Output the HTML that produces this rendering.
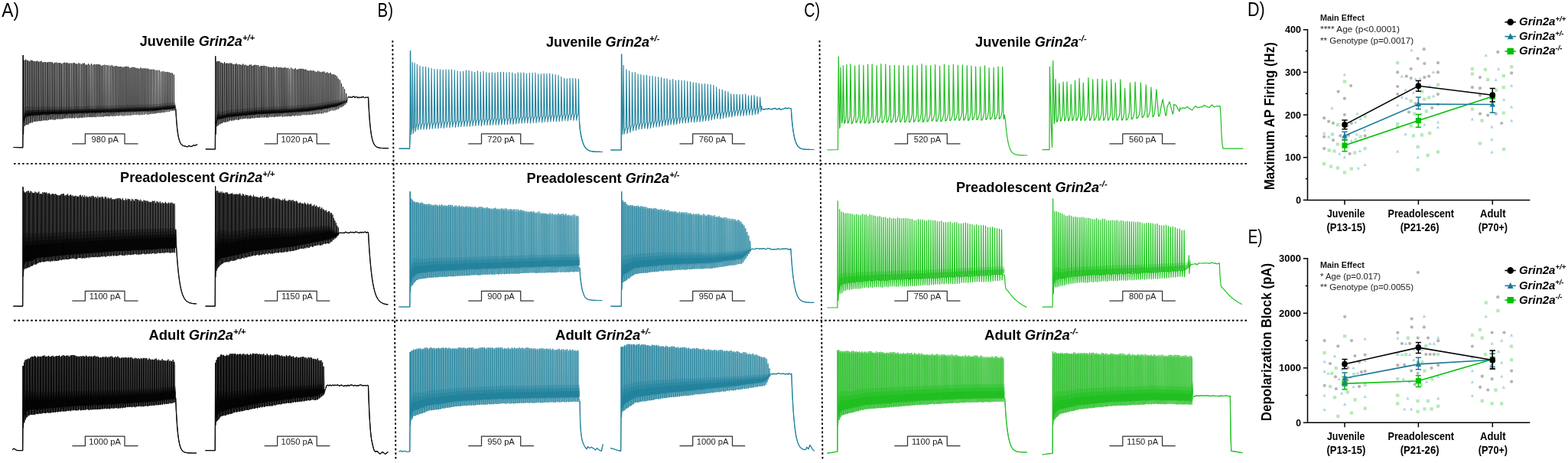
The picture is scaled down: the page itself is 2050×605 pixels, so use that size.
<!DOCTYPE html><html><head><meta charset="utf-8"><title>Grin2a firing</title><style>html,body{margin:0;padding:0;background:#fff;overflow:hidden;width:2050px;height:605px;}svg{display:block;}</style></head><body><svg width="2050" height="605" viewBox="0 0 2050 605" font-family="'Liberation Sans', Arial, sans-serif"><rect width="100%" height="100%" fill="#fff"/><text x="2.2" y="21.7" font-size="25.5" font-weight="normal" font-style="normal" text-anchor="start" fill="#000" textLength="22.8" lengthAdjust="spacingAndGlyphs">A)</text>
<text x="493.6" y="21.7" font-size="25.5" font-weight="normal" font-style="normal" text-anchor="start" fill="#000" textLength="20.4" lengthAdjust="spacingAndGlyphs">B)</text>
<text x="1051.2" y="21.7" font-size="25.5" font-weight="normal" font-style="normal" text-anchor="start" fill="#000" textLength="20.8" lengthAdjust="spacingAndGlyphs">C)</text>
<text x="1631" y="21.4" font-size="25.5" font-weight="normal" font-style="normal" text-anchor="start" fill="#000" textLength="22.8" lengthAdjust="spacingAndGlyphs">D)</text>
<text x="1631.8" y="317.8" font-size="25.5" font-weight="normal" font-style="normal" text-anchor="start" fill="#000" textLength="18.7" lengthAdjust="spacingAndGlyphs">E)</text>
<text x="182.7" y="60.4" font-size="18.6" font-weight="bold" fill="#000" textLength="150.3" lengthAdjust="spacingAndGlyphs">Juvenile <tspan font-style="italic">Grin2a</tspan><tspan font-style="italic" font-size="11.5" dy="-7">+/+</tspan></text>
<text x="157.1" y="238.2" font-size="18.6" font-weight="bold" fill="#000" textLength="202.3" lengthAdjust="spacingAndGlyphs">Preadolescent <tspan font-style="italic">Grin2a</tspan><tspan font-style="italic" font-size="11.5" dy="-7">+/+</tspan></text>
<text x="194.5" y="443.9" font-size="18.6" font-weight="bold" fill="#000" textLength="127" lengthAdjust="spacingAndGlyphs">Adult <tspan font-style="italic">Grin2a</tspan><tspan font-style="italic" font-size="11.5" dy="-7">+/+</tspan></text>
<text x="714" y="60.5" font-size="18.6" font-weight="bold" fill="#000" textLength="148.4" lengthAdjust="spacingAndGlyphs">Juvenile <tspan font-style="italic">Grin2a</tspan><tspan font-style="italic" font-size="11.5" dy="-7">+/-</tspan></text>
<text x="688.6" y="239.1" font-size="18.6" font-weight="bold" fill="#000" textLength="200" lengthAdjust="spacingAndGlyphs">Preadolescent <tspan font-style="italic">Grin2a</tspan><tspan font-style="italic" font-size="11.5" dy="-7">+/-</tspan></text>
<text x="726" y="443.7" font-size="18.6" font-weight="bold" fill="#000" textLength="124.9" lengthAdjust="spacingAndGlyphs">Adult <tspan font-style="italic">Grin2a</tspan><tspan font-style="italic" font-size="11.5" dy="-7">+/-</tspan></text>
<text x="1275.1" y="60.5" font-size="18.6" font-weight="bold" fill="#000" textLength="145.6" lengthAdjust="spacingAndGlyphs">Juvenile <tspan font-style="italic">Grin2a</tspan><tspan font-style="italic" font-size="11.5" dy="-7">-/-</tspan></text>
<text x="1249.9" y="250.5" font-size="18.6" font-weight="bold" fill="#000" textLength="197.8" lengthAdjust="spacingAndGlyphs">Preadolescent <tspan font-style="italic">Grin2a</tspan><tspan font-style="italic" font-size="11.5" dy="-7">-/-</tspan></text>
<text x="1287.1" y="443.7" font-size="18.6" font-weight="bold" fill="#000" textLength="122.5" lengthAdjust="spacingAndGlyphs">Adult <tspan font-style="italic">Grin2a</tspan><tspan font-style="italic" font-size="11.5" dy="-7">-/-</tspan></text>
<g stroke="#000" stroke-width="1.9" stroke-dasharray="2.6 2.95" fill="none">
<line x1="18" y1="213.9" x2="1632" y2="213.9"/>
<line x1="18" y1="418.8" x2="1632" y2="418.8"/>
<line x1="513.3" y1="53" x2="517.4" y2="602"/>
<line x1="1071.5" y1="53" x2="1075.4" y2="602"/>
</g>
<path d="M94.3 187.8H111.4V174.9H163V187.8H180.5" fill="none" stroke="#333" stroke-width="1.25" stroke-linejoin="round"/>
<text x="137.2" y="185.8" font-size="11.2" font-weight="normal" font-style="normal" text-anchor="middle" fill="#1a1a1a">980 pA</text>
<path d="M345.6 187.8H362.6V174.9H414.2V187.8H431.3" fill="none" stroke="#333" stroke-width="1.25" stroke-linejoin="round"/>
<text x="388.4" y="185.8" font-size="11.2" font-weight="normal" font-style="normal" text-anchor="middle" fill="#1a1a1a">1020 pA</text>
<path d="M612.2 187.8H629.5V174.9H680.7V187.8H697.9" fill="none" stroke="#333" stroke-width="1.25" stroke-linejoin="round"/>
<text x="655.1" y="185.8" font-size="11.2" font-weight="normal" font-style="normal" text-anchor="middle" fill="#1a1a1a">720 pA</text>
<path d="M888.5 187.8H905.7V174.9H957.5V187.8H974.2" fill="none" stroke="#333" stroke-width="1.25" stroke-linejoin="round"/>
<text x="931.6" y="185.8" font-size="11.2" font-weight="normal" font-style="normal" text-anchor="middle" fill="#1a1a1a">760 pA</text>
<path d="M1169.3 187.8H1186.5V174.9H1238.3V187.8H1255.5" fill="none" stroke="#333" stroke-width="1.25" stroke-linejoin="round"/>
<text x="1212.4" y="185.8" font-size="11.2" font-weight="normal" font-style="normal" text-anchor="middle" fill="#1a1a1a">520 pA</text>
<path d="M1450.5 187.8H1467.8V174.9H1519.6V187.8H1536.8" fill="none" stroke="#333" stroke-width="1.25" stroke-linejoin="round"/>
<text x="1493.7" y="185.8" font-size="11.2" font-weight="normal" font-style="normal" text-anchor="middle" fill="#1a1a1a">560 pA</text>
<path d="M94.3 393H111.4V380.3H163V393H180.5" fill="none" stroke="#333" stroke-width="1.25" stroke-linejoin="round"/>
<text x="137.2" y="391" font-size="11.2" font-weight="normal" font-style="normal" text-anchor="middle" fill="#1a1a1a">1100 pA</text>
<path d="M345.6 393H362.6V380.3H414.2V393H431.3" fill="none" stroke="#333" stroke-width="1.25" stroke-linejoin="round"/>
<text x="388.4" y="391" font-size="11.2" font-weight="normal" font-style="normal" text-anchor="middle" fill="#1a1a1a">1150 pA</text>
<path d="M612.2 393H629.5V380.3H680.7V393H697.9" fill="none" stroke="#333" stroke-width="1.25" stroke-linejoin="round"/>
<text x="655.1" y="391" font-size="11.2" font-weight="normal" font-style="normal" text-anchor="middle" fill="#1a1a1a">900 pA</text>
<path d="M888.5 393H905.7V380.3H957.5V393H974.2" fill="none" stroke="#333" stroke-width="1.25" stroke-linejoin="round"/>
<text x="931.6" y="391" font-size="11.2" font-weight="normal" font-style="normal" text-anchor="middle" fill="#1a1a1a">950 pA</text>
<path d="M1169.3 393H1186.5V380.3H1238.3V393H1255.5" fill="none" stroke="#333" stroke-width="1.25" stroke-linejoin="round"/>
<text x="1212.4" y="391" font-size="11.2" font-weight="normal" font-style="normal" text-anchor="middle" fill="#1a1a1a">750 pA</text>
<path d="M1450.5 393H1467.8V380.3H1519.6V393H1536.8" fill="none" stroke="#333" stroke-width="1.25" stroke-linejoin="round"/>
<text x="1493.7" y="391" font-size="11.2" font-weight="normal" font-style="normal" text-anchor="middle" fill="#1a1a1a">800 pA</text>
<path d="M94.3 582.7H111.4V570.2H163V582.7H180.5" fill="none" stroke="#333" stroke-width="1.25" stroke-linejoin="round"/>
<text x="137.2" y="580.7" font-size="11.2" font-weight="normal" font-style="normal" text-anchor="middle" fill="#1a1a1a">1000 pA</text>
<path d="M345.6 582.7H362.6V570.2H414.2V582.7H431.3" fill="none" stroke="#333" stroke-width="1.25" stroke-linejoin="round"/>
<text x="388.4" y="580.7" font-size="11.2" font-weight="normal" font-style="normal" text-anchor="middle" fill="#1a1a1a">1050 pA</text>
<path d="M612.2 582.7H629.5V570.2H680.7V582.7H697.9" fill="none" stroke="#333" stroke-width="1.25" stroke-linejoin="round"/>
<text x="655.1" y="580.7" font-size="11.2" font-weight="normal" font-style="normal" text-anchor="middle" fill="#1a1a1a">950 pA</text>
<path d="M888.5 582.7H905.7V570.2H957.5V582.7H974.2" fill="none" stroke="#333" stroke-width="1.25" stroke-linejoin="round"/>
<text x="931.6" y="580.7" font-size="11.2" font-weight="normal" font-style="normal" text-anchor="middle" fill="#1a1a1a">1000 pA</text>
<path d="M1169.3 582.7H1186.5V570.2H1238.3V582.7H1255.5" fill="none" stroke="#333" stroke-width="1.25" stroke-linejoin="round"/>
<text x="1212.4" y="580.7" font-size="11.2" font-weight="normal" font-style="normal" text-anchor="middle" fill="#1a1a1a">1100 pA</text>
<path d="M1450.5 582.7H1467.8V570.2H1519.6V582.7H1536.8" fill="none" stroke="#333" stroke-width="1.25" stroke-linejoin="round"/>
<text x="1493.7" y="580.7" font-size="11.2" font-weight="normal" font-style="normal" text-anchor="middle" fill="#1a1a1a">1150 pA</text>
<path d="M30 147L33.3 139.1L36.7 139.2L40 139.3L43.3 139.4L46.6 139.5L50 139.4L53.3 139.4L56.6 139.3L60 139.3L63.3 139.3L66.6 139.3L69.9 139.3L73.3 139.4L76.6 139.4L79.9 139.4L83.3 139.5L86.6 139.5L89.9 139.4L93.2 139.3L96.6 139.2L99.9 139.1L103.2 139L106.6 138.9L109.9 138.8L113.2 138.7L116.5 138.6L119.9 138.5L123.2 138.5L126.5 138.4L129.8 138.3L133.2 138.2L136.5 138.1L139.8 138L143.2 137.9L146.5 137.8L149.8 137.7L153.1 137.6L156.5 137.6L159.8 137.5L163.1 137.4L166.5 137.3L169.8 137.2L173.1 137.1L176.4 137L179.8 136.9L183.1 136.8L186.4 136.7L189.8 136.6L193.1 136.5L196.4 136.4L199.7 136.3L203.1 136L206.4 135.7L209.7 135.4L213.1 135.1L216.4 134.8L219.7 134.5L223 134.2L226.4 133.8L229.7 133.5L229.7 141.5L226.4 141.9L223 142.2L219.7 142.5L216.4 142.9L213.1 143.2L209.7 143.5L206.4 143.9L203.1 144.2L199.7 144.5L196.4 144.6L193.1 144.7L189.8 144.9L186.4 145L183.1 145.1L179.8 145.2L176.4 145.3L173.1 145.5L169.8 145.6L166.5 145.7L163.1 145.8L159.8 145.9L156.5 146.1L153.1 146.2L149.8 146.3L146.5 146.4L143.2 146.5L139.8 146.6L136.5 146.8L133.2 146.9L129.8 147L126.5 147.1L123.2 147.2L119.9 147.3L116.5 147.4L113.2 147.5L109.9 147.6L106.6 147.7L103.2 147.9L99.9 148L96.6 148.1L93.2 148.2L89.9 148.3L86.6 148.4L83.3 148.6L79.9 148.7L76.6 148.8L73.3 149L69.9 149.1L66.6 149.2L63.3 149.4L60 149.5L56.6 149.7L53.3 149.9L50 150.2L46.6 150.4L43.3 150.8L40 151.3L36.7 151.9L33.3 152.4L30 161Z" fill="#000" fill-opacity="0.2"/>
<path d="M30 152.6L33.3 144.4L36.7 144.3L40 144.1L43.3 144L46.6 143.8L50 143.7L53.3 143.6L56.6 143.5L60 143.4L63.3 143.3L66.6 143.3L69.9 143.3L73.3 143.2L76.6 143.2L79.9 143.2L83.3 143.1L86.6 143.1L89.9 142.9L93.2 142.8L96.6 142.7L99.9 142.6L103.2 142.5L106.6 142.4L109.9 142.3L113.2 142.2L116.5 142.1L119.9 142L123.2 141.9L126.5 141.9L129.8 141.8L133.2 141.7L136.5 141.6L139.8 141.5L143.2 141.4L146.5 141.3L149.8 141.2L153.1 141.1L156.5 141L159.8 140.8L163.1 140.7L166.5 140.6L169.8 140.5L173.1 140.4L176.4 140.3L179.8 140.2L183.1 140.1L186.4 140L189.8 139.9L193.1 139.8L196.4 139.7L199.7 139.6L203.1 139.3L206.4 139L209.7 138.6L213.1 138.3L216.4 138L219.7 137.7L223 137.4L226.4 137.1L229.7 136.7L229.7 141.5L226.4 141.9L223 142.2L219.7 142.5L216.4 142.9L213.1 143.2L209.7 143.5L206.4 143.9L203.1 144.2L199.7 144.5L196.4 144.6L193.1 144.7L189.8 144.9L186.4 145L183.1 145.1L179.8 145.2L176.4 145.3L173.1 145.5L169.8 145.6L166.5 145.7L163.1 145.8L159.8 145.9L156.5 146.1L153.1 146.2L149.8 146.3L146.5 146.4L143.2 146.5L139.8 146.6L136.5 146.8L133.2 146.9L129.8 147L126.5 147.1L123.2 147.2L119.9 147.3L116.5 147.4L113.2 147.5L109.9 147.6L106.6 147.7L103.2 147.9L99.9 148L96.6 148.1L93.2 148.2L89.9 148.3L86.6 148.4L83.3 148.6L79.9 148.7L76.6 148.8L73.3 149L69.9 149.1L66.6 149.2L63.3 149.4L60 149.5L56.6 149.7L53.3 149.9L50 150.2L46.6 150.4L43.3 150.8L40 151.3L36.7 151.9L33.3 152.4L30 161Z" fill="#000" fill-opacity="0.5"/>
<path d="M30 156.1L33.3 147.8L36.7 147.5L40 147.1L43.3 146.8L46.6 146.6L50 146.4L53.3 146.2L56.6 146.1L60 145.9L63.3 145.8L66.6 145.8L69.9 145.7L73.3 145.6L76.6 145.5L79.9 145.5L83.3 145.4L86.6 145.3L89.9 145.2L93.2 145.1L96.6 145L99.9 144.9L103.2 144.8L106.6 144.6L109.9 144.5L113.2 144.4L116.5 144.3L119.9 144.2L123.2 144.1L126.5 144L129.8 144L133.2 143.9L136.5 143.7L139.8 143.6L143.2 143.5L146.5 143.4L149.8 143.3L153.1 143.2L156.5 143.1L159.8 143L163.1 142.9L166.5 142.7L169.8 142.6L173.1 142.5L176.4 142.4L179.8 142.3L183.1 142.2L186.4 142.1L189.8 142L193.1 141.9L196.4 141.7L199.7 141.6L203.1 141.3L206.4 141L209.7 140.7L213.1 140.4L216.4 140L219.7 139.7L223 139.4L226.4 139.1L229.7 138.7L229.7 141.5L226.4 141.9L223 142.2L219.7 142.5L216.4 142.9L213.1 143.2L209.7 143.5L206.4 143.9L203.1 144.2L199.7 144.5L196.4 144.6L193.1 144.7L189.8 144.9L186.4 145L183.1 145.1L179.8 145.2L176.4 145.3L173.1 145.5L169.8 145.6L166.5 145.7L163.1 145.8L159.8 145.9L156.5 146.1L153.1 146.2L149.8 146.3L146.5 146.4L143.2 146.5L139.8 146.6L136.5 146.8L133.2 146.9L129.8 147L126.5 147.1L123.2 147.2L119.9 147.3L116.5 147.4L113.2 147.5L109.9 147.6L106.6 147.7L103.2 147.9L99.9 148L96.6 148.1L93.2 148.2L89.9 148.3L86.6 148.4L83.3 148.6L79.9 148.7L76.6 148.8L73.3 149L69.9 149.1L66.6 149.2L63.3 149.4L60 149.5L56.6 149.7L53.3 149.9L50 150.2L46.6 150.4L43.3 150.8L40 151.3L36.7 151.9L33.3 152.4L30 161Z" fill="#000" fill-opacity="0.8"/>
<path d="M17.4 192.5L29.8 192.8L30 161.8L30.2 72L30.6 175.7L31.1 161.3L31.7 153.8L31.9 78.6L32.3 164.7L32.8 153.9L33.4 154L33.6 77.8L34 163.3L34.5 153.5L35.1 153.6L35.3 78.7L35.7 163.1L36.2 153.3L36.8 152.5L37 79.3L37.4 162.5L37.9 152.4L38.5 151.8L38.7 80.1L39.1 161L39.6 151.5L40.2 152.2L40.4 78.6L40.8 160.4L41.3 152.6L41.9 151.5L42.1 78.9L42.5 160.2L43 151.4L43.6 151.9L43.8 79.8L44.3 159.1L44.7 151.6L45.3 151.3L45.5 80.2L46 158.9L46.4 151.4L47 150.6L47.2 79.9L47.7 158.5L48.1 150.9L48.8 150.8L49 79.6L49.4 158.6L49.9 151.3L50.5 150.2L50.7 80.8L51.2 158.1L51.6 149.7L52.2 151.1L52.4 80.3L52.9 158.3L53.3 151.1L54 150.2L54.2 79.7L54.6 158L55.1 150.3L55.7 150.1L55.9 81.5L56.4 157.4L56.8 150.2L57.5 149.9L57.7 81.1L58.1 157.3L58.6 150.4L59.2 150.6L59.4 81L59.9 157.3L60.3 150.9L61 149.7L61.2 81.6L61.6 157.4L62.1 149.4L62.7 150.5L62.9 81.2L63.4 156.9L63.8 150.5L64.5 150.3L64.7 80.9L65.1 156.3L65.6 150.6L66.3 149.9L66.5 81L66.9 156.2L67.4 150.3L68 149.7L68.2 81.1L68.7 156.3L69.1 150.1L69.8 149.9L70 82.7L70.5 156.6L70.9 149.8L71.6 149.1L71.8 81.8L72.2 156.5L72.7 148.7L73.4 149.7L73.6 81.5L74 155.7L74.5 149.7L75.2 149.9L75.4 82.4L75.8 155.5L76.3 149.8L77 148.9L77.2 82L77.6 155.7L78.1 149.1L78.8 149.1L79 82.3L79.4 155.6L79.9 148.5L80.5 148.8L80.7 83.2L81.2 155.6L81.6 149.2L82.4 149.5L82.6 82.2L83 155.1L83.5 149.6L84.2 149.3L84.4 81.6L84.8 154.6L85.3 148.9L86 149.4L86.2 82.2L86.6 154.5L87.1 149L87.8 149.3L88 81.8L88.4 154.7L88.9 149.8L89.6 149L89.8 82.9L90.3 154.4L90.7 148.8L91.4 148.4L91.6 82.4L92.1 154.3L92.5 149L93.3 149.1L93.5 82.7L93.9 154.5L94.4 148.6L95.1 148.3L95.3 82.5L95.7 154.2L96.2 147.9L96.9 148.6L97.1 81.9L97.6 154.8L98 148.1L98.8 148.4L99 83L99.4 153.7L99.9 149L100.6 148.7L100.8 83.7L101.3 154.3L101.7 148.5L102.5 148.3L102.7 82.4L103.1 154.3L103.6 148.7L104.3 148L104.5 82.8L105 153.6L105.4 148.6L106.2 147.9L106.4 83.9L106.8 154.1L107.3 148.2L108 148.3L108.2 82.8L108.7 153.7L109.1 147.7L109.9 148.3L110.1 82.5L110.5 153.4L111 148.5L111.8 147.6L112 84.5L112.4 153.4L112.9 148.2L113.6 148.2L113.8 84.6L114.3 153.2L114.7 147.8L115.5 147.7L115.7 83.3L116.2 153L116.6 148.2L117.4 147.7L117.6 84.7L118 153.1L118.5 148L119.3 147.4L119.5 83.3L119.9 153.2L120.4 147.7L121.2 147.9L121.4 84.7L121.8 152.9L122.3 148.3L123.1 147.2L123.3 84L123.7 153.1L124.2 147.1L125 147.4L125.2 84.3L125.6 153.2L126.1 147L126.9 147.2L127.1 83.9L127.5 152.3L128 147.5L128.8 147.1L129 84L129.4 152.9L129.9 147.2L130.7 147.7L130.9 84.6L131.3 152.5L131.8 147.1L132.6 147.3L132.8 85.9L133.2 152.5L133.7 147.8L134.5 147L134.7 85L135.2 152.6L135.6 146.6L136.4 147.4L136.6 84.7L137.1 152L137.5 147.5L138.4 147.4L138.6 84.9L139 152L139.5 147.9L140.3 147L140.5 85.2L140.9 151.9L141.4 147.4L142.2 147L142.4 85.5L142.9 152.3L143.3 147L144.2 146.9L144.4 85.9L144.8 151.3L145.3 146.5L146.1 147.1L146.3 85L146.7 152L147.2 147.1L148 146.9L148.2 86.6L148.7 151.7L149.1 146.9L150 147L150.2 86.4L150.6 151.8L151.1 147.1L151.9 146.4L152.1 86L152.6 151.2L153 146.4L153.9 146.2L154.1 86.8L154.6 151.6L155 146.1L155.9 146.5L156.1 87.1L156.5 151.2L157 146.7L157.8 146.4L158 86.9L158.5 151.1L158.9 146.9L159.8 146L160 87.6L160.5 151.4L160.9 145.7L161.8 146L162 87.5L162.4 151.4L162.9 145.6L163.8 146.5L164 86.8L164.4 150.8L164.9 146.2L165.7 145.9L165.9 86.8L166.4 150.9L166.8 146.4L167.7 145.9L167.9 87.2L168.4 150.8L168.8 145.5L169.7 146.2L169.9 88.8L170.4 151L170.8 146.8L171.7 145.5L171.9 88L172.4 150.4L172.8 145.9L173.7 145.8L173.9 87.7L174.4 150.2L174.8 145.6L175.7 145.6L175.9 87.9L176.4 150L176.8 145L177.7 146L177.9 88.8L178.4 150.1L178.8 145.8L179.7 145.9L179.9 89.1L180.4 150L180.8 146.5L181.7 145.9L181.9 89.7L182.4 150.4L182.8 145.6L183.8 145.6L184 88.4L184.4 150.1L184.9 145.2L185.8 145.1L186 89.5L186.4 150.1L186.9 144.9L187.8 145.3L188 89.2L188.5 150L188.9 145.5L189.8 145.1L190 89.3L190.5 149.1L190.9 145L191.9 145.1L192.1 89.5L192.5 149.8L193 145.4L193.9 145.4L194.1 89.8L194.6 149.7L195 145.8L196 144.9L196.2 90.8L196.6 149L197.1 145.5L198 144.9L198.2 90.7L198.7 148.7L199.1 144.6L200.1 145.1L200.3 90.6L200.7 148.7L201.2 144.7L202.1 144.4L202.3 91.3L202.8 148.5L203.2 144.2L204.2 144.5L204.4 91.9L204.8 148L205.3 143.9L206.2 144L206.4 91.7L206.9 147.5L207.3 144.1L208.3 143.7L208.5 91.8L209 147.6L209.4 143.2L210.4 143.8L210.6 93.6L211 147.3L211.5 144.2L212.5 143.4L212.7 93.2L213.1 147L213.6 144L214.5 143.2L214.7 93.5L215.2 147L215.6 143.4L216.6 143.3L216.8 94.1L217.3 146.2L217.7 142.9L218.7 143L218.9 93.9L219.4 146.2L219.8 142.6L220.8 142.5L221 94.4L221.4 146L221.9 142.7L222.9 142.5L223.1 95.2L223.5 145.1L224 142.5L225 142.3L225.2 95.4L225.6 144.9L226.1 142.9L227.1 142.1L227.3 97.5L227.7 144.6L228.2 142.7L229.7 142L230.2 150L230.9 159.8L231.6 167.3L232.3 173L233 177.4L233.7 180.7L234.4 183.2L235.1 185.2L235.8 186.7L236.5 187.8L237.2 188.7L237.9 189.4L238.6 189.9L239.3 190.2L240 190.5L240.7 190.8L241.4 190.9L242.1 191.1L242.8 191.2L245 192L247 190.3L249 191.6L251 191.2L253 189.6L255 190.2L258 188.6" fill="none" stroke="#050505" stroke-width="0.8" stroke-linejoin="round"/>
<path d="M17.4 192.5L29.8 192.8L30 176L30.2 72" fill="none" stroke="#050505" stroke-width="1.2" stroke-linejoin="round"/>
<path d="M229.7 142L230.2 150L230.9 159.8L231.6 167.3L232.3 173L233 177.4L233.7 180.7L234.4 183.2L235.1 185.2L235.8 186.7L236.5 187.8L237.2 188.7L237.9 189.4L238.6 189.9L239.3 190.2L240 190.5L240.7 190.8L241.4 190.9L242.1 191.1L242.8 191.2L245 192L247 190.3L249 191.6L251 191.2L253 189.6L255 190.2L258 188.6" fill="none" stroke="#050505" stroke-width="1.2" stroke-linejoin="round"/>
<path d="M281.5 154L284.4 144.8L287.3 145.4L290.2 146L293.1 145.3L296 144.6L298.9 144L301.7 143.5L304.6 143.3L307.5 143L310.4 142.7L313.3 142.4L316.2 142.2L319.1 141.9L322 141.6L324.9 141.4L327.8 141.1L330.7 140.9L333.6 140.6L336.4 140.4L339.3 140.1L342.2 140L345.1 139.9L348 139.7L350.9 139.6L353.8 139.5L356.7 139.4L359.6 139.3L362.5 139.2L365.4 139.1L368.2 139L371.1 138.9L374 138.7L376.9 138.5L379.8 138.3L382.7 138.1L385.6 137.9L388.5 137.8L391.4 137.6L394.3 137.4L397.2 137.2L400.1 137L402.9 136.7L405.8 136.3L408.7 135.9L411.6 135.5L414.5 135.2L417.4 134.8L420.3 134.4L423.2 133.9L426.1 133.4L429 132.8L431.9 132.3L434.8 131.8L437.6 131.2L440.5 130.8L443.4 130.7L446.3 130.5L449.2 130.4L452.1 130.9L455 131.5L455 131.5L452.1 133.2L449.2 134.7L446.3 136L443.4 137.3L440.5 138.6L437.6 139.2L434.8 139.8L431.9 140.3L429 140.9L426.1 141.4L423.2 142L420.3 142.5L417.4 142.9L414.5 143.3L411.6 143.7L408.7 144.1L405.8 144.5L402.9 144.9L400.1 145.3L397.2 145.5L394.3 145.7L391.4 145.9L388.5 146.1L385.6 146.3L382.7 146.5L379.8 146.7L376.9 146.9L374 147.1L371.1 147.3L368.2 147.5L365.4 147.6L362.5 147.7L359.6 147.8L356.7 147.9L353.8 148.1L350.9 148.2L348 148.4L345.1 148.5L342.2 148.6L339.3 148.8L336.4 149.1L333.6 149.3L330.7 149.6L327.8 149.9L324.9 150.1L322 150.4L319.1 150.7L316.2 151L313.3 151.3L310.4 151.6L307.5 151.9L304.6 152.2L301.7 152.5L298.9 152.9L296 153.6L293.1 154.3L290.2 155L287.3 155.4L284.4 155.8L281.5 166Z" fill="#000" fill-opacity="0.2"/>
<path d="M281.5 158.8L284.4 149.2L287.3 149.4L290.2 149.6L293.1 148.9L296 148.2L298.9 147.5L301.7 147.1L304.6 146.8L307.5 146.5L310.4 146.3L313.3 146L316.2 145.7L319.1 145.4L322 145.1L324.9 144.9L327.8 144.6L330.7 144.4L333.6 144.1L336.4 143.9L339.3 143.6L342.2 143.4L345.1 143.3L348 143.2L350.9 143.1L353.8 142.9L356.7 142.8L359.6 142.7L362.5 142.6L365.4 142.5L368.2 142.4L371.1 142.2L374 142.1L376.9 141.9L379.8 141.7L382.7 141.5L385.6 141.3L388.5 141.1L391.4 140.9L394.3 140.7L397.2 140.5L400.1 140.3L402.9 140L405.8 139.6L408.7 139.2L411.6 138.8L414.5 138.4L417.4 138.1L420.3 137.7L423.2 137.1L426.1 136.6L429 136.1L431.9 135.5L434.8 135L437.6 134.4L440.5 133.9L443.4 133.3L446.3 132.7L449.2 132.2L452.1 131.8L455 131.5L455 131.5L452.1 133.2L449.2 134.7L446.3 136L443.4 137.3L440.5 138.6L437.6 139.2L434.8 139.8L431.9 140.3L429 140.9L426.1 141.4L423.2 142L420.3 142.5L417.4 142.9L414.5 143.3L411.6 143.7L408.7 144.1L405.8 144.5L402.9 144.9L400.1 145.3L397.2 145.5L394.3 145.7L391.4 145.9L388.5 146.1L385.6 146.3L382.7 146.5L379.8 146.7L376.9 146.9L374 147.1L371.1 147.3L368.2 147.5L365.4 147.6L362.5 147.7L359.6 147.8L356.7 147.9L353.8 148.1L350.9 148.2L348 148.4L345.1 148.5L342.2 148.6L339.3 148.8L336.4 149.1L333.6 149.3L330.7 149.6L327.8 149.9L324.9 150.1L322 150.4L319.1 150.7L316.2 151L313.3 151.3L310.4 151.6L307.5 151.9L304.6 152.2L301.7 152.5L298.9 152.9L296 153.6L293.1 154.3L290.2 155L287.3 155.4L284.4 155.8L281.5 166Z" fill="#000" fill-opacity="0.5"/>
<path d="M281.5 161.8L284.4 152L287.3 151.9L290.2 151.8L293.1 151.1L296 150.5L298.9 149.8L301.7 149.3L304.6 149L307.5 148.8L310.4 148.5L313.3 148.2L316.2 147.9L319.1 147.6L322 147.3L324.9 147.1L327.8 146.8L330.7 146.6L333.6 146.3L336.4 146L339.3 145.8L342.2 145.6L345.1 145.5L348 145.3L350.9 145.2L353.8 145.1L356.7 144.9L359.6 144.8L362.5 144.7L365.4 144.6L368.2 144.5L371.1 144.4L374 144.2L376.9 144L379.8 143.8L382.7 143.6L385.6 143.4L388.5 143.2L391.4 143L394.3 142.8L397.2 142.6L400.1 142.4L402.9 142L405.8 141.6L408.7 141.2L411.6 140.9L414.5 140.5L417.4 140.1L420.3 139.7L423.2 139.2L426.1 138.6L429 138.1L431.9 137.5L434.8 137L437.6 136.4L440.5 135.8L443.4 135L446.3 134.1L449.2 133.2L452.1 132.4L455 131.5L455 131.5L452.1 133.2L449.2 134.7L446.3 136L443.4 137.3L440.5 138.6L437.6 139.2L434.8 139.8L431.9 140.3L429 140.9L426.1 141.4L423.2 142L420.3 142.5L417.4 142.9L414.5 143.3L411.6 143.7L408.7 144.1L405.8 144.5L402.9 144.9L400.1 145.3L397.2 145.5L394.3 145.7L391.4 145.9L388.5 146.1L385.6 146.3L382.7 146.5L379.8 146.7L376.9 146.9L374 147.1L371.1 147.3L368.2 147.5L365.4 147.6L362.5 147.7L359.6 147.8L356.7 147.9L353.8 148.1L350.9 148.2L348 148.4L345.1 148.5L342.2 148.6L339.3 148.8L336.4 149.1L333.6 149.3L330.7 149.6L327.8 149.9L324.9 150.1L322 150.4L319.1 150.7L316.2 151L313.3 151.3L310.4 151.6L307.5 151.9L304.6 152.2L301.7 152.5L298.9 152.9L296 153.6L293.1 154.3L290.2 155L287.3 155.4L284.4 155.8L281.5 166Z" fill="#000" fill-opacity="0.8"/>
<path d="M268.8 194.9L281.3 195L281.5 167.5L281.7 73.4L282.1 175.9L282.6 167.3L283.2 157.1L283.4 80.5L283.8 165.1L284.3 157.1L284.8 156.8L285 79.8L285.5 163.7L285.9 156.7L286.5 156.2L286.7 80.1L287.2 162.4L287.6 155.9L288.2 155.5L288.4 81.5L288.9 161.7L289.3 155.7L289.9 155.6L290.1 82L290.6 160.9L291 155.3L291.6 154.8L291.8 82.8L292.2 159.7L292.7 155L293.3 154.3L293.5 81.1L293.9 159.9L294.4 154.5L295 154.5L295.2 82.7L295.7 159.5L296.1 154.6L296.7 153.6L296.9 82.5L297.4 159L297.8 154L298.4 153.3L298.6 82.9L299.1 158.6L299.5 153.5L300.1 153.2L300.3 82.5L300.8 157.3L301.2 153.1L301.9 152.8L302.1 82.4L302.5 157.9L303 153L303.6 152.7L303.8 83.5L304.2 157.5L304.7 152.1L305.3 152.5L305.5 84L306 157.3L306.4 152.5L307.1 152.1L307.3 83.9L307.7 156.4L308.2 151.8L308.8 151.9L309 82.9L309.4 156.4L309.9 151.6L310.5 152L310.7 84.3L311.2 156.9L311.6 151.8L312.3 151.6L312.5 83.9L312.9 156.3L313.4 151.7L314 151.8L314.2 84.4L314.7 155.5L315.1 151.5L315.8 151.3L316 84.8L316.5 155.5L316.9 150.7L317.6 151.1L317.8 83.5L318.2 155.2L318.7 151.3L319.3 151L319.5 84.9L320 155L320.4 150.9L321.1 150.6L321.3 84.6L321.8 154.6L322.2 150.2L322.9 151.1L323.1 85.8L323.5 155.3L324 151L324.7 150.6L324.9 85.6L325.3 155.2L325.8 150.3L326.5 150.6L326.7 84.5L327.1 155L327.6 150.7L328.2 149.9L328.4 84.5L328.9 154.5L329.3 149.4L330 149.8L330.2 86L330.7 154.3L331.1 150L331.8 149.9L332 85L332.5 154.6L332.9 149.3L333.6 149.7L333.8 84.7L334.3 154L334.7 149.5L335.5 149.6L335.7 85.1L336.1 153.7L336.6 150L337.3 149.1L337.5 85L337.9 154L338.4 148.7L339.1 148.9L339.3 87L339.7 153.8L340.2 148.7L340.9 148.7L341.1 86L341.6 153.4L342 148.8L342.7 149.1L342.9 86.1L343.4 153.3L343.8 148.6L344.6 149.1L344.8 85.8L345.2 153.7L345.7 149.6L346.4 148.8L346.6 86.2L347.1 153L347.5 148.4L348.2 148.4L348.4 86.6L348.9 153.7L349.3 148.8L350.1 148.3L350.3 87.3L350.7 153.5L351.2 148.4L351.9 148.3L352.1 87.6L352.6 152.6L353 148.3L353.8 148.6L354 87.8L354.4 153.1L354.9 148.1L355.7 148.3L355.9 88.3L356.3 152.6L356.8 148.2L357.5 147.9L357.7 87.2L358.2 153.1L358.6 147.6L359.4 148.1L359.6 88.1L360 152.6L360.5 148L361.3 148.3L361.5 87.2L361.9 152.4L362.4 148.8L363.1 147.7L363.3 88L363.8 152.4L364.2 148.3L365 148.1L365.2 88.1L365.7 152.2L366.1 147.7L366.9 148L367.1 88L367.6 152.1L368 147.7L368.8 147.6L369 88.6L369.5 152.8L369.9 147.5L370.7 147.8L370.9 88.5L371.4 152.4L371.8 147.6L372.6 147.2L372.8 87.9L373.3 152L373.7 146.8L374.5 147.2L374.7 89L375.2 152.2L375.6 146.8L376.4 147.4L376.6 88.7L377.1 151.7L377.5 147.3L378.3 146.9L378.5 90.2L379 152.2L379.4 146.3L380.3 146.8L380.5 88.5L380.9 151.9L381.4 146.7L382.2 147L382.4 89.7L382.8 151L383.3 147.5L384.1 146.4L384.3 90.4L384.8 151.8L385.2 146.1L386 146.6L386.2 89.1L386.7 150.9L387.1 146.8L388 146.4L388.2 90.9L388.6 151.4L389.1 146.7L389.9 146.7L390.1 90.1L390.6 151.1L391 147.1L391.9 146.2L392.1 89.8L392.5 151.3L393 145.9L393.8 146L394 89.8L394.5 150.5L394.9 146.2L395.8 145.9L396 89.9L396.4 150.2L396.9 146L397.7 145.7L397.9 90.6L398.4 150.2L398.8 145.2L399.7 145.4L399.9 90.6L400.3 150.3L400.8 145.5L401.7 145.7L401.9 92L402.3 150.1L402.8 145.3L403.6 145.4L403.8 92.5L404.3 150.1L404.7 144.8L405.6 145L405.8 91.8L406.3 149.9L406.7 144.7L407.6 144.9L407.8 92.4L408.3 149.9L408.7 144.4L409.6 144.3L409.8 92.1L410.2 149.2L410.7 143.9L411.6 144.1L411.8 93.3L412.2 149.3L412.7 143.8L413.6 143.6L413.8 93.9L414.2 148.6L414.7 143.3L415.6 143.8L415.8 92.7L416.2 148.8L416.7 144.3L417.6 143.5L417.8 93.6L418.2 148.1L418.7 143.4L419.6 143.4L419.8 94.2L420.3 148.6L420.7 143.3L421.6 143.1L421.8 93.6L422.3 148.2L422.7 142.5L423.6 142L423.8 93.6L424.3 147.1L424.7 142.4L425.7 141.6L425.9 95.2L426.3 147.2L426.8 141.4L427.7 141.3L427.9 94.4L428.3 146.7L428.8 140.8L429.7 141.2L429.9 95.7L430.4 145.6L430.8 141L431.8 140.8L432 95L432.4 144.8L432.9 140.7L433.8 140L434 97L434.5 144.4L434.9 139.6L435.9 139.7L436.1 97.1L436.5 144.6L437 139.6L437.9 139.6L438.1 97.8L438.6 143.8L439 140.1L440 138.9L440.2 99.4L440.6 143.2L441.1 138.3L442 138.1L442.2 102.5L442.7 142.4L443.1 137.5L444.1 137L444.3 104.5L444.7 140.4L445.2 136.7L446.2 136.5L446.4 108.8L446.8 140.1L447.3 136.2L448.2 135.5L448.4 113.4L448.9 138.6L449.3 135.8L450.3 134.6L450.5 116.3L451 136.8L451.4 134.9L452.4 133L452.6 122L453.1 134.7L453.5 132.4L455 126.5L456.3 127.1L457.6 126.7L458.9 127.2L460.2 127.3L461.5 126.1L462.8 126L464.1 127.7L465.4 126.5L466.7 126.5L468 128L469.3 126.9L470.6 127.7L471.9 127L473.2 127.3L474.5 126.3L475.8 127.3L477.1 127.7L478.4 127L479.7 127.5L481 127L481.5 127L482.2 140.9L482.9 151.9L483.6 160.6L484.3 167.5L485 172.9L485.7 177.3L486.4 180.7L487.1 183.4L487.8 185.5L488.5 187.2L489.2 188.6L489.9 189.6L490.6 190.5L491.3 191.2L492 191.7L492.7 192.1L493.4 192.4L494.1 192.7L494.8 192.9L495.5 193.1L496.2 193.2L496.9 193.3L497.6 193.4L498.3 193.5L499 193.5L499.7 193.5L500.4 193.6L501.1 193.6L501.8 193.6L502.5 193.6L503.2 193.7L503.9 193.7L504.6 193.7L505.3 193.7L506 193.7L506.7 193.7L507.4 193.7L508.1 193.7" fill="none" stroke="#050505" stroke-width="0.8" stroke-linejoin="round"/>
<path d="M268.8 194.9L281.3 195L281.5 176L281.7 73.4" fill="none" stroke="#050505" stroke-width="1.2" stroke-linejoin="round"/>
<path d="M455 126.5L456.3 127.1L457.6 126.7L458.9 127.2L460.2 127.3L461.5 126.1L462.8 126L464.1 127.7L465.4 126.5L466.7 126.5L468 128L469.3 126.9L470.6 127.7L471.9 127L473.2 127.3L474.5 126.3L475.8 127.3L477.1 127.7L478.4 127L479.7 127.5L481 127L481.5 127L482.2 140.9L482.9 151.9L483.6 160.6L484.3 167.5L485 172.9L485.7 177.3L486.4 180.7L487.1 183.4L487.8 185.5L488.5 187.2L489.2 188.6L489.9 189.6L490.6 190.5L491.3 191.2L492 191.7L492.7 192.1L493.4 192.4L494.1 192.7L494.8 192.9L495.5 193.1L496.2 193.2L496.9 193.3L497.6 193.4L498.3 193.5L499 193.5L499.7 193.5L500.4 193.6L501.1 193.6L501.8 193.6L502.5 193.6L503.2 193.7L503.9 193.7L504.6 193.7L505.3 193.7L506 193.7L506.7 193.7L507.4 193.7L508.1 193.7" fill="none" stroke="#050505" stroke-width="1.2" stroke-linejoin="round"/>
<path d="M30.4 252.2L33.7 252.4L37 252.7L40.3 253L43.7 253.2L47 253.5L50.3 253.8L53.6 254.1L56.9 254.3L60.2 254.6L63.6 254.9L66.9 255.2L70.2 255.5L73.5 255.7L76.8 256L80.1 256.2L83.5 256.5L86.8 256.7L90.1 257L93.4 257.2L96.7 257.5L100 257.7L103.4 258L106.7 258.2L110 258.5L113.3 258.7L116.6 259L119.9 259.3L123.3 259.5L126.6 259.8L129.9 260L133.2 260.3L136.5 260.5L139.8 260.7L143.2 261L146.5 261.2L149.8 261.5L153.1 261.7L156.4 262L159.8 262.2L163.1 262.5L166.4 262.7L169.7 263L173 263.2L176.3 263.4L179.6 263.7L183 263.9L186.3 264.2L189.6 264.4L192.9 264.7L196.2 265L199.5 265.3L202.9 265.7L206.2 266L209.5 266.3L212.8 266.7L216.1 267L219.4 267.3L222.8 267.7L226.1 268L229.4 268.3L229.4 329.6L226.1 329.8L222.8 330L219.4 330.2L216.1 330.3L212.8 330.5L209.5 330.7L206.2 330.9L202.9 331.1L199.5 331.3L196.2 331.5L192.9 331.6L189.6 331.8L186.3 332L183 332.2L179.6 332.4L176.3 332.6L173 332.7L169.7 332.9L166.4 333.1L163.1 333.3L159.8 333.5L156.4 333.7L153.1 333.9L149.8 334L146.5 334.3L143.2 334.5L139.8 334.8L136.5 335L133.2 335.3L129.9 335.5L126.6 335.8L123.3 336L119.9 336.3L116.6 336.5L113.3 336.8L110 337L106.7 337.3L103.4 337.5L100 337.8L96.7 338L93.4 338.3L90.1 338.5L86.8 338.9L83.5 339.3L80.1 339.6L76.8 340L73.5 340.4L70.2 340.8L66.9 341.1L63.6 341.5L60.2 341.9L56.9 342.3L53.6 342.7L50.3 343.1L47 344.7L43.7 346.2L40.3 347.7L37 349.2L33.7 350.8L30.4 357Z" fill="#000" fill-opacity="0.2"/>
<path d="M29.9 311.2L33.2 303.2L36.6 304L39.9 304.8L43.2 304.8L46.5 304.8L49.9 304.8L53.2 304.6L56.5 304.5L59.9 304.5L63.2 304.4L66.5 304.2L69.9 304L73.2 303.9L76.5 303.7L79.8 303.5L83.2 303.3L86.5 303.2L89.8 303L93.2 303L96.5 302.9L99.8 302.9L103.2 302.7L106.5 302.6L109.8 302.4L113.2 302.3L116.5 302.1L119.8 301.9L123.1 301.8L126.5 301.6L129.8 301.4L133.1 301.3L136.5 301.1L139.8 300.9L143.1 300.8L146.4 300.6L149.8 300.5L153.1 300.4L156.4 300.3L159.8 300.2L163.1 300.1L166.4 300L169.8 299.9L173.1 299.8L176.4 299.7L179.8 299.6L183.1 299.5L186.4 299.4L189.7 299.3L193.1 299.2L196.4 299.1L199.7 299L203.1 298.9L206.4 298.8L209.7 298.7L213 298.6L216.4 298.5L219.7 298.4L223 298.3L226.4 298.2L229.7 298.1L229.7 324.1L226.4 324.3L223 324.4L219.7 324.6L216.4 324.8L213 325L209.7 325.1L206.4 325.3L203.1 325.5L199.7 325.7L196.4 325.8L193.1 326L189.7 326.2L186.4 326.4L183.1 326.5L179.8 326.7L176.4 326.9L173.1 327.1L169.8 327.3L166.4 327.4L163.1 327.6L159.8 327.8L156.4 328L153.1 328.1L149.8 328.3L146.4 328.5L143.1 328.8L139.8 329L136.5 329.3L133.1 329.5L129.8 329.7L126.5 330L123.1 330.2L119.8 330.5L116.5 330.7L113.2 330.9L109.8 331.2L106.5 331.4L103.2 331.7L99.8 331.9L96.5 332.2L93.2 332.4L89.8 332.6L86.5 333L83.2 333.4L79.8 333.7L76.5 334.1L73.2 334.5L69.9 334.8L66.5 335.2L63.2 335.6L59.9 335.9L56.5 336.1L53.2 336.4L49.9 336.8L46.5 338.2L43.2 339.5L39.9 340.9L36.6 341.4L33.2 341.9L29.9 351.2Z" fill="#000" fill-opacity="0.3"/>
<path d="M29.9 317.2L33.2 309L36.6 309.6L39.9 310.2L43.2 310L46.5 309.8L49.9 309.6L53.2 309.3L56.5 309.3L59.9 309.2L63.2 309L66.5 308.8L69.9 308.6L73.2 308.4L76.5 308.2L79.8 308L83.2 307.8L86.5 307.6L89.8 307.5L93.2 307.4L96.5 307.3L99.8 307.3L103.2 307.1L106.5 306.9L109.8 306.7L113.2 306.6L116.5 306.4L119.8 306.2L123.1 306L126.5 305.9L129.8 305.7L133.1 305.5L136.5 305.3L139.8 305.1L143.1 305L146.4 304.8L149.8 304.6L153.1 304.5L156.4 304.4L159.8 304.3L163.1 304.2L166.4 304.1L169.8 304L173.1 303.9L176.4 303.8L179.8 303.7L183.1 303.5L186.4 303.4L189.7 303.3L193.1 303.2L196.4 303.1L199.7 303L203.1 302.9L206.4 302.8L209.7 302.7L213 302.6L216.4 302.4L219.7 302.3L223 302.2L226.4 302.1L229.7 302L229.7 324.1L226.4 324.3L223 324.4L219.7 324.6L216.4 324.8L213 325L209.7 325.1L206.4 325.3L203.1 325.5L199.7 325.7L196.4 325.8L193.1 326L189.7 326.2L186.4 326.4L183.1 326.5L179.8 326.7L176.4 326.9L173.1 327.1L169.8 327.3L166.4 327.4L163.1 327.6L159.8 327.8L156.4 328L153.1 328.1L149.8 328.3L146.4 328.5L143.1 328.8L139.8 329L136.5 329.3L133.1 329.5L129.8 329.7L126.5 330L123.1 330.2L119.8 330.5L116.5 330.7L113.2 330.9L109.8 331.2L106.5 331.4L103.2 331.7L99.8 331.9L96.5 332.2L93.2 332.4L89.8 332.6L86.5 333L83.2 333.4L79.8 333.7L76.5 334.1L73.2 334.5L69.9 334.8L66.5 335.2L63.2 335.6L59.9 335.9L56.5 336.1L53.2 336.4L49.9 336.8L46.5 338.2L43.2 339.5L39.9 340.9L36.6 341.4L33.2 341.9L29.9 351.2Z" fill="#000" fill-opacity="0.3"/>
<path d="M29.9 323.2L33.2 314.8L36.6 315.3L39.9 315.7L43.2 315.3L46.5 314.8L49.9 314.4L53.2 314.1L56.5 314L59.9 314L63.2 313.7L66.5 313.5L69.9 313.3L73.2 313L76.5 312.8L79.8 312.6L83.2 312.3L86.5 312.1L89.8 311.9L93.2 311.8L96.5 311.7L99.8 311.6L103.2 311.4L106.5 311.2L109.8 311L113.2 310.9L116.5 310.7L119.8 310.5L123.1 310.3L126.5 310.1L129.8 309.9L133.1 309.7L136.5 309.5L139.8 309.4L143.1 309.2L146.4 309L149.8 308.8L153.1 308.7L156.4 308.6L159.8 308.5L163.1 308.3L166.4 308.2L169.8 308.1L173.1 308L176.4 307.8L179.8 307.7L183.1 307.6L186.4 307.5L189.7 307.4L193.1 307.2L196.4 307.1L199.7 307L203.1 306.9L206.4 306.8L209.7 306.6L213 306.5L216.4 306.4L219.7 306.3L223 306.1L226.4 306L229.7 305.9L229.7 324.1L226.4 324.3L223 324.4L219.7 324.6L216.4 324.8L213 325L209.7 325.1L206.4 325.3L203.1 325.5L199.7 325.7L196.4 325.8L193.1 326L189.7 326.2L186.4 326.4L183.1 326.5L179.8 326.7L176.4 326.9L173.1 327.1L169.8 327.3L166.4 327.4L163.1 327.6L159.8 327.8L156.4 328L153.1 328.1L149.8 328.3L146.4 328.5L143.1 328.8L139.8 329L136.5 329.3L133.1 329.5L129.8 329.7L126.5 330L123.1 330.2L119.8 330.5L116.5 330.7L113.2 330.9L109.8 331.2L106.5 331.4L103.2 331.7L99.8 331.9L96.5 332.2L93.2 332.4L89.8 332.6L86.5 333L83.2 333.4L79.8 333.7L76.5 334.1L73.2 334.5L69.9 334.8L66.5 335.2L63.2 335.6L59.9 335.9L56.5 336.1L53.2 336.4L49.9 336.8L46.5 338.2L43.2 339.5L39.9 340.9L36.6 341.4L33.2 341.9L29.9 351.2Z" fill="#000" fill-opacity="0.5"/>
<path d="M29.9 329.2L33.2 320.7L36.6 320.9L39.9 321.1L43.2 320.5L46.5 319.8L49.9 319.2L53.2 318.9L56.5 318.8L59.9 318.7L63.2 318.4L66.5 318.1L69.9 317.9L73.2 317.6L76.5 317.4L79.8 317.1L83.2 316.8L86.5 316.6L89.8 316.4L93.2 316.2L96.5 316.1L99.8 316L103.2 315.8L106.5 315.6L109.8 315.4L113.2 315.2L116.5 315L119.8 314.8L123.1 314.6L126.5 314.4L129.8 314.2L133.1 314L136.5 313.8L139.8 313.6L143.1 313.4L146.4 313.2L149.8 313L153.1 312.9L156.4 312.7L159.8 312.6L163.1 312.5L166.4 312.3L169.8 312.2L173.1 312.1L176.4 311.9L179.8 311.8L183.1 311.7L186.4 311.5L189.7 311.4L193.1 311.3L196.4 311.1L199.7 311L203.1 310.9L206.4 310.7L209.7 310.6L213 310.5L216.4 310.3L219.7 310.2L223 310.1L226.4 309.9L229.7 309.8L229.7 324.1L226.4 324.3L223 324.4L219.7 324.6L216.4 324.8L213 325L209.7 325.1L206.4 325.3L203.1 325.5L199.7 325.7L196.4 325.8L193.1 326L189.7 326.2L186.4 326.4L183.1 326.5L179.8 326.7L176.4 326.9L173.1 327.1L169.8 327.3L166.4 327.4L163.1 327.6L159.8 327.8L156.4 328L153.1 328.1L149.8 328.3L146.4 328.5L143.1 328.8L139.8 329L136.5 329.3L133.1 329.5L129.8 329.7L126.5 330L123.1 330.2L119.8 330.5L116.5 330.7L113.2 330.9L109.8 331.2L106.5 331.4L103.2 331.7L99.8 331.9L96.5 332.2L93.2 332.4L89.8 332.6L86.5 333L83.2 333.4L79.8 333.7L76.5 334.1L73.2 334.5L69.9 334.8L66.5 335.2L63.2 335.6L59.9 335.9L56.5 336.1L53.2 336.4L49.9 336.8L46.5 338.2L43.2 339.5L39.9 340.9L36.6 341.4L33.2 341.9L29.9 351.2Z" fill="#000" fill-opacity="0.8"/>
<path d="M17.3 400.1L29.7 400.1L29.9 351.2L30.1 244.3L30.4 361.1L30.8 351.8L31.1 343.1L31.3 249.9L31.7 351.6L32 343.1L32.3 342.4L32.5 251.6L32.9 350.9L33.2 342.6L33.5 342.4L33.7 251.4L34.1 351.2L34.4 342.2L34.7 342L34.9 250L35.3 350.1L35.6 341.5L36 342.5L36.2 249.7L36.5 350.1L36.8 342L37.2 342.1L37.4 249.3L37.7 349.2L38 342.7L38.4 342L38.6 251.9L38.9 349.3L39.2 341.5L39.6 341.2L39.8 249.7L40.2 348L40.5 341.2L40.8 340.9L41 250.2L41.4 347.4L41.7 341.1L42.1 340.4L42.3 251.8L42.6 347.4L42.9 339.9L43.3 340L43.5 252.2L43.8 346.1L44.1 339.8L44.5 339.7L44.7 252L45.1 345.3L45.4 339.4L45.7 339L45.9 250.4L46.3 345.8L46.6 338.8L47 338.6L47.2 251.2L47.5 345.4L47.8 338.2L48.2 337.5L48.4 252.5L48.7 344.3L49 337L49.4 337.2L49.6 251.6L50 344L50.3 337.7L50.7 337.3L50.9 250.4L51.2 342.7L51.5 337L51.9 336.5L52.1 253.3L52.4 343L52.7 336.4L53.1 337.1L53.3 253.1L53.7 342.6L54 337.4L54.4 336.6L54.6 253.5L54.9 342L55.2 336.8L55.6 337L55.8 251.4L56.2 342.2L56.5 336.6L56.8 336.5L57 251.6L57.4 342.4L57.7 336.1L58.1 336.3L58.3 251L58.6 341.9L58.9 336L59.3 336.1L59.5 252L59.9 341.6L60.2 336.2L60.6 336.4L60.8 251.3L61.1 341.3L61.4 336.4L61.8 336.4L62 253.2L62.4 341.1L62.7 336.6L63.1 336.2L63.3 252.6L63.6 341.3L63.9 336.7L64.3 336L64.5 252.4L64.9 341.5L65.2 335.9L65.6 336L65.8 254.2L66.1 342L66.4 335.6L66.8 336L67 253.9L67.4 340.7L67.7 336.5L68.1 335.6L68.3 253L68.6 341.5L68.9 336.1L69.4 335.7L69.6 253.3L69.9 340.4L70.2 335.8L70.6 335.6L70.8 253.9L71.2 341.3L71.5 335.8L71.9 335.4L72.1 253.2L72.4 340.6L72.7 335.1L73.1 335.4L73.3 253.8L73.7 341.1L74 335.3L74.4 335.1L74.6 254.7L75 341L75.3 334.7L75.7 334.7L75.9 255.2L76.2 340.9L76.5 334.2L76.9 334.1L77.1 255.3L77.5 339.8L77.8 334.3L78.2 334.1L78.4 255.1L78.8 339.3L79.1 333.7L79.5 333.9L79.7 253.9L80 340.2L80.3 333.6L80.8 334L81 253.4L81.3 339.4L81.6 333.9L82 333.7L82.2 253.2L82.6 339L82.9 334.2L83.3 333.6L83.5 253.1L83.9 339.4L84.2 333L84.6 333.5L84.8 255.6L85.1 338.6L85.4 333.6L85.9 333.5L86.1 255L86.4 338.7L86.7 333.6L87.1 333.4L87.3 254.5L87.7 339.1L88 333.4L88.4 333.2L88.6 253.4L89 338.9L89.3 332.9L89.7 333.2L89.9 255.8L90.3 339L90.6 332.8L91 333.3L91.2 255L91.5 337.9L91.8 333.2L92.3 332.9L92.5 253.9L92.8 338.3L93.1 332.3L93.6 332.6L93.8 255.7L94.1 337.6L94.4 332.9L94.9 332.7L95.1 255.4L95.4 337.5L95.7 332.5L96.2 332.3L96.4 256.8L96.7 337.5L97 332.9L97.4 332.9L97.6 256.2L98 338.4L98.3 333.4L98.7 332.1L98.9 255.6L99.3 338.6L99.6 331.7L100 332.8L100.2 256.6L100.6 338.4L100.9 332.6L101.3 331.9L101.5 256.6L101.9 337.2L102.2 331.6L102.6 332.1L102.8 256.9L103.2 337L103.5 332.6L103.9 332L104.1 255.2L104.5 337.1L104.8 331.8L105.2 332.2L105.4 254.7L105.8 336.9L106.1 332.7L106.5 332.2L106.7 256.8L107.1 337.9L107.4 332.6L107.9 331.7L108.1 255.2L108.4 337.2L108.7 331.5L109.2 331.6L109.4 257.6L109.7 337.2L110 332.1L110.5 331.5L110.7 255.3L111 337.7L111.3 331.4L111.8 331.1L112 257.5L112.3 336.5L112.6 331.1L113.1 331.5L113.3 256.3L113.6 337.2L113.9 331.1L114.4 331L114.6 257.6L115 336L115.3 330.7L115.7 331.2L115.9 257.3L116.3 337.3L116.6 331.4L117 331.4L117.2 256.5L117.6 335.7L117.9 331L118.4 331L118.6 257.5L118.9 336.3L119.2 331.5L119.7 330.8L119.9 256.1L120.2 335.9L120.5 330.2L121 331.1L121.2 255.8L121.6 336L121.9 331L122.3 330.6L122.5 256.6L122.9 336.2L123.2 330.3L123.7 330.9L123.9 257.9L124.2 336L124.5 331.5L125 330.8L125.2 256.9L125.5 335.4L125.8 331L126.3 330.5L126.5 258.8L126.9 336.2L127.2 330.3L127.7 330.3L127.9 256.4L128.2 335.9L128.5 330.1L129 329.8L129.2 258.4L129.5 335.5L129.8 330.1L130.3 330.6L130.5 257.3L130.9 336.1L131.2 330.7L131.7 330.4L131.9 257.9L132.2 335L132.5 330.7L133 329.6L133.2 256.8L133.5 335.4L133.8 329.1L134.3 329.8L134.5 257.4L134.9 335.3L135.2 330L135.7 329.9L135.9 259.4L136.2 334.6L136.5 329.6L137 329.4L137.2 257.2L137.6 335.6L137.9 329.7L138.4 329.4L138.6 257.2L138.9 335.4L139.2 329.3L139.7 329.7L139.9 259.5L140.3 334.7L140.6 329.2L141.1 329.4L141.3 258L141.6 334L141.9 329.7L142.4 329.1L142.6 259.5L142.9 335.1L143.2 328.8L143.8 328.9L144 259.2L144.3 334.4L144.6 328.9L145.1 328.7L145.3 258.4L145.7 334.6L146 328.3L146.5 329.1L146.7 260.4L147 333.5L147.3 328.8L147.8 328.7L148 260.1L148.4 334.8L148.7 328.5L149.2 329L149.4 260.6L149.7 333.8L150 329.5L150.5 328.6L150.7 259.9L151.1 334.3L151.4 329.1L151.9 328.5L152.1 259.5L152.4 334.4L152.7 328.9L153.2 328.5L153.4 259.5L153.8 334.2L154.1 328.3L154.6 328.9L154.8 259L155.2 334L155.5 329.4L156 328.6L156.2 258.9L156.5 333L156.8 329.2L157.3 328.7L157.5 259.6L157.9 333.1L158.2 328.1L158.7 328.1L158.9 260.7L159.3 333.7L159.6 328.4L160.1 328.3L160.3 258.9L160.6 333.6L160.9 328.7L161.5 328.6L161.7 261.3L162 334L162.3 329L162.8 328.5L163 261.7L163.4 334L163.7 328.1L164.2 327.7L164.4 259.4L164.8 332.5L165.1 328L165.6 327.8L165.8 261.1L166.1 333.6L166.4 327.6L167 327.6L167.2 259.6L167.5 332.5L167.8 327.2L168.3 328.1L168.5 260.3L168.9 332.9L169.2 327.9L169.7 327.8L169.9 260.3L170.3 333.3L170.6 327.6L171.1 327.3L171.3 262.5L171.7 332.9L172 327.4L172.5 327.6L172.7 259.8L173 332.6L173.3 327.9L173.9 327.4L174.1 260.8L174.4 333L174.7 327.1L175.3 327.1L175.5 262.5L175.8 332L176.1 326.7L176.6 327.1L176.8 260L177.2 332.1L177.5 327.6L178 327.2L178.2 260.1L178.6 332.5L178.9 327.6L179.4 327.3L179.6 260.7L180 332.4L180.3 327.7L180.8 327.3L181 261.1L181.4 333L181.7 327L182.2 327.3L182.4 262.5L182.8 332.2L183.1 327.5L183.6 326.8L183.8 260.7L184.2 332.6L184.5 327.1L185 326.9L185.2 262.5L185.6 331.9L185.9 326.8L186.4 326.5L186.6 263.4L187 331.4L187.3 325.9L187.8 326.4L188 261.4L188.4 331.6L188.7 326.4L189.2 326.9L189.4 262L189.8 332.4L190.1 326.9L190.6 326.4L190.8 262.6L191.2 332.1L191.5 326.5L192 326.8L192.2 262.2L192.6 331.4L192.9 327.2L193.5 326.7L193.7 263.2L194 332L194.3 326.7L194.9 326.7L195.1 263.7L195.4 331.6L195.7 326.6L196.3 326.5L196.5 264.2L196.8 331.1L197.1 326.2L197.7 326.6L197.9 263.8L198.2 331.9L198.5 326.1L199.1 326.1L199.3 262.5L199.7 331L200 325.7L200.5 325.6L200.7 262.9L201.1 330.7L201.4 325.9L201.9 326.4L202.1 262.4L202.5 331.8L202.8 326.3L203.4 325.7L203.6 265.2L203.9 331.5L204.2 325.6L204.8 326.2L205 262.9L205.3 331.2L205.6 325.8L206.2 325.8L206.4 263.7L206.8 330.2L207.1 326.1L207.6 325.6L207.8 264.7L208.2 330.8L208.5 325.5L209.1 325.7L209.3 263.2L209.6 330.9L209.9 326L210.5 325.5L210.7 265.7L211 330.6L211.3 325.8L211.9 325.2L212.1 264.3L212.5 330.2L212.8 325.7L213.3 325.1L213.5 265.5L213.9 330.8L214.2 325.3L214.8 325.4L215 265.3L215.3 330.4L215.6 325.6L216.2 325L216.4 263.8L216.8 330.2L217.1 325.2L217.6 325.2L217.8 265.5L218.2 329.9L218.5 325.1L219.1 324.9L219.3 265.7L219.6 330L219.9 325.4L220.5 324.8L220.7 264.5L221.1 330.3L221.4 324.6L222 325.4L222.2 265.6L222.5 330.7L222.8 325.4L223.4 324.5L223.6 264.7L224 330.4L224.3 324.5L224.9 324.7L225.1 264.7L225.4 330L225.7 325L226.3 324.4L226.5 266.1L226.9 330L227.2 324.4L227.8 324.9L228 265.9L228.3 330.4L228.6 325.1L229.7 300L230.3 318L231 329.4L231.7 339.2L232.4 347.5L233.1 354.7L233.8 360.8L234.5 366.1L235.2 370.5L235.9 374.4L236.6 377.7L237.3 380.5L238 382.9L238.7 385L239.4 386.7L240.1 388.2L240.8 389.5L241.5 390.6L242.2 391.6L242.9 392.4L243.6 393.1L244.3 393.7L245 394.2L245.7 394.6L246.4 395L247.1 395.3L247.8 395.6L248.5 395.8L249.2 396L249.9 396.2L250.6 396.3L251.3 396.5L252 396.6L252.7 396.7L253.4 396.7L254.1 396.8L254.8 396.9L255.5 396.9L256.2 396.9L256.9 397" fill="none" stroke="#050505" stroke-width="0.8" stroke-linejoin="round"/>
<path d="M17.3 400.1L29.7 400.1L29.9 361.2L30.1 244.3" fill="none" stroke="#050505" stroke-width="1.2" stroke-linejoin="round"/>
<path d="M229.7 300L230.3 318L231 329.4L231.7 339.2L232.4 347.5L233.1 354.7L233.8 360.8L234.5 366.1L235.2 370.5L235.9 374.4L236.6 377.7L237.3 380.5L238 382.9L238.7 385L239.4 386.7L240.1 388.2L240.8 389.5L241.5 390.6L242.2 391.6L242.9 392.4L243.6 393.1L244.3 393.7L245 394.2L245.7 394.6L246.4 395L247.1 395.3L247.8 395.6L248.5 395.8L249.2 396L249.9 396.2L250.6 396.3L251.3 396.5L252 396.6L252.7 396.7L253.4 396.7L254.1 396.8L254.8 396.9L255.5 396.9L256.2 396.9L256.9 397" fill="none" stroke="#050505" stroke-width="1.2" stroke-linejoin="round"/>
<path d="M281.9 252.2L284.6 252.5L287.3 252.8L290 253.2L292.7 253.5L295.4 253.8L298.1 254.1L300.8 254.5L303.5 254.8L306.2 255.1L308.9 255.4L311.6 255.8L314.3 256.1L317 256.4L319.7 256.7L322.3 257.1L325 257.4L327.7 257.7L330.4 258.1L333.1 258.4L335.8 258.7L338.5 259L341.2 259.3L343.9 259.7L346.6 260L349.3 260.3L352 260.6L354.7 261L357.4 261.3L360.1 261.6L362.8 261.9L365.5 262.3L368.2 262.6L370.9 262.9L373.6 263.2L376.3 263.6L379 263.9L381.7 264.3L384.4 264.9L387.1 265.4L389.8 265.9L392.5 266.4L395.2 267L397.9 267.5L400.6 268L403.2 268.5L405.9 269.1L408.6 269.9L411.3 270.9L414 271.8L416.7 272.8L419.4 273.8L422.1 275.1L424.8 276.5L427.5 277.9L430.2 279.3L432.9 280.7L435.6 285.2L438.3 290.6L441 297L443.7 304.9L443.7 304.3L441 308.4L438.3 311.3L435.6 313.4L432.9 315.5L430.2 317.5L427.5 318.2L424.8 318.8L422.1 319.3L419.4 319.9L416.7 320.4L414 321L411.3 321.5L408.6 322.1L405.9 322.7L403.2 323.2L400.6 323.8L397.9 324.3L395.2 324.9L392.5 325.4L389.8 326L387.1 326.5L384.4 327.1L381.7 327.7L379 328.1L376.3 328.4L373.6 328.8L370.9 329.1L368.2 329.4L365.5 329.7L362.8 330.1L360.1 330.4L357.4 330.7L354.7 331L352 331.4L349.3 331.7L346.6 332L343.9 332.3L341.2 332.7L338.5 333L335.8 333.3L333.1 333.6L330.4 333.9L327.7 334.6L325 335.2L322.3 335.9L319.7 336.6L317 337.3L314.3 337.9L311.6 338.6L308.9 339.3L306.2 340L303.5 340.6L300.8 341.3L298.1 342L295.4 342.7L292.7 343.3L290 344L287.3 347.1L284.6 350.2L281.9 358.9Z" fill="#000" fill-opacity="0.2"/>
<path d="M281.4 312L284.1 302.7L286.8 301.6L289.5 300.5L292.2 301.1L294.9 301.8L297.7 302.4L300.4 302.9L303.1 302.6L305.8 302.3L308.5 301.9L311.2 301.6L313.9 301.2L316.6 300.7L319.3 300.3L322 299.8L324.8 299.4L327.5 299L330.2 298.6L332.9 298.5L335.6 298.4L338.3 298.3L341 298.2L343.7 298.1L346.4 298L349.1 298L351.9 298L354.6 298L357.3 298L360 298.1L362.7 298.1L365.4 298.1L368.1 298.2L370.8 298.2L373.5 298.2L376.2 298.3L379 298.3L381.7 298.2L384.4 298L387.1 297.8L389.8 297.6L392.5 297.4L395.2 297.2L397.9 297L400.6 296.8L403.4 296.6L406.1 296.4L408.8 296.2L411.5 296L414.2 295.8L416.9 295.7L419.6 295.5L422.3 295.3L425 295.1L427.7 294.9L430.5 295.1L433.2 297.5L435.9 299.8L438.6 302.2L441.3 303.5L444 303.8L444 303.8L441.3 307L438.6 309.2L435.9 310.3L433.2 311.4L430.5 312.5L427.7 313.1L425 313.7L422.3 314.2L419.6 314.8L416.9 315.3L414.2 315.8L411.5 316.4L408.8 316.9L406.1 317.4L403.4 318L400.6 318.5L397.9 319L395.2 319.6L392.5 320.1L389.8 320.6L387.1 321.2L384.4 321.7L381.7 322.2L379 322.7L376.2 323L373.5 323.3L370.8 323.6L368.1 323.9L365.4 324.2L362.7 324.5L360 324.8L357.3 325.1L354.6 325.4L351.9 325.7L349.1 326L346.4 326.3L343.7 326.6L341 326.9L338.3 327.2L335.6 327.5L332.9 327.8L330.2 328.1L327.5 328.8L324.8 329.4L322 330.1L319.3 330.7L316.6 331.4L313.9 332L311.2 332.7L308.5 333.2L305.8 333.8L303.1 334.3L300.4 334.9L297.7 335.4L294.9 336L292.2 336.5L289.5 337.1L286.8 339.3L284.1 341.6L281.4 352Z" fill="#000" fill-opacity="0.3"/>
<path d="M281.4 318L284.1 308.5L286.8 307.3L289.5 306L292.2 306.4L294.9 306.9L297.7 307.4L300.4 307.7L303.1 307.3L305.8 307L308.5 306.6L311.2 306.3L313.9 305.8L316.6 305.3L319.3 304.9L322 304.4L324.8 303.9L327.5 303.4L330.2 303L332.9 302.9L335.6 302.8L338.3 302.6L341 302.5L343.7 302.4L346.4 302.3L349.1 302.2L351.9 302.1L354.6 302.1L357.3 302.1L360 302.1L362.7 302.1L365.4 302L368.1 302L370.8 302L373.5 302L376.2 302L379 302L381.7 301.8L384.4 301.6L387.1 301.3L389.8 301.1L392.5 300.8L395.2 300.6L397.9 300.3L400.6 300.1L403.4 299.8L406.1 299.6L408.8 299.3L411.5 299.1L414.2 298.8L416.9 298.6L419.6 298.3L422.3 298.1L425 297.9L427.7 297.6L430.5 297.7L433.2 299.5L435.9 301.4L438.6 303.2L441.3 304.1L444 303.8L444 303.8L441.3 307L438.6 309.2L435.9 310.3L433.2 311.4L430.5 312.5L427.7 313.1L425 313.7L422.3 314.2L419.6 314.8L416.9 315.3L414.2 315.8L411.5 316.4L408.8 316.9L406.1 317.4L403.4 318L400.6 318.5L397.9 319L395.2 319.6L392.5 320.1L389.8 320.6L387.1 321.2L384.4 321.7L381.7 322.2L379 322.7L376.2 323L373.5 323.3L370.8 323.6L368.1 323.9L365.4 324.2L362.7 324.5L360 324.8L357.3 325.1L354.6 325.4L351.9 325.7L349.1 326L346.4 326.3L343.7 326.6L341 326.9L338.3 327.2L335.6 327.5L332.9 327.8L330.2 328.1L327.5 328.8L324.8 329.4L322 330.1L319.3 330.7L316.6 331.4L313.9 332L311.2 332.7L308.5 333.2L305.8 333.8L303.1 334.3L300.4 334.9L297.7 335.4L294.9 336L292.2 336.5L289.5 337.1L286.8 339.3L284.1 341.6L281.4 352Z" fill="#000" fill-opacity="0.3"/>
<path d="M281.4 324L284.1 314.3L286.8 312.9L289.5 311.5L292.2 311.8L294.9 312L297.7 312.3L300.4 312.5L303.1 312.1L305.8 311.7L308.5 311.3L311.2 310.9L313.9 310.4L316.6 309.9L319.3 309.4L322 308.9L324.8 308.4L327.5 307.9L330.2 307.4L332.9 307.3L335.6 307.1L338.3 307L341 306.8L343.7 306.7L346.4 306.5L349.1 306.4L351.9 306.3L354.6 306.2L357.3 306.2L360 306.1L362.7 306L365.4 306L368.1 305.9L370.8 305.8L373.5 305.8L376.2 305.7L379 305.6L381.7 305.4L384.4 305.1L387.1 304.8L389.8 304.5L392.5 304.2L395.2 303.9L397.9 303.6L400.6 303.3L403.4 303L406.1 302.7L408.8 302.4L411.5 302.1L414.2 301.8L416.9 301.5L419.6 301.2L422.3 300.9L425 300.6L427.7 300.3L430.5 300.3L433.2 301.6L435.9 303L438.6 304.3L441.3 304.6L444 303.8L444 303.8L441.3 307L438.6 309.2L435.9 310.3L433.2 311.4L430.5 312.5L427.7 313.1L425 313.7L422.3 314.2L419.6 314.8L416.9 315.3L414.2 315.8L411.5 316.4L408.8 316.9L406.1 317.4L403.4 318L400.6 318.5L397.9 319L395.2 319.6L392.5 320.1L389.8 320.6L387.1 321.2L384.4 321.7L381.7 322.2L379 322.7L376.2 323L373.5 323.3L370.8 323.6L368.1 323.9L365.4 324.2L362.7 324.5L360 324.8L357.3 325.1L354.6 325.4L351.9 325.7L349.1 326L346.4 326.3L343.7 326.6L341 326.9L338.3 327.2L335.6 327.5L332.9 327.8L330.2 328.1L327.5 328.8L324.8 329.4L322 330.1L319.3 330.7L316.6 331.4L313.9 332L311.2 332.7L308.5 333.2L305.8 333.8L303.1 334.3L300.4 334.9L297.7 335.4L294.9 336L292.2 336.5L289.5 337.1L286.8 339.3L284.1 341.6L281.4 352Z" fill="#000" fill-opacity="0.5"/>
<path d="M281.4 330L284.1 320.2L286.8 318.6L289.5 317L292.2 317.1L294.9 317.2L297.7 317.3L300.4 317.3L303.1 316.9L305.8 316.4L308.5 316L311.2 315.6L313.9 315.1L316.6 314.5L319.3 314L322 313.5L324.8 312.9L327.5 312.4L330.2 311.9L332.9 311.7L335.6 311.5L338.3 311.3L341 311.1L343.7 311L346.4 310.8L349.1 310.6L351.9 310.4L354.6 310.3L357.3 310.2L360 310.1L362.7 310L365.4 309.9L368.1 309.8L370.8 309.6L373.5 309.5L376.2 309.4L379 309.3L381.7 309L384.4 308.7L387.1 308.3L389.8 308L392.5 307.6L395.2 307.3L397.9 306.9L400.6 306.6L403.4 306.2L406.1 305.9L408.8 305.5L411.5 305.2L414.2 304.8L416.9 304.5L419.6 304.1L422.3 303.8L425 303.4L427.7 303.1L430.5 302.9L433.2 303.7L435.9 304.5L438.6 305.3L441.3 305.1L444 303.8L444 303.8L441.3 307L438.6 309.2L435.9 310.3L433.2 311.4L430.5 312.5L427.7 313.1L425 313.7L422.3 314.2L419.6 314.8L416.9 315.3L414.2 315.8L411.5 316.4L408.8 316.9L406.1 317.4L403.4 318L400.6 318.5L397.9 319L395.2 319.6L392.5 320.1L389.8 320.6L387.1 321.2L384.4 321.7L381.7 322.2L379 322.7L376.2 323L373.5 323.3L370.8 323.6L368.1 323.9L365.4 324.2L362.7 324.5L360 324.8L357.3 325.1L354.6 325.4L351.9 325.7L349.1 326L346.4 326.3L343.7 326.6L341 326.9L338.3 327.2L335.6 327.5L332.9 327.8L330.2 328.1L327.5 328.8L324.8 329.4L322 330.1L319.3 330.7L316.6 331.4L313.9 332L311.2 332.7L308.5 333.2L305.8 333.8L303.1 334.3L300.4 334.9L297.7 335.4L294.9 336L292.2 336.5L289.5 337.1L286.8 339.3L284.1 341.6L281.4 352Z" fill="#000" fill-opacity="0.8"/>
<path d="M268.4 400.1L281.2 400.1L281.4 353.4L281.6 243.4L281.9 362.4L282.2 353.9L282.6 345.8L282.8 249.8L283.2 353.8L283.5 345.7L283.8 342.6L284 249L284.4 350.9L284.7 342.8L285 341.8L285.2 250.1L285.6 349.3L285.9 342.1L286.2 340.8L286.4 252L286.8 348.3L287.1 341.2L287.5 339.8L287.7 250.5L288 346.5L288.3 340.1L288.7 338.4L288.9 251.9L289.2 345.7L289.5 338.5L289.9 337.5L290.1 250.3L290.4 344.8L290.7 337.7L291.1 337.3L291.3 252.3L291.7 344.2L292 337.1L292.3 336.6L292.5 251.6L292.9 342.9L293.2 336.5L293.6 336.8L293.8 252.6L294.1 342.8L294.4 336.6L294.8 336.9L295 251.5L295.3 342.3L295.6 337.2L296 336.4L296.2 251.2L296.6 342.1L296.9 336.4L297.3 335.9L297.5 251.8L297.8 342.4L298.1 335.7L298.5 336.3L298.7 253.5L299 342.4L299.3 336.7L299.7 335.9L299.9 253.6L300.3 342L300.6 336.3L301 335.6L301.2 252.9L301.5 340.5L301.8 336.2L302.2 335.3L302.4 253.1L302.8 340.6L303.1 334.9L303.4 334.9L303.6 252L304 341.1L304.3 334.5L304.7 334.9L304.9 254.2L305.2 340.8L305.5 335.3L305.9 334.1L306.1 253.4L306.5 340.4L306.8 334.6L307.2 334.3L307.4 254.1L307.7 340.2L308 334.6L308.4 333.8L308.6 253.5L309 339.8L309.3 334.3L309.7 333.7L309.9 253.7L310.2 338.7L310.5 333.2L310.9 333.2L311.1 253.7L311.5 338.1L311.8 332.8L312.2 332.9L312.4 253.8L312.7 338.4L313 333.3L313.5 332.7L313.7 252.5L314 338.6L314.3 332.8L314.7 332.5L314.9 254.6L315.3 338.3L315.6 332.4L316 331.8L316.2 255.7L316.5 336.9L316.8 332L317.2 331.5L317.4 253L317.8 337.4L318.1 332.1L318.5 331.4L318.7 254.1L319.1 337.6L319.4 331.4L319.8 330.9L320 256L320.3 335.9L320.6 331L321 330.9L321.2 254.4L321.6 336.8L321.9 330.9L322.3 330.8L322.5 255.1L322.9 336.3L323.2 330.7L323.6 329.9L323.8 255L324.1 335.7L324.4 329.6L324.9 329.8L325.1 256.4L325.4 335.1L325.7 329.6L326.1 329.4L326.3 255.6L326.7 335.7L327 329.8L327.4 329.4L327.6 255.2L328 334.4L328.3 329.5L328.7 329.4L328.9 256.2L329.3 334.8L329.6 329.6L330 329L330.2 257.2L330.5 334.1L330.8 328.8L331.3 328.1L331.5 254.7L331.8 333.4L332.1 328.2L332.6 328L332.8 256.8L333.1 334.1L333.4 328.1L333.9 328L334.1 256.8L334.4 333.7L334.7 328.1L335.1 327.9L335.3 257.2L335.7 333L336 327.8L336.4 328.1L336.6 257.6L337 332.6L337.3 327.5L337.7 327.6L337.9 257.8L338.3 333.7L338.6 327.5L339 327.6L339.2 258.1L339.6 333.3L339.9 327.3L340.3 327.6L340.5 256.6L340.9 332.6L341.2 327.5L341.6 327.8L341.8 257.8L342.2 333.3L342.5 327.8L342.9 326.9L343.1 256.2L343.5 331.9L343.8 327L344.2 327.4L344.4 259L344.8 332.2L345.1 327.3L345.5 326.4L345.7 258.1L346.1 332.8L346.4 326.4L346.9 326.6L347.1 257.8L347.4 331.4L347.7 326.2L348.2 326.9L348.4 257.1L348.7 331.1L349 327.1L349.5 326.9L349.7 257.2L350 332.4L350.3 327.3L350.8 326L351 257.4L351.3 330.8L351.6 325.7L352.1 326.4L352.3 259.4L352.7 330.9L353 326.8L353.4 325.8L353.6 259.5L354 331.7L354.3 325.3L354.8 325.9L355 259.4L355.3 331.3L355.6 326.4L356.1 325.5L356.3 258.4L356.6 331.6L356.9 324.9L357.4 325.3L357.6 257.8L358 330.9L358.3 324.8L358.7 325.7L358.9 258.9L359.3 330.9L359.6 326.1L360.1 325.3L360.3 259.6L360.6 329.7L360.9 325.4L361.4 325.4L361.6 259.6L361.9 330.5L362.2 325.8L362.7 324.8L362.9 259.5L363.3 330.3L363.6 324.7L364.1 324.4L364.3 259.7L364.6 330.3L364.9 324.7L365.4 324.9L365.6 260.4L366 329.4L366.3 325.5L366.7 324.7L366.9 261L367.3 330.1L367.6 324.8L368.1 324.3L368.3 262L368.6 329.9L368.9 324L369.4 324.3L369.6 260.5L370 329.9L370.3 324.6L370.8 323.8L371 261.2L371.3 329.7L371.6 323.5L372.1 323.9L372.3 259.6L372.7 328.6L373 324L373.5 324.2L373.7 262.2L374 329.4L374.3 324.6L374.8 323.5L375 262.3L375.4 329.2L375.7 323.3L376.2 323.3L376.4 262.6L376.7 328.9L377 323.8L377.5 323.2L377.7 261.2L378.1 327.7L378.4 323.5L378.9 322.8L379.1 261L379.4 328.5L379.7 322.4L380.3 323L380.5 262.4L380.8 328.2L381.1 322.6L381.6 322.4L381.8 261.6L382.2 328L382.5 322.4L383 322.2L383.2 261.3L383.5 327.8L383.8 321.9L384.3 321.8L384.5 263.1L384.9 327.7L385.2 321.9L385.7 322.1L385.9 263L386.3 327L386.6 321.8L387.1 321.7L387.3 262.4L387.6 326.8L387.9 321.8L388.4 321.6L388.6 263.4L389 326.3L389.3 321L389.8 321.3L390 265.4L390.4 325.8L390.7 321.5L391.2 320.7L391.4 265L391.7 325.2L392 320.5L392.6 320.8L392.8 264.5L393.1 324.7L393.4 321.3L394 320.2L394.2 265.8L394.5 325.1L394.8 319.9L395.3 319.6L395.5 265.8L395.9 324.7L396.2 319.9L396.7 319.9L396.9 266.2L397.3 325.3L397.6 319.4L398.1 319.7L398.3 264.6L398.7 323.8L399 319.1L399.5 319.2L399.7 266L400 324.5L400.3 319.7L400.9 318.7L401.1 267.3L401.4 323L401.7 318.6L402.3 318.8L402.5 265.2L402.8 324.1L403.1 318.9L403.7 318.2L403.9 267L404.2 323.8L404.5 318.1L405.1 317.7L405.3 266.7L405.6 322.3L405.9 318.2L406.5 317.9L406.7 266.3L407 321.9L407.3 317.7L407.9 317.2L408.1 268.8L408.4 322.9L408.7 316.7L409.3 317.1L409.5 269L409.8 322.3L410.1 317.7L410.7 316.7L410.9 267.3L411.2 321.1L411.5 317.2L412.1 316.5L412.3 269.7L412.6 321.1L412.9 316.8L413.5 316.5L413.7 268.5L414 320.8L414.3 316.1L414.9 316.2L415.1 270.1L415.4 320.3L415.7 315.8L416.3 315.6L416.5 271.2L416.9 319.8L417.2 315.2L417.7 315.8L417.9 269.8L418.3 320.9L418.6 316.3L419.1 315.6L419.3 272.8L419.7 320.5L420 315.5L420.5 314.7L420.7 271.1L421.1 320.3L421.4 314.9L422 314.4L422.2 272.9L422.5 319.1L422.8 314.4L423.4 314.5L423.6 274.1L423.9 318.5L424.2 314L424.8 314.4L425 275.1L425.4 318.8L425.7 314.8L426.2 314.1L426.4 274.5L426.8 318.3L427.1 313.8L427.7 313.8L427.9 277L428.2 317.9L428.5 313.7L429.1 313.6L429.3 276.2L429.6 318.5L429.9 314.2L430.5 312.8L430.7 276.1L431.1 317.9L431.4 312.4L432 312.3L432.2 278.1L432.5 315.9L432.8 312L433.4 311.3L433.6 278.5L433.9 315.8L434.2 311.8L434.8 310.8L435 280.5L435.4 313.7L435.7 310.2L436.3 310.1L436.5 285.2L436.8 312.6L437.1 309.5L437.7 309.8L437.9 288.3L438.3 311.5L438.6 309.2L439.2 309.1L439.4 291.3L439.7 310.7L440 309.1L440.6 307.9L440.8 295L441.2 308.6L441.5 307.5L442.1 306.2L442.3 297.1L442.6 307.2L442.9 305.8L444 304L445.3 304.2L446.6 304.3L447.9 304.5L449.2 304.2L450.5 304.5L451.8 303L453.1 303.7L454.4 304.5L455.7 304L457 304.4L458.3 303.2L459.6 303.8L460.9 303.4L462.2 303.9L463.5 303.9L464.8 303L466.1 303.3L467.4 303.4L468.7 304.5L470 304.2L471.3 303.3L472.6 304.3L473.9 303.2L475.2 304L476.5 303.2L477.8 303L479.1 304.4L480.4 303.3L481 303.8L481.5 303.8L482.2 316.2L482.9 326.9L483.6 336.3L484.3 344.4L485 351.5L485.7 357.6L486.4 363L487.1 367.6L487.8 371.6L488.5 375.1L489.2 378.2L489.9 380.9L490.6 383.2L491.3 385.2L492 386.9L492.7 388.4L493.4 389.7L494.1 390.9L494.8 391.9L495.5 392.7L496.2 393.5L496.9 394.1L497.6 394.7L498.3 395.2L499 395.6L499.7 396L500.4 396.3L501.1 396.6L501.8 396.9L502.5 397.1L503.2 397.3L503.9 397.4L504.6 397.6L505.3 397.7L506 397.8L506.7 397.9L507.4 398" fill="none" stroke="#050505" stroke-width="0.8" stroke-linejoin="round"/>
<path d="M268.4 400.1L281.2 400.1L281.4 362L281.6 243.4" fill="none" stroke="#050505" stroke-width="1.2" stroke-linejoin="round"/>
<path d="M444 304L445.3 304.2L446.6 304.3L447.9 304.5L449.2 304.2L450.5 304.5L451.8 303L453.1 303.7L454.4 304.5L455.7 304L457 304.4L458.3 303.2L459.6 303.8L460.9 303.4L462.2 303.9L463.5 303.9L464.8 303L466.1 303.3L467.4 303.4L468.7 304.5L470 304.2L471.3 303.3L472.6 304.3L473.9 303.2L475.2 304L476.5 303.2L477.8 303L479.1 304.4L480.4 303.3L481 303.8L481.5 303.8L482.2 316.2L482.9 326.9L483.6 336.3L484.3 344.4L485 351.5L485.7 357.6L486.4 363L487.1 367.6L487.8 371.6L488.5 375.1L489.2 378.2L489.9 380.9L490.6 383.2L491.3 385.2L492 386.9L492.7 388.4L493.4 389.7L494.1 390.9L494.8 391.9L495.5 392.7L496.2 393.5L496.9 394.1L497.6 394.7L498.3 395.2L499 395.6L499.7 396L500.4 396.3L501.1 396.6L501.8 396.9L502.5 397.1L503.2 397.3L503.9 397.4L504.6 397.6L505.3 397.7L506 397.8L506.7 397.9L507.4 398" fill="none" stroke="#050505" stroke-width="1.2" stroke-linejoin="round"/>
<path d="M30.4 478.8L33.7 471.3L37 470.3L40.3 469.4L43.7 468.4L47 467.9L50.3 467.6L53.6 467.4L56.9 467.2L60.2 467L63.6 467L66.9 467L70.2 467L73.5 467L76.8 467L80.1 467L83.5 467L86.8 467L90.1 467L93.4 467L96.7 467L100 467L103.4 467.1L106.7 467.2L110 467.3L113.3 467.4L116.6 467.6L119.9 467.7L123.3 467.8L126.6 467.9L129.9 468L133.2 468.1L136.5 468.2L139.8 468.3L143.2 468.4L146.5 468.5L149.8 468.7L153.1 468.8L156.4 468.9L159.8 469L163.1 469.2L166.4 469.4L169.7 469.6L173 469.8L176.3 470L179.6 470.2L183 470.4L186.3 470.6L189.6 470.8L192.9 471L196.2 471.2L199.5 471.4L202.9 471.6L206.2 471.8L209.5 472L212.8 472.2L216.1 472.4L219.4 472.6L222.8 472.8L226.1 473.1L229.4 477L229.4 526L226.1 526.5L222.8 526.9L219.4 527.4L216.1 527.8L212.8 528.3L209.5 528.7L206.2 529.2L202.9 529.6L199.5 530L196.2 530.3L192.9 530.5L189.6 530.7L186.3 531L183 531.2L179.6 531.4L176.3 531.7L173 531.9L169.7 532.1L166.4 532.4L163.1 532.6L159.8 532.8L156.4 533L153.1 533.3L149.8 533.5L146.5 533.7L143.2 533.8L139.8 534L136.5 534.2L133.2 534.3L129.9 534.5L126.6 534.7L123.3 534.8L119.9 535L116.6 535.2L113.3 535.3L110 535.5L106.7 535.7L103.4 535.8L100 536L96.7 536.3L93.4 536.6L90.1 536.9L86.8 537.2L83.5 537.4L80.1 537.7L76.8 538L73.5 538.3L70.2 538.6L66.9 538.9L63.6 539.2L60.2 539.5L56.9 539.9L53.6 540.3L50.3 540.7L47 541.1L43.7 541.5L40.3 542L37 543.3L33.7 546.5L30.4 556.6Z" fill="#000" fill-opacity="0.2"/>
<path d="M29.9 519.4L33.2 510L36.6 509.2L39.9 510.3L43.2 511.8L46.5 512.6L49.9 512.5L53.2 512.5L56.5 512.4L59.9 512.3L63.2 512.2L66.5 512.1L69.9 512L73.2 511.9L76.5 511.8L79.8 511.7L83.2 511.6L86.5 511.5L89.8 511.4L93.2 511.3L96.5 511.2L99.8 511.1L103.2 511L106.5 511L109.8 510.9L113.2 510.8L116.5 510.7L119.8 510.6L123.1 510.6L126.5 510.5L129.8 510.4L133.1 510.3L136.5 510.3L139.8 510.2L143.1 510.1L146.4 510L149.8 509.9L153.1 509.8L156.4 509.6L159.8 509.5L163.1 509.4L166.4 509.2L169.8 509.1L173.1 508.9L176.4 508.8L179.8 508.6L183.1 508.5L186.4 508.3L189.7 508.2L193.1 508L196.4 507.9L199.7 507.8L203.1 507.4L206.4 507L209.7 506.7L213 506.3L216.4 505.9L219.7 505.6L223 505.2L226.4 504.9L229.7 504.5L229.7 520.5L226.4 520.9L223 521.4L219.7 521.8L216.4 522.2L213 522.7L209.7 523.1L206.4 523.6L203.1 524L199.7 524.4L196.4 524.7L193.1 524.9L189.7 525.1L186.4 525.3L183.1 525.5L179.8 525.8L176.4 526L173.1 526.2L169.8 526.4L166.4 526.7L163.1 526.9L159.8 527.1L156.4 527.3L153.1 527.6L149.8 527.8L146.4 527.9L143.1 528.1L139.8 528.2L136.5 528.4L133.1 528.6L129.8 528.7L126.5 528.9L123.1 529L119.8 529.2L116.5 529.3L113.2 529.5L109.8 529.7L106.5 529.8L103.2 530L99.8 530.1L96.5 530.4L93.2 530.7L89.8 531L86.5 531.3L83.2 531.5L79.8 531.8L76.5 532.1L73.2 532.4L69.9 532.7L66.5 532.9L63.2 533.2L59.9 533.5L56.5 533.8L53.2 534L49.9 534.3L46.5 534.5L43.2 534.8L39.9 535L36.6 535.7L33.2 538.3L29.9 549.4Z" fill="#000" fill-opacity="0.3"/>
<path d="M29.9 523.9L33.2 514.3L36.6 513.1L39.9 514L43.2 515.3L46.5 515.9L49.9 515.8L53.2 515.7L56.5 515.6L59.9 515.5L63.2 515.4L66.5 515.2L69.9 515.1L73.2 515L76.5 514.9L79.8 514.7L83.2 514.6L86.5 514.5L89.8 514.4L93.2 514.2L96.5 514.1L99.8 514L103.2 513.9L106.5 513.8L109.8 513.7L113.2 513.6L116.5 513.5L119.8 513.4L123.1 513.3L126.5 513.2L129.8 513.2L133.1 513.1L136.5 513L139.8 512.9L143.1 512.8L146.4 512.7L149.8 512.6L153.1 512.5L156.4 512.3L159.8 512.1L163.1 512L166.4 511.8L169.8 511.7L173.1 511.5L176.4 511.4L179.8 511.2L183.1 511L186.4 510.9L189.7 510.7L193.1 510.6L196.4 510.4L199.7 510.3L203.1 509.9L206.4 509.5L209.7 509.1L213 508.8L216.4 508.4L219.7 508L223 507.6L226.4 507.3L229.7 506.9L229.7 520.5L226.4 520.9L223 521.4L219.7 521.8L216.4 522.2L213 522.7L209.7 523.1L206.4 523.6L203.1 524L199.7 524.4L196.4 524.7L193.1 524.9L189.7 525.1L186.4 525.3L183.1 525.5L179.8 525.8L176.4 526L173.1 526.2L169.8 526.4L166.4 526.7L163.1 526.9L159.8 527.1L156.4 527.3L153.1 527.6L149.8 527.8L146.4 527.9L143.1 528.1L139.8 528.2L136.5 528.4L133.1 528.6L129.8 528.7L126.5 528.9L123.1 529L119.8 529.2L116.5 529.3L113.2 529.5L109.8 529.7L106.5 529.8L103.2 530L99.8 530.1L96.5 530.4L93.2 530.7L89.8 531L86.5 531.3L83.2 531.5L79.8 531.8L76.5 532.1L73.2 532.4L69.9 532.7L66.5 532.9L63.2 533.2L59.9 533.5L56.5 533.8L53.2 534L49.9 534.3L46.5 534.5L43.2 534.8L39.9 535L36.6 535.7L33.2 538.3L29.9 549.4Z" fill="#000" fill-opacity="0.3"/>
<path d="M29.9 528.4L33.2 518.5L36.6 517.1L39.9 517.7L43.2 518.7L46.5 519.2L49.9 519L53.2 518.9L56.5 518.8L59.9 518.7L63.2 518.5L66.5 518.4L69.9 518.2L73.2 518.1L76.5 517.9L79.8 517.8L83.2 517.6L86.5 517.4L89.8 517.3L93.2 517.1L96.5 517L99.8 516.8L103.2 516.7L106.5 516.6L109.8 516.5L113.2 516.4L116.5 516.3L119.8 516.2L123.1 516.1L126.5 516L129.8 515.9L133.1 515.8L136.5 515.7L139.8 515.6L143.1 515.5L146.4 515.4L149.8 515.3L153.1 515.1L156.4 515L159.8 514.8L163.1 514.6L166.4 514.4L169.8 514.3L173.1 514.1L176.4 513.9L179.8 513.8L183.1 513.6L186.4 513.4L189.7 513.3L193.1 513.1L196.4 512.9L199.7 512.8L203.1 512.4L206.4 512L209.7 511.6L213 511.2L216.4 510.8L219.7 510.4L223 510.1L226.4 509.7L229.7 509.3L229.7 520.5L226.4 520.9L223 521.4L219.7 521.8L216.4 522.2L213 522.7L209.7 523.1L206.4 523.6L203.1 524L199.7 524.4L196.4 524.7L193.1 524.9L189.7 525.1L186.4 525.3L183.1 525.5L179.8 525.8L176.4 526L173.1 526.2L169.8 526.4L166.4 526.7L163.1 526.9L159.8 527.1L156.4 527.3L153.1 527.6L149.8 527.8L146.4 527.9L143.1 528.1L139.8 528.2L136.5 528.4L133.1 528.6L129.8 528.7L126.5 528.9L123.1 529L119.8 529.2L116.5 529.3L113.2 529.5L109.8 529.7L106.5 529.8L103.2 530L99.8 530.1L96.5 530.4L93.2 530.7L89.8 531L86.5 531.3L83.2 531.5L79.8 531.8L76.5 532.1L73.2 532.4L69.9 532.7L66.5 532.9L63.2 533.2L59.9 533.5L56.5 533.8L53.2 534L49.9 534.3L46.5 534.5L43.2 534.8L39.9 535L36.6 535.7L33.2 538.3L29.9 549.4Z" fill="#000" fill-opacity="0.5"/>
<path d="M29.9 532.9L33.2 522.8L36.6 521.1L39.9 521.4L43.2 522.1L46.5 522.5L49.9 522.3L53.2 522.2L56.5 522L59.9 521.9L63.2 521.7L66.5 521.5L69.9 521.3L73.2 521.1L76.5 520.9L79.8 520.8L83.2 520.6L86.5 520.4L89.8 520.2L93.2 520L96.5 519.9L99.8 519.7L103.2 519.6L106.5 519.4L109.8 519.3L113.2 519.2L116.5 519.1L119.8 519L123.1 518.9L126.5 518.8L129.8 518.6L133.1 518.5L136.5 518.4L139.8 518.3L143.1 518.2L146.4 518.1L149.8 518L153.1 517.8L156.4 517.6L159.8 517.4L163.1 517.2L166.4 517.1L169.8 516.9L173.1 516.7L176.4 516.5L179.8 516.3L183.1 516.2L186.4 516L189.7 515.8L193.1 515.6L196.4 515.4L199.7 515.3L203.1 514.9L206.4 514.5L209.7 514.1L213 513.7L216.4 513.3L219.7 512.9L223 512.5L226.4 512.1L229.7 511.7L229.7 520.5L226.4 520.9L223 521.4L219.7 521.8L216.4 522.2L213 522.7L209.7 523.1L206.4 523.6L203.1 524L199.7 524.4L196.4 524.7L193.1 524.9L189.7 525.1L186.4 525.3L183.1 525.5L179.8 525.8L176.4 526L173.1 526.2L169.8 526.4L166.4 526.7L163.1 526.9L159.8 527.1L156.4 527.3L153.1 527.6L149.8 527.8L146.4 527.9L143.1 528.1L139.8 528.2L136.5 528.4L133.1 528.6L129.8 528.7L126.5 528.9L123.1 529L119.8 529.2L116.5 529.3L113.2 529.5L109.8 529.7L106.5 529.8L103.2 530L99.8 530.1L96.5 530.4L93.2 530.7L89.8 531L86.5 531.3L83.2 531.5L79.8 531.8L76.5 532.1L73.2 532.4L69.9 532.7L66.5 532.9L63.2 533.2L59.9 533.5L56.5 533.8L53.2 534L49.9 534.3L46.5 534.5L43.2 534.8L39.9 535L36.6 535.7L33.2 538.3L29.9 549.4Z" fill="#000" fill-opacity="0.8"/>
<path d="M16.4 588L17.5 586.2L19 586.5L21 588L23 588.6L29.7 588.6L29.9 550L30.1 478L30.4 558.9L30.8 550L31.3 543.6L31.5 473.5L31.8 552.3L32.1 543.8L32.6 540.3L32.8 470.5L33.2 548.5L33.5 539.8L34 537.5L34.2 469.8L34.6 545.9L34.9 537L35.4 536.6L35.6 469.6L36 544.5L36.3 537L36.8 535.6L37 468.4L37.3 542.9L37.6 535.6L38.2 536.1L38.4 468.9L38.7 542.5L39 536.5L39.5 535.7L39.7 467.3L40.1 541.8L40.4 535.8L40.9 535.5L41.1 466L41.5 541.9L41.8 535.5L42.3 535L42.5 465.9L42.9 542L43.2 535.5L43.7 535.4L43.9 466L44.3 541.8L44.6 535.7L45.1 534.7L45.3 464.9L45.6 541.8L45.9 534.7L46.5 535L46.7 465.9L47 541.2L47.3 534.4L47.9 535.2L48.1 466.9L48.4 540.7L48.7 534.7L49.3 535.3L49.5 465.1L49.8 541.2L50.1 534.8L50.7 535.1L50.9 466.1L51.2 540.3L51.5 535.2L52.1 534.4L52.3 465.7L52.6 540.5L52.9 533.9L53.5 534.9L53.7 466.3L54 540.6L54.3 534.5L54.9 534.6L55.1 465.3L55.4 540.1L55.7 534.1L56.3 534.1L56.5 465L56.8 539.5L57.1 534.6L57.7 533.9L57.9 464.3L58.2 539.9L58.5 533.5L59.1 534.2L59.3 465.8L59.6 540.1L59.9 534.1L60.5 534L60.7 465.8L61 539.5L61.3 534.5L61.9 534L62.1 465.7L62.4 539.1L62.7 533.8L63.3 533.4L63.5 464.8L63.8 539.8L64.1 533.9L64.7 534L64.9 465.8L65.2 539.5L65.5 534L66.1 533.7L66.3 466.1L66.7 539.5L67 533.6L67.5 533.3L67.7 465.3L68.1 538.7L68.4 532.8L68.9 533.6L69.1 464.8L69.5 538.7L69.8 533.2L70.3 532.7L70.5 466.1L70.9 538.9L71.2 532.8L71.8 532.6L72 465.7L72.3 538.9L72.6 532.1L73.2 532.7L73.4 465.3L73.7 538.1L74 532.4L74.6 532.6L74.8 465.1L75.2 538.7L75.5 532.3L76 532.2L76.2 465L76.6 538L76.9 531.9L77.5 532.8L77.7 464.5L78 538.1L78.3 532.9L78.9 532.6L79.1 466.1L79.4 537.9L79.7 532.5L80.3 532.5L80.5 465.1L80.9 537.3L81.2 532.1L81.7 532.3L81.9 464.5L82.3 537.5L82.6 532L83.2 531.7L83.4 464L83.7 537.5L84 531.8L84.6 532.2L84.8 465.2L85.1 537.5L85.4 532.4L86 531.6L86.2 464.9L86.6 537.3L86.9 531.6L87.5 531.8L87.7 464.5L88 536.8L88.3 531.8L88.9 531.9L89.1 464.7L89.5 537.1L89.8 531.8L90.3 531.3L90.5 465.9L90.9 536.5L91.2 531.3L91.8 531.5L92 464.5L92.3 537.3L92.6 531.8L93.2 530.8L93.4 464.2L93.8 536.1L94.1 530.7L94.7 531.1L94.9 463.9L95.2 536.3L95.5 531.3L96.1 530.5L96.3 464.1L96.7 536L97 530.8L97.6 530.9L97.8 464.2L98.1 536L98.4 531.1L99 530.4L99.2 465.3L99.5 536.5L99.8 530.4L100.4 530.3L100.6 465.6L101 536.3L101.3 530.3L101.9 530.1L102.1 465.7L102.4 536.2L102.7 529.7L103.3 530.1L103.5 466L103.9 535.2L104.2 530.2L104.8 530.3L105 465.2L105.4 536.3L105.7 530.2L106.3 530.2L106.5 465.9L106.8 536.1L107.1 530.1L107.7 530L107.9 465.1L108.3 535.6L108.6 529.7L109.2 530.2L109.4 465L109.7 535.6L110 530L110.6 530.1L110.8 466L111.2 535.9L111.5 530L112.1 530.3L112.3 464.6L112.6 535.2L112.9 530.4L113.6 529.5L113.8 465.6L114.1 534.8L114.4 529.3L115 529.5L115.2 466.3L115.6 535.7L115.9 529.1L116.5 530.3L116.7 465.4L117 535.7L117.3 529.7L118 529.3L118.2 465.8L118.5 535.1L118.8 529.7L119.4 529.7L119.6 465.7L120 535.6L120.3 529.7L120.9 529.7L121.1 466.1L121.4 534.8L121.7 529.8L122.4 529.4L122.6 465.4L122.9 535.4L123.2 529.4L123.8 529.5L124 464.8L124.4 534.7L124.7 529.6L125.3 529L125.5 466L125.9 535.2L126.2 528.9L126.8 528.9L127 465.7L127.3 534.8L127.6 528.7L128.3 529.6L128.5 466L128.8 535L129.1 529.3L129.7 529.2L129.9 467.1L130.3 534.9L130.6 528.7L131.2 528.8L131.4 467L131.8 534.7L132.1 529.4L132.7 529.3L132.9 467L133.3 534.3L133.6 529L134.2 529.2L134.4 466.2L134.7 534.3L135 528.8L135.7 529L135.9 466.5L136.2 534.3L136.5 529.6L137.2 528.8L137.4 466.6L137.7 533.6L138 529.2L138.7 529.2L138.9 465.8L139.2 534.3L139.5 529L140.1 528.5L140.3 467.2L140.7 534.1L141 528.2L141.6 528.8L141.8 466.4L142.2 534L142.5 529L143.1 528.5L143.3 466.5L143.7 534.4L144 528.4L144.6 528.2L144.8 465.6L145.2 533.4L145.5 527.7L146.1 528.3L146.3 465.6L146.7 533.3L147 528.7L147.6 528.7L147.8 466.9L148.2 534L148.5 528.2L149.1 528L149.3 467.3L149.7 533.3L150 527.9L150.6 528.5L150.8 465.9L151.2 533.2L151.5 528.9L152.1 528.1L152.3 466.9L152.7 533.2L153 527.9L153.6 527.9L153.8 465.7L154.2 533.7L154.5 528.5L155.1 528.1L155.3 466.7L155.7 533.3L156 527.5L156.6 528L156.8 467.9L157.2 533.5L157.5 528.4L158.1 527.5L158.3 467.7L158.7 532.7L159 528.1L159.7 527.8L159.9 467L160.2 533.4L160.5 527.7L161.2 527.6L161.4 467.6L161.7 532.4L162 528L162.7 527.6L162.9 467.1L163.2 533L163.5 527.2L164.2 526.8L164.4 466.9L164.7 532.1L165 526.6L165.7 527.1L165.9 467.5L166.3 531.9L166.6 526.9L167.2 527.3L167.4 467.2L167.8 531.8L168.1 527.7L168.7 527.2L168.9 467.2L169.3 531.9L169.6 526.9L170.3 526.7L170.5 467L170.8 531.5L171.1 526.5L171.8 527.1L172 466.9L172.3 532.2L172.6 526.8L173.3 526.6L173.5 468.6L173.9 531.4L174.2 527L174.8 526.6L175 468.6L175.4 531.4L175.7 526.9L176.4 526.7L176.6 467.7L176.9 532.2L177.2 527.3L177.9 526.3L178.1 468.1L178.4 531.2L178.7 525.9L179.4 525.9L179.6 468.7L180 531.2L180.3 526L181 526L181.2 468L181.5 531L181.8 525.7L182.5 526L182.7 469.3L183 530.8L183.3 526L184 526L184.2 467.9L184.6 531.4L184.9 526.2L185.6 525.9L185.8 468.7L186.1 530.8L186.4 525.4L187.1 525.9L187.3 467.9L187.6 531.3L187.9 526.1L188.6 525.7L188.8 467.8L189.2 530.9L189.5 525.7L190.2 525.6L190.4 468.3L190.7 530.2L191 525.3L191.7 525.6L191.9 468L192.3 530.8L192.6 525.5L193.3 525L193.5 470L193.8 530.8L194.1 525.4L194.8 525.5L195 468.2L195.4 530.1L195.7 525.8L196.4 525.1L196.6 469.6L196.9 530.1L197.2 525.3L197.9 524.7L198.1 469.8L198.5 529.8L198.8 524.5L199.5 525.1L199.7 469.7L200 529.7L200.3 525.6L201 525.1L201.2 470L201.6 530.1L201.9 524.6L202.6 524.6L202.8 468.8L203.1 529.3L203.4 524.5L204.1 524.2L204.3 468.6L204.7 529.2L205 523.8L205.7 523.9L205.9 470.6L206.2 529.3L206.5 523.6L207.2 524L207.4 469.7L207.8 529.2L208.1 523.4L208.8 523.9L209 470.8L209.3 529.1L209.6 523.3L210.3 523.9L210.5 470.9L210.9 528.7L211.2 523.5L211.9 523.5L212.1 469.2L212.5 528.7L212.8 524L213.5 522.9L213.7 470.8L214 527.7L214.3 522.7L215 523.1L215.2 470.9L215.6 528.4L215.9 522.6L216.6 522.3L216.8 471.5L217.2 527.7L217.5 522.5L218.2 522.3L218.4 471.1L218.7 527.9L219 522.3L219.7 522.3L219.9 469.6L220.3 527.6L220.6 522.3L221.3 521.8L221.5 471.7L221.9 526.7L222.2 521.2L222.9 522L223.1 471.3L223.4 527.3L223.7 522.1L224.5 521.6L224.7 472L225 526.8L225.3 521.3L226 521.4L226.2 470L226.6 526.3L226.9 521.1L227.6 521L227.8 472.7L228.2 525.8L228.5 521.2L229.7 520L230.3 535L231 547.6L231.7 557.4L232.4 565.1L233.1 571L233.8 575.7L234.5 579.3L235.2 582.1L235.9 584.3L236.6 586L237.3 587.3L238 588.4L238.7 589.2L239.4 589.8L240.1 590.3L240.8 590.7L241.5 591L242.2 591.2L242.9 591.4L243.6 591.5L244.3 591.6L245 591.7L245.7 591.8L246.4 591.8L247.1 591.9L247.8 591.9L248.5 591.9L249.2 591.9L249.9 591.9L250.6 592L251.3 592L252 592L252.7 592L253.4 592L254.1 592L254.8 592L255.5 592L256.2 592L256.9 592" fill="none" stroke="#050505" stroke-width="1" stroke-linejoin="round"/>
<path d="M16.4 588L17.5 586.2L19 586.5L21 588L23 588.6L29.7 588.6L29.9 559.4L30.1 478" fill="none" stroke="#050505" stroke-width="1.2" stroke-linejoin="round"/>
<path d="M229.7 520L230.3 535L231 547.6L231.7 557.4L232.4 565.1L233.1 571L233.8 575.7L234.5 579.3L235.2 582.1L235.9 584.3L236.6 586L237.3 587.3L238 588.4L238.7 589.2L239.4 589.8L240.1 590.3L240.8 590.7L241.5 591L242.2 591.2L242.9 591.4L243.6 591.5L244.3 591.6L245 591.7L245.7 591.8L246.4 591.8L247.1 591.9L247.8 591.9L248.5 591.9L249.2 591.9L249.9 591.9L250.6 592L251.3 592L252 592L252.7 592L253.4 592L254.1 592L254.8 592L255.5 592L256.2 592L256.9 592" fill="none" stroke="#050505" stroke-width="1.2" stroke-linejoin="round"/>
<path d="M281.9 472L284.3 469.7L286.7 467.7L289.1 466.4L291.5 466.2L293.8 465.9L296.2 465.7L298.6 465.5L301 465.2L303.4 465L305.8 464.8L308.2 464.7L310.6 464.7L312.9 464.8L315.3 464.8L317.7 464.8L320.1 464.8L322.5 464.8L324.9 464.9L327.3 464.9L329.7 464.9L332.1 464.9L334.4 464.9L336.8 465L339.2 465L341.6 465L344 465.1L346.4 465.3L348.8 465.4L351.2 465.6L353.5 465.7L355.9 465.9L358.3 466.1L360.7 466.2L363.1 466.4L365.5 466.6L367.9 466.7L370.3 466.9L372.7 467.1L375 467.2L377.4 467.4L379.8 467.6L382.2 467.8L384.6 468L387 468.3L389.4 468.5L391.8 468.7L394.2 469L396.5 469.2L398.9 469.4L401.3 469.6L403.7 469.9L406.1 470.1L408.5 470.3L410.9 470.6L413.3 470.8L415.6 471.1L418 472.7L420.4 474.3L422.8 480.5L425.2 500L425.2 508L422.8 516.1L420.4 518L418 519.8L415.6 521.7L413.3 522.1L410.9 522.4L408.5 522.7L406.1 523L403.7 523.3L401.3 523.6L398.9 523.9L396.5 524.2L394.2 524.5L391.8 524.8L389.4 525.1L387 525.4L384.6 525.7L382.2 526L379.8 526.3L377.4 526.6L375 527L372.7 527.3L370.3 527.7L367.9 528.1L365.5 528.4L363.1 528.8L360.7 529.1L358.3 529.5L355.9 529.8L353.5 530.2L351.2 530.5L348.8 530.9L346.4 531.3L344 531.6L341.6 532L339.2 532.5L336.8 533L334.4 533.4L332.1 533.9L329.7 534.4L327.3 534.9L324.9 535.3L322.5 535.8L320.1 536.3L317.7 536.8L315.3 537.2L312.9 537.7L310.6 538.2L308.2 538.6L305.8 539.2L303.4 539.9L301 540.6L298.6 541.4L296.2 542.1L293.8 542.8L291.5 543.5L289.1 544.2L286.7 546.3L284.3 549.1L281.9 552.5Z" fill="#000" fill-opacity="0.2"/>
<path d="M281.4 516L283.8 511.4L286.2 510.4L288.6 509.7L291 510.8L293.4 511.2L295.8 511.6L298.2 512.1L300.6 512.3L303 511.8L305.4 511.3L307.8 511L310.2 510.8L312.6 510.5L315 510.2L317.4 509.9L319.8 509.6L322.2 509.3L324.6 509L327 508.7L329.4 508.4L331.8 508.1L334.2 507.7L336.6 507.4L339 507.1L341.4 506.8L343.8 506.6L346.2 506.4L348.6 506.2L351 506L353.4 505.8L355.9 505.7L358.3 505.5L360.7 505.3L363.1 505.2L365.5 505L367.9 504.9L370.3 504.7L372.7 504.5L375.1 504.4L377.5 504.2L379.9 504.1L382.3 503.9L384.7 503.8L387.1 503.7L389.5 503.6L391.9 503.5L394.3 503.4L396.7 503.3L399.1 503.2L401.5 503.1L403.9 503L406.3 502.9L408.7 502.7L411.1 502.6L413.5 502.5L415.9 502.2L418.3 500.5L420.7 501.4L423.1 508.7L425.5 508L425.5 508L423.1 514L420.7 513.5L418.3 514.6L415.9 516.5L413.5 517L411.1 517.3L408.7 517.6L406.3 517.8L403.9 518.1L401.5 518.4L399.1 518.7L396.7 519L394.3 519.2L391.9 519.5L389.5 519.8L387.1 520.1L384.7 520.4L382.3 520.6L379.9 520.9L377.5 521.2L375.1 521.6L372.7 521.9L370.3 522.2L367.9 522.6L365.5 522.9L363.1 523.2L360.7 523.6L358.3 523.9L355.9 524.3L353.4 524.6L351 524.9L348.6 525.3L346.2 525.6L343.8 525.9L341.4 526.3L339 526.8L336.6 527.2L334.2 527.7L331.8 528.1L329.4 528.6L327 529.1L324.6 529.5L322.2 530L319.8 530.4L317.4 530.9L315 531.3L312.6 531.8L310.2 532.2L307.8 532.6L305.4 533L303 533.6L300.6 534.2L298.2 534.8L295.8 535.4L293.4 536L291 536.7L288.6 536.6L286.2 538.3L283.8 540.4L281.4 546Z" fill="#000" fill-opacity="0.3"/>
<path d="M281.4 520.5L283.8 515.8L286.2 514.6L288.6 513.7L291 514.6L293.4 514.9L295.8 515.2L298.2 515.5L300.6 515.6L303 515.1L305.4 514.6L307.8 514.3L310.2 514L312.6 513.7L315 513.4L317.4 513.1L319.8 512.7L322.2 512.4L324.6 512.1L327 511.7L329.4 511.4L331.8 511.1L334.2 510.7L336.6 510.4L339 510.1L341.4 509.7L343.8 509.5L346.2 509.3L348.6 509L351 508.8L353.4 508.6L355.9 508.5L358.3 508.3L360.7 508.1L363.1 507.9L365.5 507.7L367.9 507.5L370.3 507.3L372.7 507.1L375.1 506.9L377.5 506.8L379.9 506.6L382.3 506.5L384.7 506.3L387.1 506.2L389.5 506L391.9 505.9L394.3 505.8L396.7 505.6L399.1 505.5L401.5 505.4L403.9 505.2L406.3 505.1L408.7 505L411.1 504.8L413.5 504.7L415.9 504.3L418.3 502.6L420.7 503.2L423.1 509.5L425.5 508L425.5 508L423.1 514L420.7 513.5L418.3 514.6L415.9 516.5L413.5 517L411.1 517.3L408.7 517.6L406.3 517.8L403.9 518.1L401.5 518.4L399.1 518.7L396.7 519L394.3 519.2L391.9 519.5L389.5 519.8L387.1 520.1L384.7 520.4L382.3 520.6L379.9 520.9L377.5 521.2L375.1 521.6L372.7 521.9L370.3 522.2L367.9 522.6L365.5 522.9L363.1 523.2L360.7 523.6L358.3 523.9L355.9 524.3L353.4 524.6L351 524.9L348.6 525.3L346.2 525.6L343.8 525.9L341.4 526.3L339 526.8L336.6 527.2L334.2 527.7L331.8 528.1L329.4 528.6L327 529.1L324.6 529.5L322.2 530L319.8 530.4L317.4 530.9L315 531.3L312.6 531.8L310.2 532.2L307.8 532.6L305.4 533L303 533.6L300.6 534.2L298.2 534.8L295.8 535.4L293.4 536L291 536.7L288.6 536.6L286.2 538.3L283.8 540.4L281.4 546Z" fill="#000" fill-opacity="0.3"/>
<path d="M281.4 525L283.8 520.1L286.2 518.8L288.6 517.8L291 518.5L293.4 518.7L295.8 518.8L298.2 518.9L300.6 518.9L303 518.4L305.4 517.8L307.8 517.5L310.2 517.2L312.6 516.9L315 516.6L317.4 516.2L319.8 515.9L322.2 515.5L324.6 515.1L327 514.8L329.4 514.4L331.8 514.1L334.2 513.7L336.6 513.4L339 513L341.4 512.7L343.8 512.4L346.2 512.1L348.6 511.9L351 511.7L353.4 511.5L355.9 511.2L358.3 511L360.7 510.8L363.1 510.6L365.5 510.4L367.9 510.2L370.3 510L372.7 509.7L375.1 509.5L377.5 509.3L379.9 509.1L382.3 509L384.7 508.8L387.1 508.6L389.5 508.5L391.9 508.3L394.3 508.2L396.7 508L399.1 507.8L401.5 507.7L403.9 507.5L406.3 507.3L408.7 507.2L411.1 507L413.5 506.9L415.9 506.5L418.3 504.7L420.7 505L423.1 510.3L425.5 508L425.5 508L423.1 514L420.7 513.5L418.3 514.6L415.9 516.5L413.5 517L411.1 517.3L408.7 517.6L406.3 517.8L403.9 518.1L401.5 518.4L399.1 518.7L396.7 519L394.3 519.2L391.9 519.5L389.5 519.8L387.1 520.1L384.7 520.4L382.3 520.6L379.9 520.9L377.5 521.2L375.1 521.6L372.7 521.9L370.3 522.2L367.9 522.6L365.5 522.9L363.1 523.2L360.7 523.6L358.3 523.9L355.9 524.3L353.4 524.6L351 524.9L348.6 525.3L346.2 525.6L343.8 525.9L341.4 526.3L339 526.8L336.6 527.2L334.2 527.7L331.8 528.1L329.4 528.6L327 529.1L324.6 529.5L322.2 530L319.8 530.4L317.4 530.9L315 531.3L312.6 531.8L310.2 532.2L307.8 532.6L305.4 533L303 533.6L300.6 534.2L298.2 534.8L295.8 535.4L293.4 536L291 536.7L288.6 536.6L286.2 538.3L283.8 540.4L281.4 546Z" fill="#000" fill-opacity="0.5"/>
<path d="M281.4 529.5L283.8 524.5L286.2 523L288.6 521.8L291 522.4L293.4 522.4L295.8 522.3L298.2 522.3L300.6 522.1L303 521.6L305.4 521.1L307.8 520.7L310.2 520.4L312.6 520.1L315 519.7L317.4 519.3L319.8 519L322.2 518.6L324.6 518.2L327 517.8L329.4 517.5L331.8 517.1L334.2 516.7L336.6 516.3L339 516L341.4 515.6L343.8 515.3L346.2 515L348.6 514.8L351 514.5L353.4 514.3L355.9 514L358.3 513.8L360.7 513.6L363.1 513.3L365.5 513.1L367.9 512.8L370.3 512.6L372.7 512.3L375.1 512.1L377.5 511.9L379.9 511.6L382.3 511.5L384.7 511.3L387.1 511.1L389.5 510.9L391.9 510.7L394.3 510.5L396.7 510.3L399.1 510.2L401.5 510L403.9 509.8L406.3 509.6L408.7 509.4L411.1 509.2L413.5 509L415.9 508.6L418.3 506.8L420.7 506.8L423.1 511.1L425.5 508L425.5 508L423.1 514L420.7 513.5L418.3 514.6L415.9 516.5L413.5 517L411.1 517.3L408.7 517.6L406.3 517.8L403.9 518.1L401.5 518.4L399.1 518.7L396.7 519L394.3 519.2L391.9 519.5L389.5 519.8L387.1 520.1L384.7 520.4L382.3 520.6L379.9 520.9L377.5 521.2L375.1 521.6L372.7 521.9L370.3 522.2L367.9 522.6L365.5 522.9L363.1 523.2L360.7 523.6L358.3 523.9L355.9 524.3L353.4 524.6L351 524.9L348.6 525.3L346.2 525.6L343.8 525.9L341.4 526.3L339 526.8L336.6 527.2L334.2 527.7L331.8 528.1L329.4 528.6L327 529.1L324.6 529.5L322.2 530L319.8 530.4L317.4 530.9L315 531.3L312.6 531.8L310.2 532.2L307.8 532.6L305.4 533L303 533.6L300.6 534.2L298.2 534.8L295.8 535.4L293.4 536L291 536.7L288.6 536.6L286.2 538.3L283.8 540.4L281.4 546Z" fill="#000" fill-opacity="0.8"/>
<path d="M268.4 588.6L281.2 588.6L281.4 546.7L281.6 474L281.9 555.7L282.2 546.6L282.8 542.3L283 470.3L283.3 550.7L283.6 542.8L284.1 541.1L284.3 467L284.7 549.4L285 541.4L285.5 540.1L285.7 466.7L286 548L286.3 540.3L286.8 538.1L287 465.8L287.4 546L287.7 538.5L288.2 537.3L288.4 463.6L288.8 544.2L289.1 537L289.6 537.5L289.8 463.3L290.1 543.8L290.4 537.7L291 537.3L291.2 464.1L291.5 543.2L291.8 537.3L292.3 537.2L292.5 463.8L292.9 542.9L293.2 536.6L293.7 537L293.9 465.1L294.3 543.1L294.6 537.2L295.1 536.5L295.3 465L295.6 542.5L295.9 536.5L296.5 535.7L296.7 463.5L297 541.6L297.3 535.1L297.8 535.3L298 464.6L298.4 541.8L298.7 535.8L299.2 535.3L299.4 463.8L299.8 540.9L300.1 534.9L300.6 534.4L300.8 462.1L301.2 541.1L301.5 534.2L302 534L302.2 462.4L302.5 540.5L302.8 534.5L303.4 533.7L303.6 462.2L303.9 540.3L304.2 534L304.8 533.3L305 462.4L305.3 539.1L305.6 533.1L306.2 533.4L306.4 462.4L306.7 539.1L307 533.8L307.6 533L307.8 462.1L308.1 538.2L308.4 533.1L309 532.5L309.2 463.5L309.5 538.7L309.8 533L310.4 532.9L310.6 462.7L310.9 538.2L311.2 532.7L311.8 532.2L312 462.9L312.3 537.4L312.6 531.8L313.2 532.6L313.4 462.6L313.7 538.2L314 532L314.6 531.6L314.8 462.6L315.1 537L315.4 531L316 531.3L316.2 463.6L316.5 537.5L316.8 531.3L317.4 531.3L317.6 462.3L317.9 537L318.2 531.2L318.8 530.9L319 462.4L319.4 536.5L319.7 531.3L320.2 530.9L320.4 463.8L320.8 535.9L321.1 530.9L321.6 530.8L321.8 463L322.2 535.8L322.5 530.3L323.1 529.8L323.3 462.4L323.6 535.6L323.9 530.3L324.5 529.6L324.7 463.7L325 536L325.3 529.7L325.9 529.5L326.1 463.6L326.5 534.6L326.8 529.7L327.3 529L327.5 462.4L327.9 534.9L328.2 529L328.8 529.3L329 463.2L329.3 534.3L329.6 529.7L330.2 528.7L330.4 461.8L330.7 533.9L331 528.7L331.6 528.8L331.8 461.9L332.2 534.2L332.5 528.8L333.1 528.3L333.3 462.7L333.6 533.7L333.9 528.2L334.5 527.7L334.7 462L335 533L335.3 527.8L335.9 528.1L336.1 462L336.5 533.6L336.8 527.6L337.4 527.5L337.6 463L337.9 532.6L338.2 527.6L338.8 527.6L339 462.3L339.4 532.7L339.7 527.6L340.3 527L340.5 463.2L340.8 531.8L341.1 526.5L341.7 526.7L341.9 462.8L342.3 532.4L342.6 527L343.2 526L343.4 463.6L343.7 531.3L344 526.3L344.6 526.4L344.8 462.2L345.2 531.9L345.5 526L346.1 525.8L346.3 464.3L346.6 531.4L346.9 525.4L347.5 526L347.7 464L348.1 530.6L348.4 525.9L349 525.9L349.2 462.3L349.5 531L349.8 525.7L350.4 525.1L350.6 464L351 530.6L351.3 525.3L351.9 524.9L352.1 464.5L352.4 530.5L352.7 525.3L353.4 525.2L353.6 462.9L353.9 530.5L354.2 525.5L354.8 525.2L355 464.3L355.4 530.4L355.7 525L356.3 524.4L356.5 464.5L356.8 530.3L357.1 523.9L357.8 524.3L358 464.3L358.3 529.1L358.6 524.7L359.2 524.1L359.4 463.2L359.8 529.9L360.1 523.8L360.7 523.7L360.9 463.5L361.3 529.1L361.6 523.8L362.2 524L362.4 463.4L362.7 528.3L363 524.4L363.7 523.8L363.9 463.7L364.2 528.7L364.5 524L365.1 523.1L365.3 464.3L365.7 528L366 523.1L366.6 522.8L366.8 465.1L367.2 528.6L367.5 522.2L368.1 522.9L368.3 464.4L368.7 527.6L369 523.4L369.6 522.9L369.8 465.6L370.1 527.2L370.4 523.3L371.1 522.5L371.3 465.4L371.6 527.4L371.9 522.1L372.6 522L372.8 465.9L373.1 527.2L373.4 522.2L374.1 522.3L374.3 464.1L374.6 526.9L374.9 522.8L375.6 522.1L375.8 465.5L376.1 526.4L376.4 521.9L377.1 521.8L377.3 465.3L377.6 526.8L377.9 521.6L378.6 521.6L378.8 464.3L379.1 526.6L379.4 521.1L380.1 521.8L380.3 465.5L380.6 526.9L380.9 521.3L381.6 521.3L381.8 466.2L382.1 525.8L382.4 521.3L383.1 520.9L383.3 465.3L383.6 526L383.9 521.5L384.6 520.7L384.8 467.2L385.1 525.1L385.4 521L386.1 520.5L386.3 467.1L386.6 525.8L386.9 520.7L387.6 520.2L387.8 466L388.1 525.1L388.4 520.6L389.1 520.4L389.3 467.5L389.7 525.3L390 520.7L390.6 520L390.8 467.2L391.2 524.9L391.5 519.8L392.1 520.2L392.3 466.9L392.7 524.6L393 520L393.7 519.8L393.9 466.5L394.2 525.1L394.5 519.6L395.2 519.6L395.4 466.4L395.7 524L396 519.2L396.7 519.4L396.9 466L397.3 524.6L397.6 519.4L398.2 519.4L398.4 467.5L398.8 523.7L399.1 518.9L399.8 518.8L400 467L400.3 523.6L400.6 518.9L401.3 518.5L401.5 468.7L401.8 523.4L402.1 518.6L402.8 518.5L403 466.8L403.4 523L403.7 519.1L404.4 518.5L404.6 467.6L404.9 523.5L405.2 519L405.9 518L406.1 467L406.4 523L406.7 517.7L407.4 518.3L407.6 467.6L408 522.2L408.3 518L409 518L409.2 468.9L409.5 522.3L409.8 517.6L410.5 517.6L410.7 468.8L411.1 522.9L411.4 517.3L412.1 517.5L412.3 469.2L412.6 522.8L412.9 517L413.6 517.5L413.8 469.6L414.2 522.5L414.5 517.1L415.2 516.9L415.4 468.2L415.7 521.9L416 517.1L416.7 516.3L416.9 470.8L417.3 520.5L417.6 516.6L418.3 514.9L418.5 471.2L418.8 519.5L419.1 514.7L419.8 514.1L420 470.8L420.4 518.3L420.7 514.3L421.4 513.8L421.6 473.5L421.9 517.2L422.2 513.5L422.9 514L423.1 478.8L423.5 515.4L423.8 514L426 507L427 503.8L427.5 503.5L428.8 503.2L430.1 504.1L431.4 503L432.7 503.9L434 503.6L435.3 503L436.6 503.8L437.9 503L439.2 503.7L440.5 503L441.8 503.1L443.1 503.7L444.4 504.4L445.7 503.1L447 503.3L448.3 504L449.6 504.6L450.9 503.9L452.2 503.6L453.5 504.7L454.8 503L456.1 504.4L457.4 503.4L458.7 503.2L460 503.1L461.3 503.5L462.6 504.4L463.9 503.2L465.2 503.9L466.5 504.1L467.8 503.6L469.1 503.9L470.4 503L471.7 503L473 503.3L474.3 504.1L475.6 503.7L476.9 503.5L478.2 504L479.5 503.7L480.8 503.4L481 503.8L481.5 503.8L482.2 524.6L482.9 540.5L483.6 552.7L484.3 562L485 569L485.7 574.5L486.4 577.4L487.1 580.9L487.8 584L488.5 586.5L489.2 588.5L489.9 589.7L490.6 590.2L491.3 590.2L492 589.9L492.7 589.7L493.4 589.9L494.1 590.5L494.8 591.3L495.5 592.1L496.2 592.8L496.9 592.9L497.6 592.7L498.3 592L499 591.3L499.7 590.8L500.4 590.8L501.1 591.1L501.8 591.8L502.5 592.5L503.2 593.1L503.9 593.2L504.6 592.8L505.3 592.2L506 591.4L506.7 590.9L507.4 590.8" fill="none" stroke="#050505" stroke-width="1" stroke-linejoin="round"/>
<path d="M268.4 588.6L281.2 588.6L281.4 556L281.6 474" fill="none" stroke="#050505" stroke-width="1.2" stroke-linejoin="round"/>
<path d="M426 507L427 503.8L427.5 503.5L428.8 503.2L430.1 504.1L431.4 503L432.7 503.9L434 503.6L435.3 503L436.6 503.8L437.9 503L439.2 503.7L440.5 503L441.8 503.1L443.1 503.7L444.4 504.4L445.7 503.1L447 503.3L448.3 504L449.6 504.6L450.9 503.9L452.2 503.6L453.5 504.7L454.8 503L456.1 504.4L457.4 503.4L458.7 503.2L460 503.1L461.3 503.5L462.6 504.4L463.9 503.2L465.2 503.9L466.5 504.1L467.8 503.6L469.1 503.9L470.4 503L471.7 503L473 503.3L474.3 504.1L475.6 503.7L476.9 503.5L478.2 504L479.5 503.7L480.8 503.4L481 503.8L481.5 503.8L482.2 524.6L482.9 540.5L483.6 552.7L484.3 562L485 569L485.7 574.5L486.4 577.4L487.1 580.9L487.8 584L488.5 586.5L489.2 588.5L489.9 589.7L490.6 590.2L491.3 590.2L492 589.9L492.7 589.7L493.4 589.9L494.1 590.5L494.8 591.3L495.5 592.1L496.2 592.8L496.9 592.9L497.6 592.7L498.3 592L499 591.3L499.7 590.8L500.4 590.8L501.1 591.1L501.8 591.8L502.5 592.5L503.2 593.1L503.9 593.2L504.6 592.8L505.3 592.2L506 591.4L506.7 590.9L507.4 590.8" fill="none" stroke="#050505" stroke-width="1.2" stroke-linejoin="round"/>
<path d="M521.5 194.2L535.5 194.2L536.2 168L536.7 66.3L537.8 175.6L538.1 171.7L538.5 168.9L538.8 166.3L539.3 81.4L540.4 174.5L540.8 170.4L541.2 167.3L541.6 164.3L542.1 82.6L543.2 171.9L543.7 168L544.2 165.2L544.8 161.9L545.3 84.2L546.4 169.6L547 165.7L547.8 162.9L548.5 161.5L549 86.3L550.1 169.1L550.8 165.2L551.6 162.4L552.4 161.2L552.9 87.3L554 169.1L554.6 165.1L555.4 162.2L556.1 160.9L556.6 87.6L557.7 169L558.4 164.8L559.1 161.9L559.9 160.6L560.4 88.5L561.5 168.7L562.1 164.6L562.9 161.6L563.6 160.3L564.1 89.4L565.2 168.1L565.9 164.1L566.7 161.2L567.4 159.9L567.9 90.2L569 167.7L569.7 163.7L570.4 160.9L571.2 159.6L571.7 90.5L572.8 167.9L573.4 163.7L574.2 160.6L574.9 159.3L575.4 90.9L576.5 167.1L577.2 163.1L578 160.3L578.7 159L579.2 91.2L580.3 167.5L581 163.2L581.7 160L582.5 158.8L583 90.9L584.1 166.5L584.7 162.6L585.5 159.7L586.3 158.5L586.8 91.4L587.9 167L588.5 162.7L589.3 159.6L590 158.3L590.5 90.9L591.6 165.8L592.3 162L593 159.3L593.8 158.1L594.3 91.9L595.4 166.3L596.1 162.1L596.8 159.1L597.6 157.9L598.1 92.8L599.2 165.8L599.8 161.8L600.6 158.9L601.3 157.7L601.8 93.5L602.9 165.4L603.6 161.5L604.4 158.6L605.1 157.5L605.6 93.3L606.7 165.1L607.4 161.2L608.1 158.4L608.9 157.3L609.4 92L610.5 164.9L611.1 161L611.9 158.2L612.6 157.1L613.1 92.2L614.2 165.1L614.9 161L615.7 158L616.4 156.9L616.9 93.4L618 164.5L618.7 160.6L619.4 157.8L620.2 156.6L620.7 94.3L621.8 164.5L622.4 160.5L623.2 157.6L624 156.4L624.5 92.9L625.6 164.1L626.2 160.2L627 157.4L627.7 156.2L628.2 94.3L629.3 164.6L630 160.3L630.7 157.2L631.5 156L632 93.3L633.1 163.5L633.8 159.7L634.5 156.9L635.3 155.8L635.8 94.7L636.9 163.5L637.5 159.6L638.3 156.7L639 155.6L639.5 95.3L640.6 163.6L641.3 159.5L642.1 156.6L642.8 155.4L643.3 94.8L644.4 163.2L645.1 159.2L645.8 156.3L646.6 155.2L647.1 95.3L648.2 163.1L648.8 159.1L649.6 156.1L650.3 154.9L650.8 94.6L651.9 163.3L652.6 159.1L653.4 156L654.1 154.7L654.6 94.2L655.7 163L656.4 158.8L657.1 155.7L657.9 154.5L658.4 94.2L659.5 162.7L660.1 158.5L660.9 155.5L661.7 154.3L662.2 95L663.3 162.7L663.9 158.4L664.7 155.3L665.4 154.1L665.9 94.4L667 162.1L667.7 158L668.4 155.1L669.2 153.8L669.7 95.1L670.8 162.3L671.5 158L672.2 154.9L673 153.6L673.5 96.3L674.6 161.7L675.2 157.6L676 154.6L676.7 153.4L677.2 94.9L678.3 161.1L679 157.2L679.8 154.3L680.5 153.2L681 95.1L682.1 161.1L682.8 157L683.5 154.1L684.3 152.9L684.8 95.1L685.9 160.6L686.5 156.7L687.3 153.9L688 152.7L688.5 96.3L689.6 160.8L690.3 156.7L691.1 153.7L691.8 152.5L692.3 95.4L693.4 161L694.1 156.6L694.8 153.5L695.6 152.2L696.1 95.3L697.2 160.3L697.8 156.2L698.6 153.2L699.4 152L699.9 95.3L701 160.4L701.6 156.1L702.4 153L703.1 151.8L703.6 96.9L704.7 159.5L705.4 155.6L706.1 152.7L706.9 151.5L707.4 96.8L708.5 159.9L709.2 155.6L709.9 152.6L710.7 151.3L711.2 96L712.3 159.1L712.9 155.2L713.7 152.3L714.4 151.1L714.9 96.5L716 159.5L716.7 155.2L717.5 152.1L718.2 150.9L718.7 96.1L719.8 159L720.5 154.9L721.2 151.9L722 150.6L722.5 97.1L723.6 158.6L724.2 154.5L725 151.6L725.7 150.4L726.2 97.5L727.3 158.8L728 154.5L728.8 151.4L729.5 150.2L730 98.4L731.1 158.6L731.8 154.3L732.5 151.2L733.3 149.9L733.8 100.4L734.9 158.2L735.5 154L736.3 151L737.1 149.7L737.6 102.4L738.7 157.4L739.3 153.5L740.1 150.7L740.8 149.5L741.3 102.9L742.4 158L743.1 153.6L743.8 150.5L744.6 149.3L745.1 102.3L746.2 156.8L746.9 152.9L747.6 150.2L748.4 149L748.9 102.4L750 157.5L750.6 153.2L751.4 150.1L752.1 148.8L752.6 102.8L753.7 157.2L754.4 152.9L755.2 149.8L755.9 148.6L756.4 103.6L757.2 156.8L757.2 152.6L757.3 149.6L757.4 158L758.2 168L759 173.3L759.8 177.7L760.6 181.3L761.4 184.3L762.2 186.7L763 188.8L763.8 190.5L764.6 191.9L765.4 193L766.2 194L767 194.7L767.8 195.4L768.6 195.9L769.4 196.4L770.2 196.7L771 197.1L771.8 197.3L772.6 197.5L773.4 197.7L774.2 197.8L775 197.9L775.8 198L776.6 198.1L777.4 198.2L778.2 198.2L779 198.3L779.8 198.3L780.6 198.4L781.4 198.4L782.2 198.4L783 198.4L783.8 198.4L784.6 198.4L785.4 198.5L786.2 198.5L787 198.5L787.8 198.5" fill="none" stroke="#1f819c" stroke-width="1.1" stroke-linejoin="round"/>
<path d="M521.5 194.2L535.5 194.2L536.2 176L536.4 66.3" fill="none" stroke="#1f819c" stroke-width="1.2" stroke-linejoin="round"/>
<path d="M757.4 158L758.2 168L759 173.3L759.8 177.7L760.6 181.3L761.4 184.3L762.2 186.7L763 188.8L763.8 190.5L764.6 191.9L765.4 193L766.2 194L767 194.7L767.8 195.4L768.6 195.9L769.4 196.4L770.2 196.7L771 197.1L771.8 197.3L772.6 197.5L773.4 197.7L774.2 197.8L775 197.9L775.8 198L776.6 198.1L777.4 198.2L778.2 198.2L779 198.3L779.8 198.3L780.6 198.4L781.4 198.4L782.2 198.4L783 198.4L783.8 198.4L784.6 198.4L785.4 198.5L786.2 198.5L787 198.5L787.8 198.5" fill="none" stroke="#1f819c" stroke-width="1.2" stroke-linejoin="round"/>
<path d="M798.3 196L812.3 196L812.3 168L812.8 70.8L813.9 175.7L814.1 171.8L814.4 168.9L814.6 167.4L815.1 85.4L816.2 175L816.9 171.1L817.6 168.4L818.4 166.1L818.9 90.8L820 174.5L820.7 170.2L821.4 167.1L822.2 164.7L822.7 92.9L823.8 173.1L824.5 168.8L825.2 165.7L826 163.3L826.5 94.7L827.6 170.9L828.3 167L829 164.3L829.8 162L830.3 94.5L831.4 170.3L832.1 166L832.8 163L833.6 161.4L834.1 96.7L835.2 168.9L835.9 165.1L836.6 162.3L837.4 160.8L837.9 97.6L839 168.5L839.7 164.6L840.4 161.7L841.2 160.2L841.7 98.5L842.8 167.8L843.5 163.9L844.2 161.2L845 159.7L845.5 98.3L846.6 168.1L847.3 163.8L848 160.7L848.8 159.1L849.3 99.5L850.4 167.5L851.1 163.2L851.8 160.1L852.6 158.5L853.1 99.6L854.2 166.5L854.9 162.4L855.6 159.5L856.4 157.9L856.9 100.2L858 165.9L858.7 161.8L859.4 158.9L860.2 157.4L860.7 100.9L861.8 165.6L862.5 161.4L863.2 158.4L864 156.8L864.5 101.4L865.6 165L866.3 160.8L867 157.8L867.8 156.2L868.3 102.7L869.4 163.8L870.1 160L870.8 157.2L871.6 155.7L872.1 102.9L873.2 163.7L873.9 159.6L874.6 156.6L875.4 155.1L875.9 104.5L877 162.9L877.7 158.9L878.4 156.1L879.2 154.5L879.7 103.6L880.8 163L881.5 158.7L882.2 155.6L883 154.1L883.5 105.4L884.6 162.3L885.3 158.1L886 155.1L886.8 153.7L887.3 104.7L888.4 161.3L889.1 157.4L889.8 154.6L890.6 153.2L891.1 105.1L892.2 160.8L892.9 156.9L893.6 154.2L894.4 152.8L894.9 105.2L896 160.8L896.7 156.7L897.4 153.8L898.2 152.4L898.7 106.4L899.8 160.5L900.5 156.3L901.2 153.4L902 152L902.5 106.7L903.6 159.5L904.3 155.7L905 152.9L905.8 151.6L906.3 107.9L907.4 159.7L908.1 155.6L908.8 152.6L909.6 151.1L910.1 108.2L911.2 159.2L911.9 155.1L912.6 152.1L913.4 150.7L913.9 109L915 159.2L915.7 154.9L916.4 151.8L917.2 150.3L917.7 109.9L918.8 158.5L919.5 154.3L920.2 151.3L921 149.9L921.5 109.5L922.6 157.7L923.3 153.7L924 150.8L924.8 149.3L925.3 110.1L926.4 157.8L927.1 153.4L927.8 150.3L928.6 148.7L929.1 110.6L930.2 156.6L930.9 152.6L931.6 149.7L932.4 148.1L932.9 111.2L934 155.8L934.7 151.9L935.4 149.1L936.2 147.6L936.7 113.9L937.8 155.1L938.5 151.2L939.2 148.5L940 147L940.5 116.5L941.6 155.4L942.3 151.1L943 148L943.8 146.4L944.3 117.3L945.4 154.5L946.1 150.4L946.8 147.4L947.6 145.9L948.1 118.9L949.2 153.6L949.9 149.7L950.6 146.8L951.4 145.3L951.9 120L953 152.9L953.7 149L954.4 146.2L955.2 144.7L955.7 122.7L956.8 153L957.5 148.8L958.2 145.7L959 144.2L959.5 123.2L960.6 151.7L961.3 147.8L962 145.1L962.8 143.7L963.3 123.2L964.4 151.5L965.1 147.6L965.8 144.7L966.6 143.3L967.1 123.5L968.2 151.4L968.9 147.3L969.6 144.3L970.4 143L970.9 123.2L972 151.4L972.7 147.1L973.4 144L974.2 142.6L974.7 122.9L975.8 150.8L976.5 146.6L977.2 143.6L978 142.2L978.5 125L979.6 150.2L980.3 146.1L981 143.2L981.8 141.8L982.3 124.9L983.4 150.3L984.1 146L984.8 142.9L985.6 141.4L986.1 124.6L987.2 149.6L987.9 145.4L988.6 142.4L989.4 141.1L989.9 126.3L991 148.9L991.7 144.9L992.4 142L993.2 137.5L993.7 127L994.8 145.4L995.2 141.4L995.6 138.5L996 142.4L997.5 142.6L999 143.3L1000.5 142.4L1002 142.4L1003.5 142.6L1005 141.8L1006.5 142.4L1008 142.6L1009.5 142.9L1011 141.5L1012.5 141.9L1014 141.4L1015.5 142.9L1017 142.6L1018.5 141.3L1020 143.2L1021.5 143.1L1023 142.5L1024.5 142.4L1026 141.4L1027.5 141.1L1029 142.1L1030.5 141.2L1032 141.4L1033.5 141.5L1034.3 142L1034.8 150L1035.6 159.1L1036.4 166.3L1037.2 172.1L1038 176.8L1038.8 180.5L1039.6 183.5L1040.4 185.9L1041.2 187.8L1042 189.3L1042.8 190.6L1043.6 191.6L1044.4 192.3L1045.2 193L1046 193.5L1046.8 193.9L1047.6 194.2L1048.4 194.5L1049.2 194.7L1050 194.8L1050.8 195L1051.6 195.1L1052.4 195.2L1053.2 195.2L1054 195.3L1054.8 195.3L1055.6 195.4L1056.4 195.4L1057.2 195.4L1058 195.4L1058.8 195.4L1059.6 195.5L1060.4 195.5L1061.2 195.5L1062 195.5L1062.8 195.5L1063.6 195.5L1064.4 195.5" fill="none" stroke="#1f819c" stroke-width="1.1" stroke-linejoin="round"/>
<path d="M798.3 196L812.3 196L812.3 176L812.5 70.8" fill="none" stroke="#1f819c" stroke-width="1.2" stroke-linejoin="round"/>
<path d="M996 142.4L997.5 142.6L999 143.3L1000.5 142.4L1002 142.4L1003.5 142.6L1005 141.8L1006.5 142.4L1008 142.6L1009.5 142.9L1011 141.5L1012.5 141.9L1014 141.4L1015.5 142.9L1017 142.6L1018.5 141.3L1020 143.2L1021.5 143.1L1023 142.5L1024.5 142.4L1026 141.4L1027.5 141.1L1029 142.1L1030.5 141.2L1032 141.4L1033.5 141.5L1034.3 142L1034.8 150L1035.6 159.1L1036.4 166.3L1037.2 172.1L1038 176.8L1038.8 180.5L1039.6 183.5L1040.4 185.9L1041.2 187.8L1042 189.3L1042.8 190.6L1043.6 191.6L1044.4 192.3L1045.2 193L1046 193.5L1046.8 193.9L1047.6 194.2L1048.4 194.5L1049.2 194.7L1050 194.8L1050.8 195L1051.6 195.1L1052.4 195.2L1053.2 195.2L1054 195.3L1054.8 195.3L1055.6 195.4L1056.4 195.4L1057.2 195.4L1058 195.4L1058.8 195.4L1059.6 195.5L1060.4 195.5L1061.2 195.5L1062 195.5L1062.8 195.5L1063.6 195.5L1064.4 195.5" fill="none" stroke="#1f819c" stroke-width="1.2" stroke-linejoin="round"/>
<path d="M536.5 260.3L540.2 264.7L543.9 265.6L547.5 266.4L551.2 267.2L554.9 268.1L558.6 268.9L562.3 269.3L566 269.5L569.6 269.7L573.3 269.9L577 270.1L580.7 270.2L584.4 270.4L588.1 270.6L591.8 270.8L595.4 271L599.1 271.2L602.8 271.3L606.5 271.5L610.2 271.7L613.9 271.9L617.5 272.1L621.2 272.3L624.9 272.6L628.6 272.8L632.3 273.1L636 273.4L639.6 273.6L643.3 273.9L647 274.2L650.7 274.5L654.4 274.7L658 275L661.7 275.3L665.4 275.5L669.1 275.8L672.8 276.1L676.5 276.3L680.1 276.6L683.8 277L687.5 277.4L691.2 277.9L694.9 278.3L698.6 278.7L702.2 279.1L705.9 279.5L709.6 279.9L713.3 280.3L717 280.8L720.7 281.1L724.4 281.3L728 281.6L731.7 281.8L735.4 282L739.1 282.2L742.8 282.4L746.5 282.6L750.1 282.8L753.8 283L757.5 283.2L757.5 355L753.8 355.1L750.1 355.2L746.5 355.3L742.8 355.4L739.1 355.5L735.4 355.6L731.7 355.7L728 355.8L724.4 355.9L720.7 356L717 356.1L713.3 356.2L709.6 356.2L705.9 356.3L702.2 356.4L698.6 356.6L694.9 356.7L691.2 356.8L687.5 357L683.8 357.1L680.1 357.2L676.5 357.4L672.8 357.5L669.1 357.7L665.4 357.8L661.7 357.9L658 358.1L654.4 358.2L650.7 358.3L647 358.5L643.3 358.6L639.6 358.8L636 358.9L632.3 359L628.6 359.2L624.9 359.3L621.2 359.5L617.5 359.6L613.9 359.8L610.2 360L606.5 360.2L602.8 360.4L599.1 360.6L595.4 360.8L591.8 361L588.1 361.2L584.4 361.4L580.7 361.6L577 361.8L573.3 362L569.6 362.2L566 362.4L562.3 362.9L558.6 363.4L554.9 364L551.2 364.5L547.5 365L543.9 366.7L540.2 370.8L536.5 377.9Z" fill="#1f819c" fill-opacity="0.3"/>
<path d="M536 345.5L539.7 338.2L543.4 337.1L547.1 337.4L550.8 338.6L554.5 338.2L558.2 337.8L561.9 337.4L565.6 337.1L569.3 337L573 337L576.7 336.9L580.4 336.9L584.1 336.8L587.8 336.8L591.4 336.7L595.1 336.7L598.8 336.6L602.5 336.5L606.2 336.3L609.9 336.1L613.6 335.9L617.3 335.8L621 335.6L624.7 335.5L628.4 335.4L632.1 335.3L635.8 335.1L639.5 335L643.2 334.9L646.9 334.8L650.6 334.7L654.3 334.6L658 334.4L661.7 334.3L665.4 334.2L669.1 334.1L672.8 334L676.5 333.9L680.2 333.8L683.9 333.6L687.6 333.5L691.3 333.4L695 333.3L698.7 333.2L702.3 333.1L706 333L709.7 332.9L713.4 332.9L717.1 332.8L720.8 332.7L724.5 332.7L728.2 332.6L731.9 332.5L735.6 332.4L739.3 332.4L743 332.3L746.7 332.2L750.4 332.1L754.1 332.1L757.8 332L757.8 347L754.1 347.1L750.4 347.2L746.7 347.3L743 347.4L739.3 347.5L735.6 347.6L731.9 347.7L728.2 347.8L724.5 347.9L720.8 348L717.1 348.1L713.4 348.1L709.7 348.2L706 348.3L702.3 348.4L698.7 348.6L695 348.7L691.3 348.8L687.6 349L683.9 349.1L680.2 349.2L676.5 349.4L672.8 349.5L669.1 349.7L665.4 349.8L661.7 349.9L658 350.1L654.3 350.2L650.6 350.4L646.9 350.5L643.2 350.6L639.5 350.8L635.8 350.9L632.1 351L628.4 351.2L624.7 351.3L621 351.5L617.3 351.6L613.6 351.8L609.9 352L606.2 352.3L602.5 352.5L598.8 352.7L595.1 352.9L591.4 353.1L587.8 353.3L584.1 353.5L580.4 353.7L576.7 353.9L573 354.1L569.3 354.3L565.6 354.5L561.9 355L558.2 355.5L554.5 356L550.8 356.6L547.1 357.1L543.4 358.8L539.7 362.1L536 371.5Z" fill="#147896" fill-opacity="0.3"/>
<path d="M536 352L539.7 344.2L543.4 342.5L547.1 342.3L550.8 343.1L554.5 342.7L558.2 342.2L561.9 341.8L565.6 341.4L569.3 341.3L573 341.3L576.7 341.2L580.4 341.1L584.1 341L587.8 340.9L591.4 340.8L595.1 340.7L598.8 340.6L602.5 340.5L606.2 340.3L609.9 340.1L613.6 339.9L617.3 339.7L621 339.6L624.7 339.4L628.4 339.3L632.1 339.2L635.8 339.1L639.5 339L643.2 338.8L646.9 338.7L650.6 338.6L654.3 338.5L658 338.4L661.7 338.2L665.4 338.1L669.1 338L672.8 337.9L676.5 337.7L680.2 337.6L683.9 337.5L687.6 337.4L691.3 337.3L695 337.1L698.7 337L702.3 336.9L706 336.8L709.7 336.8L713.4 336.7L717.1 336.6L720.8 336.5L724.5 336.5L728.2 336.4L731.9 336.3L735.6 336.2L739.3 336.1L743 336.1L746.7 336L750.4 335.9L754.1 335.8L757.8 335.8L757.8 347L754.1 347.1L750.4 347.2L746.7 347.3L743 347.4L739.3 347.5L735.6 347.6L731.9 347.7L728.2 347.8L724.5 347.9L720.8 348L717.1 348.1L713.4 348.1L709.7 348.2L706 348.3L702.3 348.4L698.7 348.6L695 348.7L691.3 348.8L687.6 349L683.9 349.1L680.2 349.2L676.5 349.4L672.8 349.5L669.1 349.7L665.4 349.8L661.7 349.9L658 350.1L654.3 350.2L650.6 350.4L646.9 350.5L643.2 350.6L639.5 350.8L635.8 350.9L632.1 351L628.4 351.2L624.7 351.3L621 351.5L617.3 351.6L613.6 351.8L609.9 352L606.2 352.3L602.5 352.5L598.8 352.7L595.1 352.9L591.4 353.1L587.8 353.3L584.1 353.5L580.4 353.7L576.7 353.9L573 354.1L569.3 354.3L565.6 354.5L561.9 355L558.2 355.5L554.5 356L550.8 356.6L547.1 357.1L543.4 358.8L539.7 362.1L536 371.5Z" fill="#147896" fill-opacity="0.4"/>
<path d="M536 358.5L539.7 350.2L543.4 347.9L547.1 347.3L550.8 347.6L554.5 347.1L558.2 346.7L561.9 346.2L565.6 345.8L569.3 345.7L573 345.5L576.7 345.4L580.4 345.3L584.1 345.1L587.8 345L591.4 344.9L595.1 344.8L598.8 344.6L602.5 344.5L606.2 344.3L609.9 344.1L613.6 343.9L617.3 343.7L621 343.5L624.7 343.4L628.4 343.3L632.1 343.1L635.8 343L639.5 342.9L643.2 342.8L646.9 342.6L650.6 342.5L654.3 342.4L658 342.3L661.7 342.1L665.4 342L669.1 341.9L672.8 341.8L676.5 341.6L680.2 341.5L683.9 341.4L687.6 341.2L691.3 341.1L695 341L698.7 340.9L702.3 340.8L706 340.7L709.7 340.6L713.4 340.5L717.1 340.4L720.8 340.3L724.5 340.3L728.2 340.2L731.9 340.1L735.6 340L739.3 339.9L743 339.8L746.7 339.7L750.4 339.7L754.1 339.6L757.8 339.5L757.8 347L754.1 347.1L750.4 347.2L746.7 347.3L743 347.4L739.3 347.5L735.6 347.6L731.9 347.7L728.2 347.8L724.5 347.9L720.8 348L717.1 348.1L713.4 348.1L709.7 348.2L706 348.3L702.3 348.4L698.7 348.6L695 348.7L691.3 348.8L687.6 349L683.9 349.1L680.2 349.2L676.5 349.4L672.8 349.5L669.1 349.7L665.4 349.8L661.7 349.9L658 350.1L654.3 350.2L650.6 350.4L646.9 350.5L643.2 350.6L639.5 350.8L635.8 350.9L632.1 351L628.4 351.2L624.7 351.3L621 351.5L617.3 351.6L613.6 351.8L609.9 352L606.2 352.3L602.5 352.5L598.8 352.7L595.1 352.9L591.4 353.1L587.8 353.3L584.1 353.5L580.4 353.7L576.7 353.9L573 354.1L569.3 354.3L565.6 354.5L561.9 355L558.2 355.5L554.5 356L550.8 356.6L547.1 357.1L543.4 358.8L539.7 362.1L536 371.5Z" fill="#147896" fill-opacity="0.6"/>
<path d="M521.5 401L535.8 401L536 372L536.2 250.2L536.6 381.6L536.9 371.8L537.6 365.1L537.8 259.5L538.2 373.6L538.5 365.2L539.3 363.3L539.5 261.2L539.8 372.2L540.2 363.5L540.9 362.1L541.1 262.9L541.5 369.9L541.8 361.6L542.6 360.2L542.8 264.1L543.1 368.1L543.5 360.2L544.2 359.1L544.4 264.3L544.8 366L545.1 359.5L545.8 357.5L546 263.9L546.4 365.4L546.7 358L547.5 357.7L547.7 265.1L548.1 364.6L548.4 358.1L549.2 357.8L549.4 265.4L549.7 364.4L550.1 357.5L550.8 356.8L551 264.3L551.4 364.4L551.7 356.8L552.5 357L552.7 265.4L553 363.9L553.4 357.6L554.1 356.7L554.3 266.3L554.7 364L555 357.1L555.8 356.2L556 266.8L556.3 363.5L556.7 356L557.5 356.3L557.7 266.7L558 363.3L558.4 356.1L559.1 356.3L559.3 266.8L559.7 362.9L560 356.3L560.8 355.4L561 266.4L561.4 362.8L561.7 355.2L562.5 355.1L562.7 267L563 362.6L563.4 354.6L564.2 355.6L564.4 267.7L564.7 363L565.1 355.5L565.8 355.2L566 268.1L566.4 362.6L566.7 354.7L567.5 354.7L567.7 267.5L568.1 362.2L568.4 354.5L569.2 354.5L569.4 267.5L569.8 362.4L570.1 354.3L570.9 354.3L571.1 267.5L571.4 362.3L571.8 353.9L572.6 354.9L572.8 268.8L573.1 362.3L573.5 355.1L574.3 354.3L574.5 267.6L574.8 361.6L575.2 354.1L576 354L576.2 268.1L576.5 361.9L576.9 354.3L577.7 354.5L577.9 267.1L578.2 361.9L578.6 354.4L579.4 354.3L579.6 268.8L579.9 361.6L580.3 354.8L581.1 354.2L581.3 268.1L581.6 361.6L582 354.6L582.8 354.3L583 268.7L583.3 361.8L583.7 353.7L584.5 353.7L584.7 268.8L585 361.5L585.4 354L586.2 354.4L586.4 267.7L586.8 361.1L587.1 354.8L587.9 353.5L588.1 267.8L588.5 360.8L588.8 353.6L589.6 353.5L589.8 267.8L590.2 361.3L590.5 353.5L591.4 353.8L591.6 267.9L591.9 361.3L592.3 353.9L593.1 353.1L593.3 269.9L593.6 361.3L594 352.7L594.8 354.1L595 268.6L595.4 360.9L595.7 354.7L596.5 353.6L596.7 268.6L597.1 360.5L597.4 353.3L598.3 353.3L598.5 269.8L598.8 360.7L599.2 353.2L600 352.7L600.2 268.3L600.6 360.4L600.9 353.1L601.7 353.4L601.9 270L602.3 360.3L602.6 352.9L603.5 353L603.7 269.4L604 360.3L604.4 353L605.2 352.5L605.4 269.6L605.8 360.2L606.1 352.2L607 353.4L607.2 270.4L607.5 360.3L607.9 353.1L608.7 352.6L608.9 269.7L609.3 360L609.6 352.4L610.5 352.9L610.7 269.3L611 360.3L611.4 353.2L612.2 352.6L612.4 270.4L612.8 360L613.1 353.1L614 353L614.2 269.8L614.5 360.2L614.9 352.9L615.7 351.9L615.9 270.3L616.3 359.3L616.6 351.4L617.5 351.7L617.7 270.3L618 359.3L618.4 351.8L619.3 351.9L619.5 270.8L619.8 359.5L620.2 352.1L621 351.6L621.2 269.9L621.6 359.2L621.9 351.2L622.8 352.4L623 271.2L623.3 359.1L623.7 351.9L624.6 352.1L624.8 271.1L625.1 359.8L625.5 352.3L626.3 351.7L626.5 270.2L626.9 359.7L627.2 351.2L628.1 352.4L628.3 269.9L628.7 359.4L629 352.8L629.9 351.6L630.1 270.5L630.4 358.9L630.8 351.4L631.7 351.2L631.9 271.2L632.2 358.7L632.6 351L633.5 351.2L633.7 271.9L634 358.6L634.4 351.8L635.3 351.6L635.5 271.1L635.8 358.5L636.2 351.8L637 352L637.2 270.9L637.6 358.9L637.9 351.9L638.8 351.2L639 272L639.4 358.7L639.7 350.7L640.6 350.8L640.8 272.4L641.2 358.3L641.5 351.4L642.4 351.5L642.6 272.7L643 358.7L643.3 351.3L644.2 350.7L644.4 272.5L644.8 358.6L645.1 350.2L646 351L646.2 272.1L646.6 358.9L646.9 351.1L647.8 351.3L648 271.4L648.4 358.1L648.7 351.8L649.7 350.5L649.9 273.1L650.2 358.1L650.6 349.9L651.5 351.2L651.7 272.7L652 358.8L652.4 351.7L653.3 351L653.5 273L653.8 357.8L654.2 350.9L655.1 351.2L655.3 272.3L655.6 358.4L656 351.5L656.9 350.6L657.1 272.5L657.5 357.7L657.8 350.1L658.7 350.6L658.9 273.1L659.3 358.3L659.6 350.5L660.6 351.1L660.8 272.2L661.1 358L661.5 351.2L662.4 350.7L662.6 272.6L662.9 358L663.3 350.5L664.2 350.8L664.4 273.8L664.8 357.5L665.1 351.3L666.1 349.9L666.3 273.2L666.6 358.1L667 349.9L667.9 349.8L668.1 273L668.4 357.3L668.8 349.4L669.7 350.7L669.9 273.8L670.3 357.7L670.6 350.7L671.6 350.2L671.8 273.3L672.1 357.6L672.5 350L673.4 350.4L673.6 273.5L674 357.4L674.3 350L675.3 350.1L675.5 273.7L675.8 357.8L676.2 350.5L677.1 350L677.3 273.4L677.7 357.8L678 350.4L679 350.2L679.2 274.7L679.5 357.5L679.9 350.5L680.8 350.3L681 274L681.4 357L681.7 350.2L682.7 349.3L682.9 274.9L683.2 356.9L683.6 348.8L684.5 349.5L684.7 275.3L685.1 356.8L685.4 349.9L686.4 349.9L686.6 275.7L686.9 356.6L687.3 350L688.3 349.4L688.5 276.5L688.8 356.5L689.2 349.6L690.1 349.1L690.3 276.4L690.7 356.7L691 349L692 348.9L692.2 276.8L692.6 356.3L692.9 348.8L693.9 349.6L694.1 276L694.4 356.3L694.8 349.9L695.7 349.4L695.9 276.7L696.3 356.3L696.6 349L697.6 349.4L697.8 276L698.2 356.3L698.5 349.9L699.5 349.2L699.7 277.8L700.1 356.8L700.4 349.2L701.4 348.8L701.6 277.6L701.9 356.9L702.3 348.9L703.3 348.6L703.5 276.6L703.8 356.5L704.2 348.9L705.2 349.2L705.4 276.6L705.7 356.6L706.1 348.8L707.1 348.6L707.3 278.6L707.6 356.5L708 348.2L709 348.4L709.2 278.5L709.5 356.7L709.9 348.7L710.9 348.7L711.1 278.7L711.4 356.5L711.8 348.6L712.8 348.3L713 278.9L713.3 356.5L713.7 348.1L714.7 348.2L714.9 279.4L715.2 356.1L715.6 347.7L716.6 349L716.8 279.7L717.1 356.4L717.5 349.4L718.5 348.6L718.7 278.4L719 355.7L719.4 348.3L720.4 348.4L720.6 279.1L720.9 356.4L721.3 348.6L722.3 348.2L722.5 279L722.8 356.2L723.2 348.4L724.2 348.6L724.4 280.2L724.8 356.2L725.1 348.1L726.1 348.6L726.3 279.8L726.7 356.2L727 348.8L728.1 349L728.3 280.2L728.6 356.1L729 349L730 347.9L730.2 278.7L730.5 355.3L730.9 347.8L731.9 348.5L732.1 280L732.5 355.6L732.8 348.1L733.8 348.1L734 279.6L734.4 356L734.7 347.8L735.8 347.9L736 279.2L736.3 355.3L736.7 347.8L737.7 348.6L737.9 280.4L738.3 355.8L738.6 348.8L739.6 348.5L739.8 279.3L740.2 355.8L740.5 348.2L741.6 348.3L741.8 281.2L742.1 355.3L742.5 348.8L743.5 348.1L743.7 280.7L744.1 355.8L744.4 348.1L745.5 347.3L745.7 281.5L746 355.3L746.4 347L747.4 347.8L747.6 281.3L748 354.9L748.3 347.2L749.4 347.9L749.6 280.1L749.9 355.7L750.3 348.3L751.3 348.2L751.5 280.4L751.9 355L752.2 348.3L753.3 347.9L753.5 281.7L753.8 355.1L754.2 348.4L755.2 348.2L755.4 281.9L755.8 355.2L756.1 348.3L758 350L758.5 360L759.3 367.2L760.1 372.8L760.9 377.1L761.7 380.5L762.5 383.2L763.3 385.2L764.1 386.9L764.9 388.1L765.7 389.1L766.5 389.8L767.3 390.4L768.1 390.9L768.9 391.2L769.7 391.5L770.5 391.7L771.3 391.9L772.1 392L772.9 392.1L773.7 392.2L774.5 392.3L775.3 392.3L776.1 392.4L776.9 392.4L777.7 392.4L778.5 392.4L779.3 392.5L780.1 392.5L780.9 392.5L781.7 392.5L782.5 392.5L783.3 392.5L784.1 392.5L784.9 392.5L785.7 392.5L786.5 392.5L787.3 392.5" fill="none" stroke="#1f819c" stroke-width="0.8" stroke-linejoin="round"/>
<path d="M521.5 401L535.8 401L536 381.5L536.2 250.2" fill="none" stroke="#1f819c" stroke-width="1.2" stroke-linejoin="round"/>
<path d="M758 350L758.5 360L759.3 367.2L760.1 372.8L760.9 377.1L761.7 380.5L762.5 383.2L763.3 385.2L764.1 386.9L764.9 388.1L765.7 389.1L766.5 389.8L767.3 390.4L768.1 390.9L768.9 391.2L769.7 391.5L770.5 391.7L771.3 391.9L772.1 392L772.9 392.1L773.7 392.2L774.5 392.3L775.3 392.3L776.1 392.4L776.9 392.4L777.7 392.4L778.5 392.4L779.3 392.5L780.1 392.5L780.9 392.5L781.7 392.5L782.5 392.5L783.3 392.5L784.1 392.5L784.9 392.5L785.7 392.5L786.5 392.5L787.3 392.5" fill="none" stroke="#1f819c" stroke-width="1.2" stroke-linejoin="round"/>
<path d="M813 263.3L815.8 265.1L818.7 267.9L821.5 269.4L824.3 269.8L827.1 270.3L830 270.7L832.8 271.1L835.6 271.5L838.5 272L841.3 272.4L844.1 272.8L846.9 273.2L849.8 273.7L852.6 274.1L855.4 274.5L858.3 274.9L861.1 275.3L863.9 275.8L866.7 276.2L869.6 276.6L872.4 277L875.2 277.4L878.1 277.8L880.9 278.3L883.7 278.7L886.5 279.1L889.4 279.5L892.2 279.8L895 280.1L897.9 280.4L900.7 280.6L903.5 280.9L906.3 281.2L909.2 281.5L912 281.8L914.8 282L917.6 282.3L920.5 282.6L923.3 282.9L926.1 283.1L929 283.4L931.8 283.7L934.6 284L937.4 284.5L940.3 285.1L943.1 285.6L945.9 286.2L948.8 286.8L951.6 287.3L954.4 287.9L957.2 288.4L960.1 289L962.9 289.6L965.7 290.5L968.6 292.3L971.4 294.1L974.2 300L977 307L979.9 314.1L982.7 325.8L982.7 325.5L979.9 329.7L977 334L974.2 338.2L971.4 342.5L968.6 344.8L965.7 345.2L962.9 345.6L960.1 346.1L957.2 346.5L954.4 346.9L951.6 347.3L948.8 347.7L945.9 348.2L943.1 348.6L940.3 349L937.4 349.4L934.6 349.8L931.8 350.2L929 350.6L926.1 350.7L923.3 350.8L920.5 351L917.6 351.1L914.8 351.3L912 351.4L909.2 351.5L906.3 351.7L903.5 351.8L900.7 352L897.9 352.1L895 352.2L892.2 352.4L889.4 352.5L886.5 352.7L883.7 352.8L880.9 353L878.1 353.1L875.2 353.2L872.4 353.4L869.6 353.5L866.7 353.9L863.9 354.2L861.1 354.5L858.3 354.8L855.4 355.1L852.6 355.5L849.8 355.8L846.9 356.1L844.1 356.4L841.3 356.7L838.5 357L835.6 357.4L832.8 357.7L830 358L827.1 360L824.3 362L821.5 364L818.7 365.9L815.8 367.9L813 369.9Z" fill="#1f819c" fill-opacity="0.3"/>
<path d="M812.5 342L815.3 333.9L818.2 333.5L821 333.2L823.9 332.8L826.7 332.4L829.5 332.1L832.4 331.8L835.2 331.7L838.1 331.5L840.9 331.3L843.8 331.1L846.6 330.9L849.4 330.7L852.3 330.5L855.1 330.4L858 330.2L860.8 330L863.6 329.8L866.5 329.6L869.3 329.4L872.2 329.4L875 329.4L877.9 329.4L880.7 329.4L883.5 329.4L886.4 329.5L889.2 329.6L892.1 329.6L894.9 329.7L897.8 329.8L900.6 329.8L903.4 329.9L906.3 330L909.1 330.1L912 330.1L914.8 330.2L917.6 330.3L920.5 330.3L923.3 330.4L926.2 330.5L929 330.5L931.9 330.4L934.7 330.2L937.5 330L940.4 329.8L943.2 329.6L946.1 329.4L948.9 329.2L951.7 328.9L954.6 328.7L957.4 328.5L960.3 328.3L963.1 328.1L966 327.9L968.8 327.7L971.6 327.3L974.5 326.7L977.3 326.1L980.2 325.6L983 325L983 325L980.2 327.8L977.3 330.5L974.5 333.3L971.6 336L968.8 337.8L966 338.2L963.1 338.6L960.3 339L957.4 339.4L954.6 339.8L951.7 340.2L948.9 340.6L946.1 341L943.2 341.4L940.4 341.8L937.5 342.2L934.7 342.6L931.9 343L929 343.3L926.2 343.4L923.3 343.5L920.5 343.6L917.6 343.7L914.8 343.9L912 344L909.1 344.1L906.3 344.2L903.4 344.4L900.6 344.5L897.8 344.6L894.9 344.7L892.1 344.8L889.2 345L886.4 345.1L883.5 345.2L880.7 345.3L877.9 345.4L875 345.6L872.2 345.7L869.3 345.9L866.5 346.2L863.6 346.5L860.8 346.8L858 347.1L855.1 347.4L852.3 347.7L849.4 348L846.6 348.3L843.8 348.6L840.9 348.8L838.1 349.1L835.2 349.4L832.4 349.7L829.5 350.3L826.7 351.9L823.9 353.6L821 355.3L818.2 356.9L815.3 358.6L812.5 368Z" fill="#147896" fill-opacity="0.3"/>
<path d="M812.5 348.5L815.3 340.1L818.2 339.4L821 338.7L823.9 338L826.7 337.3L829.5 336.6L832.4 336.3L835.2 336.1L838.1 335.9L840.9 335.7L843.8 335.5L846.6 335.2L849.4 335L852.3 334.8L855.1 334.6L858 334.4L860.8 334.2L863.6 334L866.5 333.8L869.3 333.5L872.2 333.5L875 333.4L877.9 333.4L880.7 333.4L883.5 333.4L886.4 333.4L889.2 333.4L892.1 333.4L894.9 333.5L897.8 333.5L900.6 333.5L903.4 333.5L906.3 333.5L909.1 333.6L912 333.6L914.8 333.6L917.6 333.6L920.5 333.6L923.3 333.7L926.2 333.7L929 333.7L931.9 333.5L934.7 333.3L937.5 333L940.4 332.8L943.2 332.5L946.1 332.3L948.9 332L951.7 331.7L954.6 331.5L957.4 331.2L960.3 331L963.1 330.7L966 330.5L968.8 330.2L971.6 329.5L974.5 328.3L977.3 327.2L980.2 326.1L983 325L983 325L980.2 327.8L977.3 330.5L974.5 333.3L971.6 336L968.8 337.8L966 338.2L963.1 338.6L960.3 339L957.4 339.4L954.6 339.8L951.7 340.2L948.9 340.6L946.1 341L943.2 341.4L940.4 341.8L937.5 342.2L934.7 342.6L931.9 343L929 343.3L926.2 343.4L923.3 343.5L920.5 343.6L917.6 343.7L914.8 343.9L912 344L909.1 344.1L906.3 344.2L903.4 344.4L900.6 344.5L897.8 344.6L894.9 344.7L892.1 344.8L889.2 345L886.4 345.1L883.5 345.2L880.7 345.3L877.9 345.4L875 345.6L872.2 345.7L869.3 345.9L866.5 346.2L863.6 346.5L860.8 346.8L858 347.1L855.1 347.4L852.3 347.7L849.4 348L846.6 348.3L843.8 348.6L840.9 348.8L838.1 349.1L835.2 349.4L832.4 349.7L829.5 350.3L826.7 351.9L823.9 353.6L821 355.3L818.2 356.9L815.3 358.6L812.5 368Z" fill="#147896" fill-opacity="0.4"/>
<path d="M812.5 355L815.3 346.2L818.2 345.2L821 344.2L823.9 343.2L826.7 342.2L829.5 341.2L832.4 340.8L835.2 340.6L838.1 340.3L840.9 340.1L843.8 339.8L846.6 339.6L849.4 339.3L852.3 339.1L855.1 338.9L858 338.6L860.8 338.4L863.6 338.1L866.5 337.9L869.3 337.6L872.2 337.5L875 337.5L877.9 337.4L880.7 337.4L883.5 337.3L886.4 337.3L889.2 337.3L892.1 337.2L894.9 337.2L897.8 337.2L900.6 337.2L903.4 337.1L906.3 337.1L909.1 337.1L912 337.1L914.8 337L917.6 337L920.5 337L923.3 336.9L926.2 336.9L929 336.9L931.9 336.7L934.7 336.4L937.5 336.1L940.4 335.8L943.2 335.5L946.1 335.2L948.9 334.9L951.7 334.6L954.6 334.2L957.4 333.9L960.3 333.6L963.1 333.3L966 333L968.8 332.7L971.6 331.6L974.5 330L977.3 328.3L980.2 326.7L983 325L983 325L980.2 327.8L977.3 330.5L974.5 333.3L971.6 336L968.8 337.8L966 338.2L963.1 338.6L960.3 339L957.4 339.4L954.6 339.8L951.7 340.2L948.9 340.6L946.1 341L943.2 341.4L940.4 341.8L937.5 342.2L934.7 342.6L931.9 343L929 343.3L926.2 343.4L923.3 343.5L920.5 343.6L917.6 343.7L914.8 343.9L912 344L909.1 344.1L906.3 344.2L903.4 344.4L900.6 344.5L897.8 344.6L894.9 344.7L892.1 344.8L889.2 345L886.4 345.1L883.5 345.2L880.7 345.3L877.9 345.4L875 345.6L872.2 345.7L869.3 345.9L866.5 346.2L863.6 346.5L860.8 346.8L858 347.1L855.1 347.4L852.3 347.7L849.4 348L846.6 348.3L843.8 348.6L840.9 348.8L838.1 349.1L835.2 349.4L832.4 349.7L829.5 350.3L826.7 351.9L823.9 353.6L821 355.3L818.2 356.9L815.3 358.6L812.5 368Z" fill="#147896" fill-opacity="0.6"/>
<path d="M798.3 400.2L812.3 400.2L812.5 369L812.7 250.2L813.1 378.5L813.4 369.2L814.1 360L814.3 261.7L814.7 369L815 360.2L815.8 359.2L816 263.9L816.3 367.9L816.7 359.8L817.4 357.8L817.6 263.8L818 367.1L818.3 357.9L819.1 356.5L819.3 266.2L819.6 365.9L820 356.8L820.8 356.3L821 267.8L821.3 364L821.7 355.8L822.4 355.6L822.6 268.5L823 363.7L823.3 355.7L824.1 354.2L824.3 268L824.6 361.7L825 354.5L825.8 352.8L826 268.3L826.3 360.8L826.7 352.5L827.4 351.5L827.6 268.4L828 359.7L828.3 351.7L829.1 351.3L829.3 269.2L829.7 358.8L830 351.9L830.8 350.8L831 269.2L831.3 358.1L831.7 350.4L832.5 350L832.7 269.2L833 358L833.4 349.8L834.1 349.7L834.3 268.6L834.7 357.5L835 349.3L835.8 350.2L836 270.1L836.4 357L836.7 349.6L837.5 349.2L837.7 269.4L838.1 357L838.4 349.8L839.2 349.1L839.4 269.5L839.8 356.8L840.1 348.7L840.9 349.9L841.1 270L841.5 356.7L841.8 349.6L842.6 348.7L842.8 270.4L843.2 356.5L843.5 348.4L844.3 349.2L844.5 270.3L844.9 356.8L845.2 349.6L846.1 349.1L846.3 271.4L846.6 356.5L847 348.7L847.8 348.6L848 271.9L848.3 356L848.7 348.9L849.5 348.7L849.7 272.1L850 355.6L850.4 349.2L851.2 348.2L851.4 271.9L851.8 355.4L852.1 347.9L852.9 347.8L853.1 272.7L853.5 355L853.8 347.9L854.7 348.3L854.9 272.1L855.2 355.7L855.6 348L856.4 347.5L856.6 271.8L856.9 355.1L857.3 347.7L858.1 348.1L858.3 272.7L858.7 355.1L859 347.9L859.9 347.3L860.1 273.4L860.4 355.1L860.8 347.5L861.6 346.7L861.8 274L862.2 354.3L862.5 347L863.4 346.7L863.6 273.4L863.9 354.1L864.3 346.5L865.1 346.9L865.3 273.3L865.7 354.4L866 346.9L866.9 347.2L867.1 274.5L867.4 354.3L867.8 347L868.6 346.5L868.8 273.6L869.2 353.6L869.5 346.9L870.4 346.5L870.6 275L870.9 353.6L871.3 346.6L872.1 345.9L872.3 274.5L872.7 353.7L873 346.4L873.9 345.9L874.1 274.5L874.5 353.5L874.8 345.9L875.7 345.9L875.9 276.3L876.2 353.6L876.6 346.2L877.5 346.5L877.7 276L878 353.5L878.4 346.8L879.2 346.2L879.4 276.4L879.8 353.2L880.1 345.7L881 346.2L881.2 276.5L881.6 353.3L881.9 345.8L882.8 345.6L883 276L883.4 352.5L883.7 346.2L884.6 345.5L884.8 277.4L885.1 352.6L885.5 345L886.4 346.2L886.6 277.7L886.9 352.5L887.3 346.3L888.2 346L888.4 276.6L888.7 352.4L889.1 346L890 346.1L890.2 277.7L890.5 352.8L890.9 346.5L891.8 345.3L892 277L892.3 352.1L892.7 345.1L893.6 345.7L893.8 277.6L894.1 352.4L894.5 346L895.4 344.9L895.6 277.5L896 352.6L896.3 345L897.2 345.8L897.4 277.4L897.8 352.4L898.1 345.8L899 344.9L899.2 278.3L899.6 351.6L899.9 345.2L900.9 345L901.1 278.8L901.4 351.9L901.8 345.1L902.7 344.4L902.9 278.3L903.2 352.2L903.6 344.8L904.5 344.3L904.7 279.9L905.1 351.6L905.4 343.8L906.3 344.8L906.5 279.2L906.9 351.3L907.2 345L908.2 344.9L908.4 279.8L908.7 351.5L909.1 344.5L910 344.9L910.2 279.4L910.6 351.3L910.9 345.2L911.9 344.9L912.1 279.8L912.4 351.3L912.8 345.1L913.7 344.4L913.9 279.3L914.3 351.1L914.6 344.6L915.6 343.9L915.8 281L916.1 351.5L916.5 344.4L917.4 344.8L917.6 280.7L918 351.3L918.3 344.5L919.3 344L919.5 279.5L919.8 351.4L920.2 344.2L921.1 344.5L921.3 280.2L921.7 350.8L922 344.7L923 344.5L923.2 281.8L923.5 350.7L923.9 344.1L924.9 343.7L925.1 280.7L925.4 351.2L925.8 343.6L926.7 344.2L926.9 280.4L927.3 350.3L927.6 344.6L928.6 343.4L928.8 281.3L929.1 351.1L929.5 343.7L930.5 344.1L930.7 281.5L931 350.8L931.4 343.7L932.4 343.7L932.6 281.9L932.9 350.2L933.3 343.4L934.2 343L934.4 281L934.8 350.3L935.1 343.5L936.1 342.6L936.3 283.2L936.7 349.5L937 342.5L938 343.1L938.2 283.2L938.6 349.7L938.9 342.5L939.9 342.5L940.1 282.4L940.5 349.1L940.8 341.9L941.8 342.2L942 284L942.4 349L942.7 341.6L943.7 342.3L943.9 284.5L944.3 348.5L944.6 342.1L945.6 341.6L945.8 284.4L946.2 348.6L946.5 341.8L947.5 340.9L947.7 283.9L948.1 347.7L948.4 340.7L949.4 341.4L949.6 284.1L950 347.7L950.3 341.1L951.4 340.6L951.6 285.2L951.9 347.4L952.3 340.9L953.3 340.2L953.5 285.5L953.8 346.6L954.2 339.7L955.2 340L955.4 286L955.8 346.7L956.1 340.3L957.1 339.7L957.3 285.9L957.7 346.6L958 339.7L959.1 339.6L959.3 286.1L959.6 346.6L960 339.1L961 339.7L961.2 286.7L961.5 346.4L961.9 339.6L962.9 339L963.1 288.2L963.5 346L963.8 339.3L964.9 338.3L965.1 287.1L965.4 345L965.8 338.7L966.8 338.8L967 288.2L967.4 344.6L967.7 339.3L968.8 337.8L969 289.9L969.3 345L969.7 338L970.7 337.7L970.9 292.5L971.3 343.3L971.6 337.1L972.7 335L972.9 294.7L973.2 340.2L973.6 335.3L974.6 333.7L974.8 298.4L975.2 337.9L975.5 333.7L976.6 331.3L976.8 303.1L977.1 334.9L977.5 331.8L978.6 329.5L978.8 307.7L979.1 332L979.5 329.9L980.5 327.5L980.7 314.8L981.1 328.8L981.4 327.8L983 324.8L984.3 325.5L985.6 325.5L986.9 325.8L988.2 324.6L989.5 324.7L990.8 324.6L992.1 324.7L993.4 325.6L994.7 324.5L996 325.3L997.3 324.7L998.6 324.8L999.9 325.1L1001.2 325.8L1002.5 325.4L1003.8 324.3L1005.1 324.8L1006.4 324.6L1007.7 325.9L1009 325.8L1010.3 325.8L1011.6 325.8L1012.9 325.6L1014.2 326L1015.5 325.7L1016.8 324.8L1018.1 325.8L1019.4 325.2L1020.7 325.7L1022 325.3L1023.3 325.1L1024.6 325L1025.9 325.1L1027.2 324.9L1028.5 324.5L1029.8 325.8L1031.1 325.7L1032.4 326.1L1033.4 325.2L1033.9 325.2L1034.7 337.4L1035.5 347.5L1036.3 355.8L1037.1 362.7L1037.9 368.4L1038.7 373.1L1039.5 377L1040.3 380.2L1041.1 382.8L1041.9 385L1042.7 386.9L1043.5 388.4L1044.3 389.6L1045.1 390.6L1045.9 391.5L1046.7 392.2L1047.5 392.7L1048.3 393.2L1049.1 393.6L1049.9 393.9L1050.7 394.2L1051.5 394.4L1052.3 394.6L1053.1 394.8L1053.9 394.9L1054.7 395L1055.5 395.1L1056.3 395.2L1057.1 395.2L1057.9 395.3L1058.7 395.3L1059.5 395.3L1060.3 395.4L1061.1 395.4L1061.9 395.4L1062.7 395.4L1063.5 395.4L1064.3 395.4" fill="none" stroke="#1f819c" stroke-width="0.8" stroke-linejoin="round"/>
<path d="M798.3 400.2L812.3 400.2L812.5 378L812.7 250.2" fill="none" stroke="#1f819c" stroke-width="1.2" stroke-linejoin="round"/>
<path d="M983 324.8L984.3 325.5L985.6 325.5L986.9 325.8L988.2 324.6L989.5 324.7L990.8 324.6L992.1 324.7L993.4 325.6L994.7 324.5L996 325.3L997.3 324.7L998.6 324.8L999.9 325.1L1001.2 325.8L1002.5 325.4L1003.8 324.3L1005.1 324.8L1006.4 324.6L1007.7 325.9L1009 325.8L1010.3 325.8L1011.6 325.8L1012.9 325.6L1014.2 326L1015.5 325.7L1016.8 324.8L1018.1 325.8L1019.4 325.2L1020.7 325.7L1022 325.3L1023.3 325.1L1024.6 325L1025.9 325.1L1027.2 324.9L1028.5 324.5L1029.8 325.8L1031.1 325.7L1032.4 326.1L1033.4 325.2L1033.9 325.2L1034.7 337.4L1035.5 347.5L1036.3 355.8L1037.1 362.7L1037.9 368.4L1038.7 373.1L1039.5 377L1040.3 380.2L1041.1 382.8L1041.9 385L1042.7 386.9L1043.5 388.4L1044.3 389.6L1045.1 390.6L1045.9 391.5L1046.7 392.2L1047.5 392.7L1048.3 393.2L1049.1 393.6L1049.9 393.9L1050.7 394.2L1051.5 394.4L1052.3 394.6L1053.1 394.8L1053.9 394.9L1054.7 395L1055.5 395.1L1056.3 395.2L1057.1 395.2L1057.9 395.3L1058.7 395.3L1059.5 395.3L1060.3 395.4L1061.1 395.4L1061.9 395.4L1062.7 395.4L1063.5 395.4L1064.3 395.4" fill="none" stroke="#1f819c" stroke-width="1.2" stroke-linejoin="round"/>
<path d="M536.5 461.6L540.2 458.2L543.9 457.9L547.5 457.7L551.2 457.4L554.9 457.2L558.6 456.9L562.3 456.8L566 456.8L569.6 456.8L573.3 456.8L577 456.8L580.7 456.8L584.4 456.8L588.1 456.8L591.8 456.8L595.4 456.8L599.1 456.8L602.8 456.8L606.5 456.8L610.2 456.8L613.9 456.8L617.5 456.8L621.2 456.8L624.9 456.8L628.6 456.8L632.3 456.8L636 456.8L639.6 456.8L643.3 456.8L647 456.8L650.7 456.8L654.4 456.8L658 456.8L661.7 456.8L665.4 456.8L669.1 456.8L672.8 456.8L676.5 456.8L680.1 456.8L683.8 456.9L687.5 457.1L691.2 457.2L694.9 457.4L698.6 457.5L702.2 457.6L705.9 457.8L709.6 457.9L713.3 458.1L717 458.2L720.7 458.3L724.4 458.5L728 458.6L731.7 458.7L735.4 458.9L739.1 459L742.8 459.2L746.5 459.3L750.1 459.4L753.8 459.6L757.5 459.7L757.5 524.7L753.8 524.8L750.1 524.9L746.5 525L742.8 525.1L739.1 525.2L735.4 525.3L731.7 525.4L728 525.5L724.4 525.6L720.7 525.7L717 525.8L713.3 525.9L709.6 526L705.9 526.1L702.2 526.2L698.6 526.3L694.9 526.4L691.2 526.5L687.5 526.6L683.8 526.7L680.1 526.8L676.5 526.9L672.8 527L669.1 527.1L665.4 527.2L661.7 527.3L658 527.4L654.4 527.5L650.7 527.6L647 527.8L643.3 528L639.6 528.2L636 528.4L632.3 528.7L628.6 528.9L624.9 529.1L621.2 529.3L617.5 529.5L613.9 529.8L610.2 530L606.5 530.2L602.8 530.4L599.1 530.7L595.4 531.3L591.8 531.8L588.1 532.4L584.4 532.9L580.7 533.5L577 534L573.3 534.6L569.6 535.2L566 535.7L562.3 536.3L558.6 537.1L554.9 538.5L551.2 539.8L547.5 541.2L543.9 542.6L540.2 543.9L536.5 553Z" fill="#1f819c" fill-opacity="0.2"/>
<path d="M536 522L539.7 512.6L543.4 512.7L547.1 513.1L550.8 513.1L554.5 512L558.2 510.8L561.9 510.1L565.6 509.8L569.3 509.5L573 509.2L576.7 508.8L580.4 508.5L584.1 508.2L587.8 507.9L591.4 507.6L595.1 507.3L598.8 507L602.5 506.7L606.2 506.6L609.9 506.4L613.6 506.2L617.3 506L621 505.8L624.7 505.7L628.4 505.5L632.1 505.3L635.8 505.1L639.5 504.9L643.2 504.7L646.9 504.6L650.6 504.4L654.3 504.3L658 504.3L661.7 504.2L665.4 504.2L669.1 504.1L672.8 504.1L676.5 504L680.2 503.9L683.9 503.9L687.6 503.8L691.3 503.8L695 503.7L698.7 503.6L702.3 503.6L706 503.5L709.7 503.5L713.4 503.4L717.1 503.3L720.8 503.3L724.5 503.2L728.2 503.2L731.9 503.1L735.6 503.1L739.3 503L743 502.9L746.7 502.9L750.4 502.8L754.1 502.8L757.8 502.7L757.8 518.7L754.1 518.8L750.4 518.9L746.7 518.9L743 519L739.3 519.1L735.6 519.2L731.9 519.3L728.2 519.4L724.5 519.4L720.8 519.5L717.1 519.6L713.4 519.7L709.7 519.8L706 519.8L702.3 519.9L698.7 520L695 520.1L691.3 520.2L687.6 520.3L683.9 520.3L680.2 520.4L676.5 520.5L672.8 520.6L669.1 520.7L665.4 520.8L661.7 520.8L658 520.9L654.3 521L650.6 521.1L646.9 521.3L643.2 521.5L639.5 521.7L635.8 521.9L632.1 522.1L628.4 522.3L624.7 522.5L621 522.7L617.3 522.9L613.6 523.1L609.9 523.3L606.2 523.5L602.5 523.7L598.8 524L595.1 524.6L591.4 525.1L587.8 525.6L584.1 526.2L580.4 526.7L576.7 527.2L573 527.8L569.3 528.3L565.6 528.9L561.9 529.4L558.2 530.3L554.5 531.7L550.8 533L547.1 534.4L543.4 535.6L539.7 537L536 548Z" fill="#147896" fill-opacity="0.3"/>
<path d="M536 528.5L539.7 518.7L543.4 518.4L547.1 518.5L550.8 518.1L554.5 516.9L558.2 515.7L561.9 514.9L565.6 514.6L569.3 514.2L573 513.8L576.7 513.4L580.4 513.1L584.1 512.7L587.8 512.3L591.4 512L595.1 511.6L598.8 511.2L602.5 511L606.2 510.8L609.9 510.6L613.6 510.4L617.3 510.2L621 510L624.7 509.9L628.4 509.7L632.1 509.5L635.8 509.3L639.5 509.1L643.2 508.9L646.9 508.7L650.6 508.6L654.3 508.5L658 508.4L661.7 508.4L665.4 508.3L669.1 508.3L672.8 508.2L676.5 508.1L680.2 508.1L683.9 508L687.6 507.9L691.3 507.9L695 507.8L698.7 507.7L702.3 507.7L706 507.6L709.7 507.5L713.4 507.5L717.1 507.4L720.8 507.3L724.5 507.3L728.2 507.2L731.9 507.2L735.6 507.1L739.3 507L743 507L746.7 506.9L750.4 506.8L754.1 506.8L757.8 506.7L757.8 518.7L754.1 518.8L750.4 518.9L746.7 518.9L743 519L739.3 519.1L735.6 519.2L731.9 519.3L728.2 519.4L724.5 519.4L720.8 519.5L717.1 519.6L713.4 519.7L709.7 519.8L706 519.8L702.3 519.9L698.7 520L695 520.1L691.3 520.2L687.6 520.3L683.9 520.3L680.2 520.4L676.5 520.5L672.8 520.6L669.1 520.7L665.4 520.8L661.7 520.8L658 520.9L654.3 521L650.6 521.1L646.9 521.3L643.2 521.5L639.5 521.7L635.8 521.9L632.1 522.1L628.4 522.3L624.7 522.5L621 522.7L617.3 522.9L613.6 523.1L609.9 523.3L606.2 523.5L602.5 523.7L598.8 524L595.1 524.6L591.4 525.1L587.8 525.6L584.1 526.2L580.4 526.7L576.7 527.2L573 527.8L569.3 528.3L565.6 528.9L561.9 529.4L558.2 530.3L554.5 531.7L550.8 533L547.1 534.4L543.4 535.6L539.7 537L536 548Z" fill="#147896" fill-opacity="0.4"/>
<path d="M536 535L539.7 524.8L543.4 524.2L547.1 523.8L550.8 523.1L554.5 521.8L558.2 520.6L561.9 519.8L565.6 519.3L569.3 518.9L573 518.5L576.7 518L580.4 517.6L584.1 517.2L587.8 516.8L591.4 516.3L595.1 515.9L598.8 515.5L602.5 515.2L606.2 515L609.9 514.8L613.6 514.6L617.3 514.5L621 514.3L624.7 514.1L628.4 513.9L632.1 513.7L635.8 513.5L639.5 513.3L643.2 513.1L646.9 512.9L650.6 512.7L654.3 512.7L658 512.6L661.7 512.5L665.4 512.5L669.1 512.4L672.8 512.3L676.5 512.2L680.2 512.2L683.9 512.1L687.6 512L691.3 512L695 511.9L698.7 511.8L702.3 511.8L706 511.7L709.7 511.6L713.4 511.5L717.1 511.5L720.8 511.4L724.5 511.3L728.2 511.3L731.9 511.2L735.6 511.1L739.3 511.1L743 511L746.7 510.9L750.4 510.8L754.1 510.8L757.8 510.7L757.8 518.7L754.1 518.8L750.4 518.9L746.7 518.9L743 519L739.3 519.1L735.6 519.2L731.9 519.3L728.2 519.4L724.5 519.4L720.8 519.5L717.1 519.6L713.4 519.7L709.7 519.8L706 519.8L702.3 519.9L698.7 520L695 520.1L691.3 520.2L687.6 520.3L683.9 520.3L680.2 520.4L676.5 520.5L672.8 520.6L669.1 520.7L665.4 520.8L661.7 520.8L658 520.9L654.3 521L650.6 521.1L646.9 521.3L643.2 521.5L639.5 521.7L635.8 521.9L632.1 522.1L628.4 522.3L624.7 522.5L621 522.7L617.3 522.9L613.6 523.1L609.9 523.3L606.2 523.5L602.5 523.7L598.8 524L595.1 524.6L591.4 525.1L587.8 525.6L584.1 526.2L580.4 526.7L576.7 527.2L573 527.8L569.3 528.3L565.6 528.9L561.9 529.4L558.2 530.3L554.5 531.7L550.8 533L547.1 534.4L543.4 535.6L539.7 537L536 548Z" fill="#147896" fill-opacity="0.6"/>
<path d="M521.5 590.1L524 589L526 590.2L529 589.3L532 590.5L535.8 590L536 548.5L536.2 460.1L536.6 555.6L536.9 548.3L537.5 541.5L537.7 458.5L538 548.6L538.4 541L538.9 539.1L539.1 457.9L539.5 546.5L539.8 538.7L540.4 537L540.6 456.5L540.9 543.6L541.3 536.5L541.8 536.7L542 457L542.4 543.4L542.7 536.2L543.3 535.8L543.5 456.4L543.9 543.1L544.2 535.3L544.8 535.5L545 455.6L545.3 542L545.7 535L546.2 535L546.4 456L546.8 542.2L547.1 534.4L547.7 534.5L547.9 454.8L548.3 540.8L548.6 534.6L549.2 534.2L549.4 455.6L549.7 540.6L550.1 534.4L550.7 533.4L550.9 455.8L551.2 540.5L551.6 533.7L552.1 532.9L552.3 456.2L552.7 539.8L553 532.3L553.6 532.6L553.8 455.6L554.2 539.3L554.5 533.1L555.1 532.1L555.3 454.5L555.7 538.9L556 532.3L556.6 531.6L556.8 454.5L557.1 537.7L557.5 531.4L558.1 530.4L558.3 454.1L558.6 537.3L559 530.6L559.6 530L559.8 455.7L560.1 537L560.5 530.6L561.1 530.3L561.3 455.3L561.6 536.2L562 530.2L562.6 529.4L562.8 453.8L563.1 535.9L563.5 529.9L564.1 529.3L564.3 454.5L564.6 536.3L565 529.8L565.5 529.8L565.7 455.4L566.1 535.8L566.4 530.2L567 529.3L567.2 454.4L567.6 535.7L567.9 529.4L568.5 528.9L568.7 455.7L569.1 535L569.4 529.1L570.1 528.9L570.3 454.9L570.6 535.5L571 529.4L571.6 529L571.8 455.2L572.1 535.3L572.5 528.6L573.1 528.8L573.3 454.4L573.6 535L574 528.6L574.6 528.5L574.8 455.2L575.1 534.9L575.5 528.4L576.1 527.6L576.3 455.2L576.6 534.4L577 527.9L577.6 528.1L577.8 454.3L578.2 533.7L578.5 528.3L579.1 526.9L579.3 454.2L579.7 533.5L580 527.1L580.6 527.1L580.8 455L581.2 533.7L581.5 527.3L582.2 527.3L582.4 454.4L582.7 532.8L583.1 526.8L583.7 527.1L583.9 454.5L584.2 532.7L584.6 527.1L585.2 526.8L585.4 455.7L585.8 533L586.1 527.1L586.7 526.5L586.9 454.2L587.3 532.2L587.6 526.3L588.3 525.8L588.5 455.2L588.8 532.3L589.2 525.4L589.8 525.5L590 455.7L590.3 532L590.7 524.9L591.3 525.3L591.5 455.5L591.9 531.6L592.2 525.6L592.9 525.9L593.1 455.1L593.4 531.4L593.8 525.5L594.4 525L594.6 455.6L595 531.1L595.3 525.1L595.9 525.3L596.1 455.1L596.5 530.9L596.8 524.8L597.5 524.6L597.7 455.8L598 530.9L598.4 524.7L599 524.9L599.2 454.2L599.6 530.3L599.9 525.4L600.6 524.5L600.8 454.1L601.1 531L601.5 524.8L602.1 524.5L602.3 454.1L602.7 530.8L603 524.4L603.7 524.4L603.9 454.8L604.2 530L604.6 524.7L605.2 523.8L605.4 454.4L605.8 530.2L606.1 523.5L606.8 524.1L607 454.2L607.3 529.9L607.7 523.9L608.3 523.5L608.5 455.1L608.9 530.1L609.2 523L609.9 524.1L610.1 455.1L610.5 530.3L610.8 523.6L611.5 523.7L611.7 454.7L612 529.5L612.4 524L613 523.6L613.2 454L613.6 529.4L613.9 523.2L614.6 523.9L614.8 454.3L615.1 529.7L615.5 523.4L616.2 523L616.4 454.5L616.7 529.6L617.1 523.1L617.7 523.1L617.9 453.9L618.3 529.3L618.6 523.2L619.3 522.9L619.5 455.5L619.9 529.9L620.2 522.5L620.9 523.5L621.1 455.7L621.4 529.4L621.8 523.1L622.5 523.5L622.7 455.5L623 529L623.4 523.2L624 522.8L624.2 455.6L624.6 529.1L624.9 522.3L625.6 523.2L625.8 454.7L626.2 528.9L626.5 523.4L627.2 522.4L627.4 454.5L627.7 528.6L628.1 522.3L628.8 522.6L629 454.2L629.3 528.4L629.7 522.6L630.4 522.4L630.6 453.8L630.9 528.7L631.3 522.5L632 522.5L632.2 454.3L632.5 528.7L632.9 522.7L633.5 522.1L633.7 454.1L634.1 528.9L634.4 522.3L635.1 522L635.3 455.5L635.7 528.4L636 521.6L636.7 521.9L636.9 454.3L637.3 528.5L637.6 521.4L638.3 522.3L638.5 454.2L638.9 527.8L639.2 521.8L639.9 522.1L640.1 454.2L640.5 528.5L640.8 522.6L641.5 522.6L641.7 454.6L642.1 528.3L642.4 523.1L643.1 522L643.3 454.3L643.7 528L644 522.5L644.7 521.8L644.9 454.8L645.3 528.4L645.6 521.4L646.4 521.3L646.6 455.5L646.9 527.5L647.3 521.2L648 521.9L648.2 454.3L648.5 528.2L648.9 521.8L649.6 522.1L649.8 454.5L650.1 527.8L650.5 521.9L651.2 522.1L651.4 454.1L651.7 527.9L652.1 522.2L652.8 521.5L653 454.3L653.4 527.5L653.7 521.7L654.4 521.8L654.6 454.1L655 527.2L655.3 522.4L656 521.4L656.2 454.1L656.6 527.1L656.9 521.5L657.7 521.6L657.9 455.6L658.2 526.9L658.6 521.2L659.3 521.5L659.5 455L659.8 527.3L660.2 521.9L660.9 520.9L661.1 455.1L661.5 527.7L661.8 520.6L662.6 521.7L662.8 455.7L663.1 527.2L663.5 522.2L664.2 521.4L664.4 454L664.7 526.7L665.1 521.2L665.8 521.3L666 455.7L666.4 527.5L666.7 521.4L667.5 521.1L667.7 455.5L668 527.4L668.4 521.1L669.1 521L669.3 454L669.6 526.8L670 521.1L670.7 520.7L670.9 455.4L671.3 527.4L671.6 520.3L672.4 521L672.6 454L672.9 527.4L673.3 520.7L674 521.3L674.2 455.2L674.6 526.7L674.9 521.1L675.7 521.4L675.9 454.8L676.2 527.1L676.6 521.7L677.3 520.8L677.5 455L677.9 526.8L678.2 521.2L679 520.8L679.2 453.8L679.5 526.8L679.9 521L680.6 520.5L680.8 455.1L681.2 526.5L681.5 520.8L682.3 520.4L682.5 454.4L682.8 526.7L683.2 520.1L683.9 520.4L684.1 454.8L684.5 527.1L684.8 520.1L685.6 520.6L685.8 455.5L686.1 526.5L686.5 520.9L687.3 521L687.5 454.3L687.8 526.3L688.2 520.7L688.9 520.8L689.1 454.2L689.5 526.2L689.8 520.7L690.6 520.2L690.8 454.4L691.1 526.6L691.5 520.3L692.2 520.7L692.4 455L692.8 526.7L693.1 520.3L693.9 520.4L694.1 455.3L694.5 525.9L694.8 520L695.6 520.3L695.8 455.1L696.1 526.8L696.5 520.7L697.3 520.3L697.5 455.7L697.8 526.5L698.2 520.9L698.9 520.7L699.1 454.9L699.5 526.5L699.8 520.4L700.6 520.1L700.8 456.2L701.2 526.3L701.5 520.6L702.3 520.8L702.5 455.8L702.8 525.9L703.2 520.9L704 520.7L704.2 456.2L704.5 525.9L704.9 520.1L705.7 520.8L705.9 455.1L706.2 526.3L706.6 520.5L707.4 519.8L707.6 455.4L707.9 526.3L708.3 519.3L709 519.8L709.2 455.1L709.6 526.4L709.9 519.4L710.7 520.4L710.9 455.6L711.3 526L711.6 520.3L712.4 520.6L712.6 456L713 525.7L713.3 520.1L714.1 520L714.3 455.4L714.7 525.5L715 520.2L715.8 519.9L716 455.7L716.4 526.1L716.7 519.7L717.5 519.7L717.7 456.2L718.1 525.5L718.4 519.7L719.2 519.8L719.4 455.4L719.8 525.4L720.1 519.7L720.9 519.7L721.1 456.8L721.5 525.4L721.8 520.1L722.6 520.2L722.8 455.6L723.2 525.7L723.5 520.5L724.3 520.2L724.5 457.1L724.9 525.9L725.2 519.7L726.1 520.2L726.3 456.9L726.6 525.6L727 519.8L727.8 519.7L728 456.8L728.3 525.1L728.7 519.4L729.5 519.8L729.7 456.2L730 525.4L730.4 520L731.2 520L731.4 455.8L731.7 525.6L732.1 519.8L732.9 519.6L733.1 457.1L733.5 525.6L733.8 520.1L734.6 519.5L734.8 456.3L735.2 525.1L735.5 519.2L736.4 519.4L736.6 456.2L736.9 525L737.3 519.8L738.1 519.3L738.3 457.4L738.6 525.7L739 519.1L739.8 520L740 456.7L740.4 525.4L740.7 520.1L741.5 519.5L741.7 456.3L742.1 524.7L742.4 519L743.3 519.5L743.5 458L743.8 525.5L744.2 519.2L745 519.4L745.2 456.5L745.6 525L745.9 519.3L746.7 519.1L746.9 457.7L747.3 525L747.6 518.7L748.5 519.4L748.7 456.5L749 524.8L749.4 519.1L750.2 519.5L750.4 457.8L750.8 524.6L751.1 519.4L752 519.4L752.2 457.9L752.5 525.1L752.9 519.4L753.7 519.2L753.9 458.4L754.3 525.2L754.6 518.7L755.5 519.4L755.7 457.6L756 524.9L756.4 518.9L758 524L758.6 553L759.5 565L760.6 573L761.8 577.8L763.2 581L765 584.3L767 586.8L768.5 583.5L770 585L771.2 585.5L773.2 584.2L775 585.5L776.5 586.2L778.4 588.1L780.4 585.5L782.4 587.5L784.5 588.5L786.4 589.4L788.2 580.5" fill="none" stroke="#1f819c" stroke-width="0.8" stroke-linejoin="round"/>
<path d="M521.5 590.1L524 589L526 590.2L529 589.3L532 590.5L535.8 590L536 556L536.2 460.1" fill="none" stroke="#1f819c" stroke-width="1.2" stroke-linejoin="round"/>
<path d="M758 524L758.6 553L759.5 565L760.6 573L761.8 577.8L763.2 581L765 584.3L767 586.8L768.5 583.5L770 585L771.2 585.5L773.2 584.2L775 585.5L776.5 586.2L778.4 588.1L780.4 585.5L782.4 587.5L784.5 588.5L786.4 589.4L788.2 580.5" fill="none" stroke="#1f819c" stroke-width="1.2" stroke-linejoin="round"/>
<path d="M812.5 455.1L815.8 453.9L819 452.7L822.3 452.3L825.5 452.3L828.8 452.3L832 452.3L835.3 452.3L838.5 452.3L841.8 452.4L845 452.7L848.3 452.9L851.5 453.2L854.8 453.4L858 453.7L861.3 453.9L864.6 454.1L867.8 454.4L871.1 454.6L874.3 454.9L877.6 455.1L880.8 455.4L884.1 455.6L887.3 455.8L890.6 456.1L893.8 456.3L897.1 456.6L900.3 456.8L903.6 457.1L906.8 457.3L910.1 457.6L913.4 457.8L916.6 458L919.9 458.3L923.1 458.5L926.4 458.8L929.6 459L932.9 459.2L936.1 459.5L939.4 459.7L942.6 459.9L945.9 460.2L949.1 460.4L952.4 460.6L955.6 460.9L958.9 461.1L962.2 461.5L965.4 462L968.7 462.5L971.9 463L975.2 463.5L978.4 464L981.7 464.5L984.9 464.9L988.2 465.4L991.4 466.2L994.7 467.5L997.9 468.7L1001.2 469.9L1004.4 478.4L1007.7 489.4L1007.7 489L1004.4 495.3L1001.2 501.6L997.9 504.2L994.7 504.7L991.4 505.2L988.2 505.6L984.9 506.1L981.7 506.6L978.4 507.1L975.2 507.6L971.9 508L968.7 508.5L965.4 509L962.2 509.5L958.9 509.9L955.6 510.3L952.4 510.7L949.1 511L945.9 511.4L942.6 511.8L939.4 512.1L936.1 512.5L932.9 512.9L929.6 513.2L926.4 513.6L923.1 513.9L919.9 514.3L916.6 514.7L913.4 515.1L910.1 515.4L906.8 515.8L903.6 516.2L900.3 516.5L897.1 516.9L893.8 517.3L890.6 517.7L887.3 518L884.1 518.4L880.8 518.8L877.6 519.1L874.3 519.5L871.1 519.9L867.8 520.3L864.6 520.8L861.3 521.3L858 521.8L854.8 522.3L851.5 522.8L848.3 523.3L845 523.7L841.8 524.2L838.5 524.7L835.3 525.2L832 525.7L828.8 526.9L825.5 529.2L822.3 531.5L819 533.8L815.8 536.1L812.5 541.5Z" fill="#1f819c" fill-opacity="0.2"/>
<path d="M812 511L815.3 503.7L818.5 502.6L821.8 501.6L825.1 500.6L828.3 499.5L831.6 498.9L834.9 498.6L838.1 498.4L841.4 498.1L844.7 497.9L847.9 497.6L851.2 497.3L854.5 497.1L857.7 496.8L861 496.6L864.3 496.3L867.5 496.1L870.8 495.8L874.1 495.7L877.3 495.6L880.6 495.4L883.9 495.3L887.1 495.1L890.4 495L893.7 494.8L896.9 494.7L900.2 494.6L903.5 494.4L906.7 494.3L910 494.1L913.3 494L916.5 493.8L919.8 493.7L923.1 493.6L926.3 493.4L929.6 493.3L932.9 493.1L936.1 493L939.4 492.9L942.7 492.7L945.9 492.6L949.2 492.5L952.5 492.3L955.7 492.2L959 492L962.3 491.8L965.5 491.6L968.8 491.3L972.1 491.1L975.3 490.8L978.6 490.6L981.9 490.3L985.1 490.1L988.4 489.8L991.7 489.5L994.9 489.3L998.2 489L1001.5 488.8L1004.7 488.6L1008 488.4L1008 488.4L1004.7 492.7L1001.5 497L998.2 499.1L994.9 499.6L991.7 500L988.4 500.5L985.1 500.9L981.9 501.4L978.6 501.8L975.3 502.2L972.1 502.7L968.8 503.1L965.5 503.6L962.3 504L959 504.4L955.7 504.8L952.5 505.1L949.2 505.4L945.9 505.7L942.7 506.1L939.4 506.4L936.1 506.7L932.9 507.1L929.6 507.4L926.3 507.7L923.1 508L919.8 508.4L916.5 508.7L913.3 509L910 509.4L906.7 509.7L903.5 510L900.2 510.4L896.9 510.7L893.7 511.1L890.4 511.4L887.1 511.7L883.9 512.1L880.6 512.4L877.3 512.7L874.1 513.1L870.8 513.4L867.5 513.8L864.3 514.3L861 514.7L857.7 515.2L854.5 515.6L851.2 516.1L847.9 516.5L844.7 517L841.4 517.4L838.1 517.9L834.9 518.3L831.6 518.8L828.3 520.1L825.1 522.2L821.8 524.3L818.5 526.5L815.3 528.6L812 537Z" fill="#147896" fill-opacity="0.3"/>
<path d="M812 517.5L815.3 509.9L818.5 508.6L821.8 507.3L825.1 506L828.3 504.7L831.6 503.9L834.9 503.5L838.1 503.2L841.4 502.9L844.7 502.6L847.9 502.3L851.2 502L854.5 501.7L857.7 501.4L861 501.1L864.3 500.8L867.5 500.5L870.8 500.2L874.1 500L877.3 499.9L880.6 499.7L883.9 499.5L887.1 499.3L890.4 499.1L893.7 498.9L896.9 498.7L900.2 498.5L903.5 498.3L906.7 498.1L910 497.9L913.3 497.8L916.5 497.6L919.8 497.4L923.1 497.2L926.3 497L929.6 496.8L932.9 496.6L936.1 496.4L939.4 496.3L942.7 496.1L945.9 495.9L949.2 495.7L952.5 495.5L955.7 495.3L959 495.1L962.3 494.9L965.5 494.6L968.8 494.3L972.1 494L975.3 493.7L978.6 493.4L981.9 493.1L985.1 492.8L988.4 492.5L991.7 492.2L994.9 491.9L998.2 491.6L1001.5 490.9L1004.7 489.6L1008 488.4L1008 488.4L1004.7 492.7L1001.5 497L998.2 499.1L994.9 499.6L991.7 500L988.4 500.5L985.1 500.9L981.9 501.4L978.6 501.8L975.3 502.2L972.1 502.7L968.8 503.1L965.5 503.6L962.3 504L959 504.4L955.7 504.8L952.5 505.1L949.2 505.4L945.9 505.7L942.7 506.1L939.4 506.4L936.1 506.7L932.9 507.1L929.6 507.4L926.3 507.7L923.1 508L919.8 508.4L916.5 508.7L913.3 509L910 509.4L906.7 509.7L903.5 510L900.2 510.4L896.9 510.7L893.7 511.1L890.4 511.4L887.1 511.7L883.9 512.1L880.6 512.4L877.3 512.7L874.1 513.1L870.8 513.4L867.5 513.8L864.3 514.3L861 514.7L857.7 515.2L854.5 515.6L851.2 516.1L847.9 516.5L844.7 517L841.4 517.4L838.1 517.9L834.9 518.3L831.6 518.8L828.3 520.1L825.1 522.2L821.8 524.3L818.5 526.5L815.3 528.6L812 537Z" fill="#147896" fill-opacity="0.4"/>
<path d="M812 524L815.3 516.1L818.5 514.5L821.8 513L825.1 511.4L828.3 509.8L831.6 508.8L834.9 508.5L838.1 508.1L841.4 507.8L844.7 507.4L847.9 507.1L851.2 506.7L854.5 506.4L857.7 506L861 505.6L864.3 505.3L867.5 504.9L870.8 504.6L874.1 504.4L877.3 504.1L880.6 503.9L883.9 503.7L887.1 503.4L890.4 503.2L893.7 502.9L896.9 502.7L900.2 502.5L903.5 502.2L906.7 502L910 501.8L913.3 501.5L916.5 501.3L919.8 501L923.1 500.8L926.3 500.6L929.6 500.3L932.9 500.1L936.1 499.9L939.4 499.6L942.7 499.4L945.9 499.2L949.2 498.9L952.5 498.7L955.7 498.5L959 498.2L962.3 497.9L965.5 497.6L968.8 497.2L972.1 496.9L975.3 496.5L978.6 496.2L981.9 495.8L985.1 495.5L988.4 495.1L991.7 494.8L994.9 494.4L998.2 494.1L1001.5 492.9L1004.7 490.6L1008 488.4L1008 488.4L1004.7 492.7L1001.5 497L998.2 499.1L994.9 499.6L991.7 500L988.4 500.5L985.1 500.9L981.9 501.4L978.6 501.8L975.3 502.2L972.1 502.7L968.8 503.1L965.5 503.6L962.3 504L959 504.4L955.7 504.8L952.5 505.1L949.2 505.4L945.9 505.7L942.7 506.1L939.4 506.4L936.1 506.7L932.9 507.1L929.6 507.4L926.3 507.7L923.1 508L919.8 508.4L916.5 508.7L913.3 509L910 509.4L906.7 509.7L903.5 510L900.2 510.4L896.9 510.7L893.7 511.1L890.4 511.4L887.1 511.7L883.9 512.1L880.6 512.4L877.3 512.7L874.1 513.1L870.8 513.4L867.5 513.8L864.3 514.3L861 514.7L857.7 515.2L854.5 515.6L851.2 516.1L847.9 516.5L844.7 517L841.4 517.4L838.1 517.9L834.9 518.3L831.6 518.8L828.3 520.1L825.1 522.2L821.8 524.3L818.5 526.5L815.3 528.6L812 537Z" fill="#147896" fill-opacity="0.6"/>
<path d="M798.3 585.7L802 586.5L806 588L811.7 589.3L812 538.1L812.2 453.3L812.6 545.4L812.9 538.1L813.5 530.8L813.7 453L814 537.5L814.4 531.1L814.9 529.9L815.1 452.7L815.5 536.6L815.8 529.7L816.4 529L816.6 450.8L816.9 536.1L817.3 528.8L817.8 527.9L818 451.6L818.4 534.2L818.7 527.4L819.3 526.1L819.5 449.9L819.9 533.6L820.2 525.7L820.8 525.7L821 449.6L821.3 532.8L821.7 525.5L822.2 524.1L822.4 449.5L822.8 531.2L823.1 523.6L823.7 523.2L823.9 449.8L824.3 530.7L824.6 523.7L825.2 522.6L825.4 450.2L825.7 529.8L826.1 522.3L826.7 521.5L826.9 450.2L827.2 528.6L827.6 521L828.2 521.2L828.4 449.7L828.7 527.8L829.1 521.6L829.6 520L829.8 450L830.2 526L830.5 520L831.1 519L831.3 451.3L831.7 525.5L832 518.8L832.6 519.4L832.8 449.6L833.2 525.9L833.5 519L834.1 518.6L834.3 450.1L834.7 525.7L835 518.7L835.6 518.7L835.8 449.3L836.1 525.4L836.5 519.1L837.1 518.2L837.3 451.2L837.6 524.8L838 518.6L838.6 518.4L838.8 449.8L839.1 524.6L839.5 518.3L840.1 518.4L840.3 450.1L840.6 524.1L841 518.8L841.6 517.5L841.8 450.2L842.1 524.4L842.5 517.8L843.1 517.4L843.3 450L843.6 524.5L844 518L844.6 517.2L844.8 451.1L845.2 524.1L845.5 516.9L846.1 516.9L846.3 451.1L846.7 523.5L847 516.5L847.6 516.7L847.8 451L848.2 523.2L848.5 516.6L849.1 516.5L849.3 451.7L849.7 523.5L850 516.1L850.7 516.5L850.9 452L851.2 523.1L851.6 516.7L852.2 516.4L852.4 450.3L852.7 523L853.1 516.4L853.7 516L853.9 451L854.3 522.7L854.6 516.4L855.2 516.2L855.4 450.9L855.8 522.1L856.1 515.8L856.8 515.5L857 451.2L857.3 521.5L857.7 515.2L858.3 515.3L858.5 450.8L858.8 521.3L859.2 515L859.8 515.1L860 451.7L860.4 521.4L860.7 515.6L861.3 514.8L861.5 451.5L861.9 521.4L862.2 514.7L862.9 515.2L863.1 452.8L863.4 521.3L863.8 515.6L864.4 514.6L864.6 452.3L865 520.4L865.3 515L866 514.6L866.2 452.3L866.5 520.6L866.9 515.1L867.5 514.4L867.7 452.7L868.1 520.1L868.4 514.3L869.1 514.5L869.3 453.4L869.6 520.3L870 515L870.6 514L870.8 451.7L871.1 520L871.5 514.2L872.1 513.7L872.3 452.6L872.7 519.3L873 514.1L873.7 513.8L873.9 453.4L874.3 519.4L874.6 514.1L875.3 513L875.5 453.5L875.8 519.1L876.2 513.6L876.8 513L877 452.9L877.4 519.1L877.7 513.6L878.4 513.2L878.6 452.6L878.9 518.8L879.3 513.5L879.9 512.9L880.1 452.7L880.5 518.9L880.8 513.1L881.5 512.3L881.7 452.7L882.1 519.1L882.4 512.4L883.1 512.2L883.3 454.1L883.6 518.2L884 512.3L884.6 512.6L884.8 454.2L885.2 518.7L885.5 513.1L886.2 512.3L886.4 453.2L886.8 517.7L887.1 512.7L887.8 512.1L888 454.7L888.3 518.4L888.7 512.7L889.4 511.8L889.6 454.1L889.9 517.4L890.3 512.2L890.9 512L891.1 454L891.5 517.7L891.8 511.8L892.5 511.7L892.7 454.1L893.1 517.4L893.4 511.2L894.1 511.3L894.3 453.4L894.7 517.1L895 511.6L895.7 511.3L895.9 454L896.2 516.8L896.6 510.9L897.3 511.5L897.5 454.8L897.8 517.3L898.2 511.6L898.9 510.8L899.1 455.2L899.4 517L899.8 511L900.5 510.4L900.7 454.4L901 516.9L901.4 509.9L902.1 511L902.3 455.8L902.6 516.3L903 510.5L903.7 510.8L903.9 455.7L904.2 516.3L904.6 510.8L905.3 510.5L905.5 455.5L905.8 516.5L906.2 510.8L906.9 510.4L907.1 454.8L907.4 515.5L907.8 510.3L908.5 510.3L908.7 455.7L909 515.4L909.4 509.9L910.1 510L910.3 454.7L910.6 515.1L911 510L911.7 509.7L911.9 455L912.2 515.2L912.6 510.3L913.3 509.6L913.5 455.8L913.9 515.5L914.2 509.2L914.9 509.6L915.1 456.1L915.5 514.5L915.8 509.1L916.5 509.3L916.7 456.4L917.1 515.2L917.4 509.1L918.2 508.8L918.4 456L918.7 514.4L919.1 508.7L919.8 508.8L920 455.6L920.3 514.7L920.7 508.2L921.4 508.8L921.6 457.1L922 514.4L922.3 509L923 508.5L923.2 457.4L923.6 513.9L923.9 508.3L924.7 508.1L924.9 456.7L925.2 513.9L925.6 508.7L926.3 507.9L926.5 456L926.9 513.5L927.2 508.2L927.9 508.2L928.1 457.1L928.5 513.6L928.8 508.7L929.6 508.1L929.8 457.1L930.1 513.1L930.5 507.6L931.2 508.1L931.4 457.9L931.8 513.3L932.1 507.9L932.9 507.6L933.1 457.2L933.4 512.8L933.8 508.1L934.5 507L934.7 457.1L935.1 512.7L935.4 507.1L936.2 507.2L936.4 457.4L936.7 512.3L937.1 507.4L937.8 507.1L938 458.2L938.4 512.1L938.7 506.9L939.5 506.8L939.7 457.4L940 512.5L940.4 506.6L941.1 507L941.3 457.5L941.7 512.2L942 507.2L942.8 506.8L943 457L943.3 511.4L943.7 507.2L944.4 506.7L944.6 457.4L945 511.3L945.3 506.4L946.1 505.8L946.3 458.7L946.6 511.6L947 506.3L947.7 506.4L947.9 458.4L948.3 511.6L948.6 506.9L949.4 505.6L949.6 458.3L950 510.7L950.3 506L951.1 505.3L951.3 458.3L951.6 510.4L952 505.6L952.8 505.9L953 458.9L953.3 511.1L953.7 505.4L954.4 505.1L954.6 458L955 509.9L955.3 505.3L956.1 505.4L956.3 458.1L956.7 509.9L957 505.5L957.8 505.1L958 459.4L958.3 510.5L958.7 505.7L959.5 505L959.7 459L960 509.8L960.4 504.7L961.1 504.4L961.3 460.3L961.7 510.1L962 504L962.8 504.4L963 459L963.4 509L963.7 504.7L964.5 504L964.7 459L965.1 509.2L965.4 503.4L966.2 503.8L966.4 460L966.8 509.2L967.1 503.8L967.9 503.8L968.1 461.1L968.5 508.7L968.8 503.7L969.6 503.1L969.8 461.5L970.1 508.7L970.5 503.2L971.3 503.3L971.5 460.2L971.8 507.8L972.2 503.5L973 502.7L973.2 460.2L973.5 508.2L973.9 502.8L974.7 502.8L974.9 460.4L975.2 507.9L975.6 503L976.4 502.6L976.6 461.8L977 507.6L977.3 503.1L978.1 502.2L978.3 462.8L978.7 507.6L979 502L979.8 501.7L980 461.9L980.4 506.6L980.7 502.1L981.5 501.4L981.7 463L982.1 506.9L982.4 501.6L983.2 501.8L983.4 462.3L983.8 506.6L984.1 501.9L985 501.4L985.2 462.3L985.5 506.5L985.9 501.1L986.7 500.8L986.9 464L987.2 505.4L987.6 501.1L988.4 500.8L988.6 462.8L989 505.9L989.3 501.3L990.1 500.3L990.3 463.9L990.7 505.3L991 499.8L991.9 500.5L992.1 464.9L992.4 504.7L992.8 500.1L993.6 500L993.8 465.8L994.1 504.8L994.5 499.7L995.3 500.2L995.5 466.2L995.9 504.7L996.2 500.2L997 499.5L997.2 466.8L997.6 504.1L997.9 499.3L998.8 499.1L999 466.7L999.3 504.5L999.7 499.7L1000.5 498.4L1000.7 467.5L1001.1 503L1001.4 498.7L1002.3 496.3L1002.5 469L1002.8 499.9L1003.2 496.8L1004 493.7L1004.2 474.9L1004.6 495.8L1004.9 493.3L1005.8 491.4L1006 481.2L1006.3 492.3L1006.7 491.4L1008 488.4L1009.3 488.9L1010.6 489.1L1011.9 488.1L1013.2 488.8L1014.5 488.7L1015.8 488.7L1017.1 487.8L1018.4 487.6L1019.7 488.2L1021 488.8L1022.3 488L1023.6 488.4L1024.9 488.1L1026.2 489L1027.5 489.1L1028.8 488.2L1030.1 489.2L1031.4 487.7L1032.7 488.9L1034 489L1034.3 488.4L1034.8 488.4L1035.5 506.1L1036.2 520.7L1036.9 532.6L1037.6 542.5L1038.3 550.6L1039 557.3L1039.7 562.8L1040.4 567.4L1041.1 571.1L1041.8 574.2L1042.5 576.7L1043.2 578.8L1043.9 580.5L1044.6 581.9L1045.3 583.1L1046 584L1046.7 584.8L1047.4 585.5L1048.1 586L1048.8 586.5L1049.5 586.8L1050.2 587.1L1050.9 587.4L1051.6 587.6L1053.5 587.5L1054.8 584.2L1056.9 586.8L1059 581.5L1062.1 586.8L1064.6 589.4" fill="none" stroke="#1f819c" stroke-width="0.8" stroke-linejoin="round"/>
<path d="M798.3 585.7L802 586.5L806 588L811.7 589.3L812 545L812.2 453.3" fill="none" stroke="#1f819c" stroke-width="1.2" stroke-linejoin="round"/>
<path d="M1008 488.4L1009.3 488.9L1010.6 489.1L1011.9 488.1L1013.2 488.8L1014.5 488.7L1015.8 488.7L1017.1 487.8L1018.4 487.6L1019.7 488.2L1021 488.8L1022.3 488L1023.6 488.4L1024.9 488.1L1026.2 489L1027.5 489.1L1028.8 488.2L1030.1 489.2L1031.4 487.7L1032.7 488.9L1034 489L1034.3 488.4L1034.8 488.4L1035.5 506.1L1036.2 520.7L1036.9 532.6L1037.6 542.5L1038.3 550.6L1039 557.3L1039.7 562.8L1040.4 567.4L1041.1 571.1L1041.8 574.2L1042.5 576.7L1043.2 578.8L1043.9 580.5L1044.6 581.9L1045.3 583.1L1046 584L1046.7 584.8L1047.4 585.5L1048.1 586L1048.8 586.5L1049.5 586.8L1050.2 587.1L1050.9 587.4L1051.6 587.6L1053.5 587.5L1054.8 584.2L1056.9 586.8L1059 581.5L1062.1 586.8L1064.6 589.4" fill="none" stroke="#1f819c" stroke-width="1.2" stroke-linejoin="round"/>
<path d="M1081.5 196L1095.5 195.5L1095.6 158L1096.3 74L1097.7 167.5L1097.9 167L1098.1 165.4L1098.3 162.4L1098.4 151L1099.1 88.2L1100.5 160.8L1100.8 160.3L1101.1 158.7L1101.4 155.6L1101.7 151L1102.4 85.9L1103.8 161.4L1104.4 160.9L1105 159.1L1105.6 155.9L1106.2 150.9L1106.9 84.4L1108.3 160.9L1109 160.4L1109.8 158.7L1110.5 155.6L1111.2 150.9L1111.9 83.8L1113.3 161.4L1114.2 160.9L1115.1 159.1L1116 155.8L1116.9 150.8L1117.6 86L1119 160.2L1119.9 159.7L1120.8 158.1L1121.7 155.2L1122.5 150.8L1123.2 84.8L1124.6 160.7L1125.5 160.2L1126.4 158.5L1127.3 155.4L1128.2 150.7L1128.9 85.4L1130.3 161L1131.2 160.5L1132.1 158.8L1133 155.5L1133.9 150.7L1134.6 84.3L1136 161.3L1136.8 160.8L1137.7 158.9L1138.6 155.6L1139.5 150.6L1140.2 83.8L1141.6 160.1L1142.6 159.6L1143.5 158L1144.5 155L1145.5 150.5L1146.2 85.5L1147.6 160L1148.4 159.6L1149.3 158L1150.2 155L1151.1 150.5L1151.8 83.7L1153.2 160.5L1154.2 160L1155.1 158.3L1156.1 155.2L1157.1 150.3L1157.8 84.1L1159.2 159.8L1160 159.4L1160.9 157.7L1161.8 154.8L1162.7 150.1L1163.4 85.7L1164.8 160.1L1165.8 159.6L1166.7 157.9L1167.7 154.8L1168.7 149.9L1169.4 85.3L1170.8 159.6L1171.7 159.1L1172.7 157.5L1173.7 154.5L1174.6 149.8L1175.3 85.7L1176.7 159.4L1177.7 158.9L1178.6 157.3L1179.6 154.3L1180.6 149.6L1181.3 85.7L1182.7 159.7L1183.6 159.3L1184.6 157.5L1185.6 154.3L1186.5 149.4L1187.2 86L1188.6 159.8L1189.6 159.3L1190.5 157.5L1191.5 154.3L1192.5 149.2L1193.2 85L1194.6 159.3L1195.5 158.8L1196.5 157.1L1197.5 153.9L1198.4 149L1199.1 85.7L1200.5 159L1201.5 158.5L1202.4 156.8L1203.4 153.7L1204.4 148.9L1205.1 83.6L1206.5 159.4L1207.4 158.9L1208.2 157.1L1209.1 153.8L1210 148.7L1210.7 85.6L1212.1 159L1213.1 158.5L1214 156.7L1215 153.5L1216 148.5L1216.7 85.5L1218.1 158.1L1219 157.7L1220 156.1L1221 153L1221.9 148.3L1222.6 84.7L1224 158.8L1225 158.3L1225.9 156.5L1226.9 153.2L1227.9 148.2L1228.6 86.3L1230 158.8L1230.9 158.3L1231.9 156.5L1232.9 153.1L1233.8 148L1234.5 84.1L1235.9 158.2L1236.9 157.8L1237.8 156L1238.8 152.8L1239.8 147.8L1240.5 85.3L1241.9 157.7L1242.8 157.2L1243.8 155.5L1244.8 152.4L1245.7 147.6L1246.4 84.4L1247.8 157.1L1248.8 156.7L1249.7 155.1L1250.7 152.1L1251.7 147.4L1252.4 85.4L1253.8 157.4L1254.7 157L1255.7 155.3L1256.7 152.1L1257.6 147.3L1258.3 84.9L1259.7 157.1L1260.7 156.6L1261.7 154.9L1262.6 151.9L1263.6 147.1L1264.3 85.8L1265.7 157.4L1266.6 156.9L1267.5 155.2L1268.3 151.9L1269.2 146.9L1269.9 86L1271.3 156.4L1272.2 156L1273.1 154.3L1274 151.4L1274.9 146.7L1275.6 87L1277 156.5L1277.9 156.1L1278.9 154.4L1279.9 151.3L1280.8 146.5L1281.5 87.4L1282.9 157.2L1283.9 156.7L1284.9 154.9L1285.8 151.5L1286.8 146.3L1287.5 85.8L1288.9 156.4L1289.8 156L1290.7 154.2L1291.5 151.1L1292.4 146.2L1293.1 88.9L1294.5 156L1295.5 155.5L1296.5 153.9L1297.4 150.8L1298.4 146L1299.1 88.4L1300.5 155.7L1301.5 155.2L1302.4 153.6L1303.4 150.5L1304.3 145.8L1305 87.2L1306.4 155.4L1307.3 154.9L1308.2 153.3L1309.1 150.3L1310 145.6L1310.7 87.5L1312.1 155.3L1312.5 154.8L1312.8 153.2L1313.2 150.1L1313.6 152L1314.5 158L1315.3 167L1316.1 174.1L1316.9 179.9L1317.7 184.5L1318.5 188.2L1319.3 191.1L1320.1 193.5L1320.9 195.4L1321.7 196.9L1322.5 198.1L1323.3 199.1L1324.1 199.9L1324.9 200.5L1325.7 201L1326.5 201.4L1327.3 201.7L1328.1 202L1328.9 202.2L1329.7 202.3L1330.5 202.5L1331.3 202.6L1332.1 202.7L1332.9 202.7L1333.7 202.8L1334.5 202.8L1335.3 202.9L1336.1 202.9L1336.9 202.9L1337.7 202.9L1338.5 202.9L1339.3 203L1340.1 203L1340.9 203L1341.7 203L1342.5 203L1343.3 203" fill="none" stroke="#22bd22" stroke-width="1.2" stroke-linejoin="round"/>
<path d="M1362.6 195.6L1372 195.6L1372.4 87.2L1374.2 160L1375.5 192.4L1375.9 152.3L1376.7 79.7L1378.3 161.3L1378.5 160.9L1378.7 159.3L1379 156.5L1379.2 150.3L1380 103.7L1381.6 159.3L1382.2 158.8L1382.7 157.3L1383.3 154.5L1383.9 149.3L1384.7 109.1L1386.3 158.3L1387.1 157.9L1387.8 156.3L1388.5 153.5L1389.3 149L1390.1 107.1L1391.7 158L1392.3 157.6L1392.9 156.1L1393.6 153.3L1394.2 148.8L1395 106.9L1396.6 157.8L1397.3 157.4L1398 155.8L1398.7 153L1399.4 148.5L1400.2 110.4L1401.8 157.5L1402.5 157.1L1403.2 155.6L1403.9 152.8L1404.7 148.5L1405.5 105.4L1407.1 157.5L1407.9 157L1408.7 155.5L1409.5 152.7L1410.2 148.4L1411.1 102.6L1412.8 157.4L1413.4 157L1414.1 155.5L1414.8 152.6L1415.4 148.4L1416.3 108L1418 157.4L1419 157L1420 155.4L1421 152.6L1422 148.3L1422.9 101.6L1424.6 157.3L1425.4 156.9L1426.2 155.4L1427 152.6L1427.8 148.3L1428.7 103.9L1430.4 157.3L1431.3 156.9L1432.2 155.3L1433.1 152.5L1434 148.3L1434.9 103.3L1436.6 157.3L1437.5 156.8L1438.3 155.3L1439.2 152.5L1440.1 148.2L1441 103.3L1442.7 157.2L1443.5 156.8L1444.3 155.3L1445.1 152.4L1445.9 148.2L1446.8 105.9L1448.5 157.2L1449.4 156.7L1450.2 155.2L1451 152.4L1451.9 148.1L1452.8 103.9L1454.5 157.1L1455.2 156.7L1455.9 155.2L1456.7 152.4L1457.4 148.1L1458.3 108.2L1460 157.1L1461 156.7L1461.9 155.1L1462.9 152.3L1463.9 148L1464.8 103.9L1466.5 157L1467.3 156.6L1468.1 155.1L1468.9 152.3L1469.6 148L1470.6 115.7L1472.4 157L1473.4 156.6L1474.4 155L1475.5 152.2L1476.5 146.9L1477.5 108.2L1479.3 155.9L1480.2 155.4L1481.2 153.9L1482.2 151.1L1483.1 145.7L1484.1 107.1L1485.9 154.7L1487 154.3L1488.1 152.7L1489.3 149.9L1490.4 144.5L1491.4 108.2L1493.2 153.5L1494.2 153.1L1495.2 151.5L1496.2 148.7L1497.2 144.1L1498.2 110.8L1500 153.1L1500.9 152.7L1501.8 151.2L1502.8 148.3L1503.7 143.8L1504.9 114L1507.1 152.8L1507.8 152.3L1508.6 150.8L1509.3 148L1510.1 143.1L1511.9 116.8L1514.7 152.1L1515.4 151.7L1516.1 150.2L1516.8 147.4L1517.5 142.1L1520.2 129.7L1523.9 151.1L1524.4 150.7L1524.9 149.1L1525.4 146.3L1525.9 140.1L1529 132.9L1533.2 149.1L1533.6 148.7L1534 147.2L1534.4 144.4L1534.8 136.5L1537.7 137.6L1541.8 145.5L1542.1 145L1542.4 143.5L1542.7 140.7L1543 142.8L1545 142L1546.5 140.6L1549 141.8L1552.3 139.6L1554.4 141.2L1556.5 142.8L1558.7 144L1561 140.5L1563 138.7L1565 140.2L1567.3 140.6L1569.5 139.5L1571.6 140L1573.2 138.4L1574.8 137.6L1576.5 138.8L1578 139.4L1580 140.2L1581.3 140.4L1583 138.3L1584.5 137L1586 138.6L1587.7 139.8L1589.5 139L1590.9 138.5L1593 138.9L1595.2 138.7L1596 150L1597 175L1598 189L1599.1 194.1L1625.3 194.1" fill="none" stroke="#22bd22" stroke-width="1.2" stroke-linejoin="round"/>
<path d="M1095 364L1098.6 356.9L1102.3 356.5L1105.9 356.3L1109.5 357.1L1113.2 356.9L1116.8 356.5L1120.5 356.1L1124.1 355.7L1127.7 355.4L1131.4 355.1L1135 355L1138.6 354.9L1142.3 354.8L1145.9 354.7L1149.5 354.6L1153.2 354.5L1156.8 354.4L1160.5 354.3L1164.1 354.2L1167.7 354.1L1171.4 354L1175 353.8L1178.6 353.7L1182.3 353.6L1185.9 353.5L1189.6 353.4L1193.2 353.3L1196.8 353.2L1200.5 353.1L1204.1 353L1207.7 352.8L1211.4 352.6L1215 352.5L1218.6 352.3L1222.3 352.2L1225.9 352L1229.6 351.8L1233.2 351.7L1236.8 351.5L1240.5 351.3L1244.1 351.2L1247.7 351L1251.4 350.9L1255 350.7L1258.7 350.5L1262.3 350.4L1265.9 350.2L1269.6 350.1L1273.2 349.9L1276.8 349.7L1280.5 349.6L1284.1 349.4L1287.7 349.3L1291.4 349.1L1295 348.9L1298.7 348.8L1302.3 348.6L1305.9 348.4L1309.6 348.2L1313.2 348L1313.2 357L1309.6 357.2L1305.9 357.5L1302.3 357.7L1298.7 357.9L1295 358.1L1291.4 358.3L1287.7 358.5L1284.1 358.7L1280.5 358.9L1276.8 359.1L1273.2 359.3L1269.6 359.5L1265.9 359.7L1262.3 359.9L1258.7 360.1L1255 360.3L1251.4 360.5L1247.7 360.7L1244.1 360.9L1240.5 361.1L1236.8 361.3L1233.2 361.5L1229.6 361.7L1225.9 361.9L1222.3 362L1218.6 362.2L1215 362.4L1211.4 362.6L1207.7 362.8L1204.1 363L1200.5 363.2L1196.8 363.4L1193.2 363.5L1189.6 363.7L1185.9 363.8L1182.3 363.9L1178.6 364.1L1175 364.2L1171.4 364.3L1167.7 364.5L1164.1 364.6L1160.5 364.8L1156.8 364.9L1153.2 365L1149.5 365.2L1145.9 365.3L1142.3 365.5L1138.6 365.6L1135 365.7L1131.4 365.9L1127.7 366.2L1124.1 366.6L1120.5 367L1116.8 367.4L1113.2 367.9L1109.5 368.3L1105.9 368.7L1102.3 370L1098.6 371.7L1095 380Z" fill="#14b814" fill-opacity="0.3"/>
<path d="M1095 370.4L1098.6 362.8L1102.3 361.9L1105.9 361.3L1109.5 361.6L1113.2 361.3L1116.8 360.9L1120.5 360.5L1124.1 360.1L1127.7 359.7L1131.4 359.4L1135 359.3L1138.6 359.2L1142.3 359L1145.9 358.9L1149.5 358.8L1153.2 358.7L1156.8 358.6L1160.5 358.5L1164.1 358.3L1167.7 358.2L1171.4 358.1L1175 358L1178.6 357.9L1182.3 357.8L1185.9 357.6L1189.6 357.5L1193.2 357.4L1196.8 357.3L1200.5 357.2L1204.1 357L1207.7 356.8L1211.4 356.6L1215 356.5L1218.6 356.3L1222.3 356.1L1225.9 355.9L1229.6 355.8L1233.2 355.6L1236.8 355.4L1240.5 355.2L1244.1 355.1L1247.7 354.9L1251.4 354.7L1255 354.5L1258.7 354.4L1262.3 354.2L1265.9 354L1269.6 353.8L1273.2 353.7L1276.8 353.5L1280.5 353.3L1284.1 353.1L1287.7 353L1291.4 352.8L1295 352.6L1298.7 352.4L1302.3 352.2L1305.9 352L1309.6 351.8L1313.2 351.6L1313.2 357L1309.6 357.2L1305.9 357.5L1302.3 357.7L1298.7 357.9L1295 358.1L1291.4 358.3L1287.7 358.5L1284.1 358.7L1280.5 358.9L1276.8 359.1L1273.2 359.3L1269.6 359.5L1265.9 359.7L1262.3 359.9L1258.7 360.1L1255 360.3L1251.4 360.5L1247.7 360.7L1244.1 360.9L1240.5 361.1L1236.8 361.3L1233.2 361.5L1229.6 361.7L1225.9 361.9L1222.3 362L1218.6 362.2L1215 362.4L1211.4 362.6L1207.7 362.8L1204.1 363L1200.5 363.2L1196.8 363.4L1193.2 363.5L1189.6 363.7L1185.9 363.8L1182.3 363.9L1178.6 364.1L1175 364.2L1171.4 364.3L1167.7 364.5L1164.1 364.6L1160.5 364.8L1156.8 364.9L1153.2 365L1149.5 365.2L1145.9 365.3L1142.3 365.5L1138.6 365.6L1135 365.7L1131.4 365.9L1127.7 366.2L1124.1 366.6L1120.5 367L1116.8 367.4L1113.2 367.9L1109.5 368.3L1105.9 368.7L1102.3 370L1098.6 371.7L1095 380Z" fill="#14b814" fill-opacity="0.5"/>
<path d="M1081.5 402L1094.9 402L1095 381.7L1095.3 262.7L1095.9 392.6L1096.4 382L1097.4 373.3L1097.7 273.5L1098.3 383.4L1098.8 373.5L1099.8 371.2L1100.1 276.9L1100.7 382.8L1101.2 371.3L1102.3 370.5L1102.6 277.9L1103.2 380.2L1103.7 370.5L1104.7 370.1L1105 279L1105.6 379.5L1106.1 369.7L1107.1 369.1L1107.4 278.9L1108 378.1L1108.5 369.5L1109.6 368.9L1109.9 279L1110.5 378.3L1111 369L1112.1 369.5L1112.4 279.8L1113 378L1113.5 368.9L1114.5 368.1L1114.8 279.9L1115.4 377.3L1115.9 367.7L1117 368.7L1117.3 281L1117.9 377.1L1118.4 368.7L1119.5 367.5L1119.8 280.1L1120.4 376.9L1120.9 367.1L1122 367.7L1122.3 281L1122.9 377.2L1123.4 367.7L1124.5 367.8L1124.8 281.7L1125.4 376.6L1125.9 367.3L1127 367.6L1127.3 279.8L1127.9 376L1128.4 367.8L1129.5 366.7L1129.8 280.8L1130.4 375.6L1130.9 367.2L1132 366.8L1132.3 280.6L1132.9 375.3L1133.4 366.6L1134.5 366.6L1134.8 282.5L1135.4 375.9L1135.9 366.2L1137.1 365.9L1137.4 280.7L1138 375L1138.5 366L1139.6 367L1139.9 281.3L1140.5 375.5L1141 367L1142.2 365.8L1142.5 282L1143.1 374.8L1143.6 366.1L1144.7 365.8L1145 282.7L1145.6 374.8L1146.1 365.7L1147.3 365.4L1147.6 283.4L1148.2 374.6L1148.7 364.8L1149.9 366.3L1150.2 282.6L1150.8 374.8L1151.3 365.8L1152.4 366.1L1152.7 284L1153.3 375.4L1153.8 365.8L1155 365.8L1155.3 284.3L1155.9 374.4L1156.4 366L1157.6 366.2L1157.9 284L1158.5 374.2L1159 366.2L1160.2 366.2L1160.5 285.7L1161.1 375L1161.6 366.2L1162.8 365.1L1163.1 284.7L1163.7 374L1164.2 365.1L1165.5 364.7L1165.8 285.8L1166.4 374L1166.9 365L1168.1 365.2L1168.4 285.3L1169 373.7L1169.5 364.7L1170.7 365L1171 286.1L1171.6 374.3L1172.1 365.6L1173.4 364.6L1173.7 284.7L1174.3 374.2L1174.8 364.1L1176 364.7L1176.3 285.5L1176.9 373.3L1177.4 365L1178.7 365L1179 285.7L1179.6 373.9L1180.1 365.3L1181.3 364.8L1181.6 285.7L1182.2 374.2L1182.7 364.2L1184 364.1L1184.3 285.4L1184.9 373.8L1185.4 364.2L1186.7 364.2L1187 285.7L1187.6 373.8L1188.1 363.7L1189.4 365.1L1189.7 286.4L1190.3 373.5L1190.8 364.6L1192.1 363.6L1192.4 286.5L1193 373.6L1193.5 363.3L1194.8 363.7L1195.1 288L1195.7 373.4L1196.2 363.8L1197.5 363.4L1197.8 288.3L1198.4 373.1L1198.9 363.5L1200.2 364L1200.5 286.6L1201.1 372.8L1201.6 363.8L1202.9 363.7L1203.2 287.2L1203.8 372.6L1204.3 363.4L1205.7 363.7L1206 287.1L1206.6 372.5L1207.1 363.6L1208.4 363.4L1208.7 288.2L1209.3 371.9L1209.8 363.2L1211.2 363L1211.5 288.6L1212.1 372.4L1212.6 363L1213.9 363.2L1214.2 287.5L1214.8 372.5L1215.3 363.1L1216.7 362.8L1217 287.8L1217.6 371.7L1218.1 363.1L1219.5 363.4L1219.8 288.4L1220.4 371.9L1220.9 363.3L1222.2 362.9L1222.5 288.4L1223.1 371.3L1223.6 363.2L1225 362.9L1225.3 289.5L1225.9 371L1226.4 363.3L1227.8 362.3L1228.1 289.6L1228.7 371.4L1229.2 362.5L1230.6 362.4L1230.9 288.9L1231.5 370.5L1232 361.9L1233.4 361.9L1233.7 290.8L1234.3 370.9L1234.8 362.5L1236.2 362.2L1236.5 290.7L1237.1 370.3L1237.6 361.7L1239.1 361.9L1239.4 290.9L1240 370.8L1240.5 361.7L1241.9 361.4L1242.2 289.9L1242.8 370.3L1243.3 361.9L1244.7 361.7L1245 291.6L1245.6 370.6L1246.1 361.6L1247.6 361.9L1247.9 290.5L1248.5 370.6L1249 361.5L1250.5 360.7L1250.8 290.7L1251.4 370.3L1251.9 360.5L1253.3 361.2L1253.6 292.3L1254.2 370.1L1254.7 360.8L1256.2 361.4L1256.5 292.4L1257.1 369.3L1257.6 361.9L1259.1 360.6L1259.4 291.9L1260 369.2L1260.5 360.3L1262 360.7L1262.3 291.1L1262.9 369L1263.4 360.2L1264.8 360.7L1265.1 292.2L1265.7 369.3L1266.2 360.9L1267.8 360.9L1268.1 293.1L1268.7 368.4L1269.2 361.1L1270.7 360.5L1271 293.4L1271.6 368.4L1272.1 360.9L1273.6 359.8L1273.9 294.6L1274.5 368.1L1275 359.9L1276.5 360L1276.8 293.7L1277.4 367.7L1277.9 360.2L1279.4 360.2L1279.7 294.8L1280.3 368.1L1280.8 359.8L1282.4 359.7L1282.7 294.6L1283.3 367.8L1283.8 360.1L1285.3 359.7L1285.6 294.6L1286.2 368.3L1286.7 360.2L1288.3 359.3L1288.6 295.4L1289.2 367.7L1289.7 358.8L1291.2 359.4L1291.5 297.3L1292.1 367.8L1292.6 359.7L1294.2 359.5L1294.5 297L1295.1 367.8L1295.6 359.4L1297.2 358.3L1297.5 296.9L1298.1 367.2L1298.6 358.7L1300.2 358.1L1300.5 298.2L1301.1 366.8L1301.6 357.6L1303.2 358.4L1303.5 298.5L1304.1 367L1304.6 359L1306.2 358.5L1306.5 299.1L1307.1 366.4L1307.6 357.9L1309.2 358.1L1309.5 300.1L1310.1 365.8L1310.6 358L1313.4 360L1314.2 372L1315 377L1316 379L1317 379L1318.2 380.8L1319.4 382.4L1320.6 384L1321.8 385.5L1323 386.9L1324.2 388.2L1325.4 389.5L1326.6 390.7L1327.8 391.8L1329 392.9L1330.2 393.9L1331.4 394.9L1332.6 395.8L1333.8 396.6L1335 397.4L1336.2 398.2L1337.4 398.9L1338.6 399.6L1339.8 400.3L1341 400.9L1342.2 401.5" fill="none" stroke="#1cc21c" stroke-width="1.2" stroke-linejoin="round"/>
<path d="M1376.3 355.9L1379.3 348.7L1382.3 349.5L1385.3 350.3L1388.3 351L1391.4 351.1L1394.4 350.4L1397.4 349.7L1400.4 349.1L1403.4 348.9L1406.4 348.8L1409.4 348.7L1412.4 348.6L1415.5 348.4L1418.5 348.3L1421.5 348.2L1424.5 348.1L1427.5 347.9L1430.5 347.8L1433.5 347.7L1436.5 347.6L1439.5 347.5L1442.6 347.3L1445.6 347.2L1448.6 347.1L1451.6 347L1454.6 346.9L1457.6 346.8L1460.6 346.7L1463.6 346.6L1466.7 346.5L1469.7 346.4L1472.7 346.3L1475.7 346.3L1478.7 346.2L1481.7 346.1L1484.7 346L1487.7 345.9L1490.7 345.8L1493.8 345.7L1496.8 345.6L1499.8 345.5L1502.8 345.5L1505.8 345.4L1508.8 345.3L1511.8 345.1L1514.8 345L1517.8 344.8L1520.9 344.6L1523.9 344.5L1526.9 344.3L1529.9 344.2L1532.9 344L1535.9 343.8L1538.9 343.7L1541.9 343.5L1545 343.3L1548 343.2L1551 343L1554 339L1557 339L1557 348L1554 348L1551 352L1548 352.2L1545 352.4L1541.9 352.6L1538.9 352.8L1535.9 353L1532.9 353.2L1529.9 353.4L1526.9 353.6L1523.9 353.8L1520.9 354L1517.8 354.2L1514.8 354.4L1511.8 354.6L1508.8 354.8L1505.8 354.9L1502.8 355L1499.8 355.2L1496.8 355.3L1493.8 355.4L1490.7 355.6L1487.7 355.7L1484.7 355.8L1481.7 355.9L1478.7 356.1L1475.7 356.2L1472.7 356.3L1469.7 356.4L1466.7 356.6L1463.6 356.7L1460.6 356.8L1457.6 357L1454.6 357.1L1451.6 357.2L1448.6 357.3L1445.6 357.5L1442.6 357.7L1439.5 357.8L1436.5 358L1433.5 358.2L1430.5 358.3L1427.5 358.5L1424.5 358.6L1421.5 358.8L1418.5 359L1415.5 359.1L1412.4 359.3L1409.4 359.5L1406.4 359.6L1403.4 359.8L1400.4 359.9L1397.4 360.6L1394.4 361.4L1391.4 362.1L1388.3 362.6L1385.3 363L1382.3 363.3L1379.3 363.6L1376.3 371.9Z" fill="#14b814" fill-opacity="0.3"/>
<path d="M1376.3 362.3L1379.3 354.7L1382.3 355L1385.3 355.4L1388.3 355.7L1391.4 355.5L1394.4 354.8L1397.4 354.1L1400.4 353.4L1403.4 353.3L1406.4 353.1L1409.4 353L1412.4 352.9L1415.5 352.7L1418.5 352.6L1421.5 352.4L1424.5 352.3L1427.5 352.2L1430.5 352L1433.5 351.9L1436.5 351.7L1439.5 351.6L1442.6 351.5L1445.6 351.3L1448.6 351.2L1451.6 351.1L1454.6 351L1457.6 350.9L1460.6 350.8L1463.6 350.6L1466.7 350.5L1469.7 350.4L1472.7 350.3L1475.7 350.2L1478.7 350.1L1481.7 350L1484.7 349.9L1487.7 349.8L1490.7 349.7L1493.8 349.6L1496.8 349.5L1499.8 349.4L1502.8 349.3L1505.8 349.2L1508.8 349.1L1511.8 348.9L1514.8 348.8L1517.8 348.6L1520.9 348.4L1523.9 348.2L1526.9 348L1529.9 347.9L1532.9 347.7L1535.9 347.5L1538.9 347.3L1541.9 347.1L1545 347L1548 346.8L1551 346.6L1554 342.6L1557 342.6L1557 348L1554 348L1551 352L1548 352.2L1545 352.4L1541.9 352.6L1538.9 352.8L1535.9 353L1532.9 353.2L1529.9 353.4L1526.9 353.6L1523.9 353.8L1520.9 354L1517.8 354.2L1514.8 354.4L1511.8 354.6L1508.8 354.8L1505.8 354.9L1502.8 355L1499.8 355.2L1496.8 355.3L1493.8 355.4L1490.7 355.6L1487.7 355.7L1484.7 355.8L1481.7 355.9L1478.7 356.1L1475.7 356.2L1472.7 356.3L1469.7 356.4L1466.7 356.6L1463.6 356.7L1460.6 356.8L1457.6 357L1454.6 357.1L1451.6 357.2L1448.6 357.3L1445.6 357.5L1442.6 357.7L1439.5 357.8L1436.5 358L1433.5 358.2L1430.5 358.3L1427.5 358.5L1424.5 358.6L1421.5 358.8L1418.5 359L1415.5 359.1L1412.4 359.3L1409.4 359.5L1406.4 359.6L1403.4 359.8L1400.4 359.9L1397.4 360.6L1394.4 361.4L1391.4 362.1L1388.3 362.6L1385.3 363L1382.3 363.3L1379.3 363.6L1376.3 371.9Z" fill="#14b814" fill-opacity="0.5"/>
<path d="M1362.7 401.1L1376.1 401.1L1376.3 372.4L1376.6 259.8L1377.2 383.6L1377.7 372.4L1378.7 364.5L1379 276.5L1379.6 375L1380.1 364.5L1381.1 364.8L1381.4 276.5L1382 375.1L1382.5 365.3L1383.5 363.8L1383.8 277.6L1384.4 374L1384.9 363.9L1385.9 363L1386.2 278.7L1386.8 373.1L1387.3 362.8L1388.3 363.4L1388.6 279.5L1389.2 373.1L1389.7 363.2L1390.8 363.3L1391.1 280.9L1391.7 372.6L1392.2 363.2L1393.2 362.5L1393.5 282.5L1394.1 371.5L1394.6 362.1L1395.7 361.9L1396 282.2L1396.6 371.2L1397.1 361.8L1398.1 361.3L1398.4 281.7L1399 370.7L1399.5 361.7L1400.6 361.4L1400.9 282.4L1401.5 370.1L1402 361.1L1403.1 360.3L1403.4 283.9L1404 369.9L1404.5 360.3L1405.6 360.9L1405.9 283.3L1406.5 369.3L1407 361L1408 360L1408.3 284.1L1408.9 369.2L1409.4 359.6L1410.6 360.1L1410.9 284.3L1411.5 368.9L1412 359.9L1413.1 360L1413.4 284.4L1414 368.7L1414.5 360.1L1415.6 359.6L1415.9 283.8L1416.5 368.8L1417 359.6L1418.1 359.6L1418.4 285L1419 369.1L1419.5 359.3L1420.7 359.5L1421 285L1421.6 369L1422.1 359.8L1423.2 358.8L1423.5 285.1L1424.1 368.5L1424.6 359.1L1425.8 359.1L1426.1 285.9L1426.7 368L1427.2 358.6L1428.4 358.9L1428.7 286.7L1429.3 368.7L1429.8 358.6L1431 358.5L1431.3 286.8L1431.9 367.7L1432.4 358.6L1433.5 359L1433.8 285.4L1434.4 368.3L1434.9 359.4L1436.1 358.2L1436.4 287L1437 367.8L1437.5 357.9L1438.8 359.3L1439.1 287.7L1439.7 367.4L1440.2 359.1L1441.4 358.3L1441.7 286.2L1442.3 367L1442.8 357.8L1444 358.6L1444.3 286.6L1444.9 367.1L1445.4 359.1L1446.6 357.5L1446.9 288.3L1447.5 367.5L1448 357.4L1449.3 357.4L1449.6 288.3L1450.2 366.7L1450.7 357.8L1451.9 358.5L1452.2 288.4L1452.8 366.5L1453.3 359L1454.6 357.3L1454.9 288.2L1455.5 366.8L1456 356.9L1457.3 357.3L1457.6 288.7L1458.2 366.5L1458.7 357.2L1460 357.9L1460.3 287.9L1460.9 366.9L1461.4 358.2L1462.7 357.2L1463 289.4L1463.6 366L1464.1 357L1465.4 356.7L1465.7 288.4L1466.3 365.9L1466.8 356.5L1468.1 357.9L1468.4 289.1L1469 366L1469.5 358.2L1470.8 357.3L1471.1 289.8L1471.7 366.3L1472.2 357L1473.5 356.8L1473.8 289.2L1474.4 366L1474.9 356.7L1476.3 356.3L1476.6 289.8L1477.2 365.3L1477.7 356.2L1479 357.2L1479.3 289.9L1479.9 365.8L1480.4 357.5L1481.8 357.3L1482.1 289.9L1482.7 365.7L1483.2 357L1484.6 356.7L1484.9 290.7L1485.5 365.2L1486 356.8L1487.3 357.1L1487.6 290.2L1488.2 365L1488.7 357.5L1490.1 356.2L1490.4 290.5L1491 365.3L1491.5 356.4L1492.9 355.8L1493.2 291.5L1493.8 364.5L1494.3 355.5L1495.7 355.8L1496 292.3L1496.6 365L1497.1 356.2L1498.5 355.3L1498.8 291.7L1499.4 364.7L1499.9 354.9L1501.4 355.8L1501.7 291.3L1502.3 364.3L1502.8 355.4L1504.2 355.9L1504.5 291.9L1505.1 364.6L1505.6 355.5L1507 356L1507.3 292.1L1507.9 364.2L1508.4 356L1509.9 355.4L1510.2 293.1L1510.8 363.9L1511.3 355.8L1512.7 355.7L1513 292.4L1513.6 364.2L1514.1 355.2L1515.6 355L1515.9 294.4L1516.5 363.7L1517 354.7L1518.5 354.5L1518.8 294.8L1519.4 363.2L1519.9 354.2L1521.4 354.9L1521.7 294.9L1522.3 363.3L1522.8 354.8L1524.3 354.2L1524.6 294.3L1525.2 363.1L1525.7 353.8L1527.2 354.9L1527.5 295.7L1528.1 363L1528.6 355.3L1530.1 354.4L1530.4 296.8L1531 362.1L1531.5 353.9L1533 353.9L1533.3 296.4L1533.9 361.9L1534.4 353.6L1536 353.9L1536.3 297.3L1536.9 362.1L1537.4 354.2L1538.9 353.8L1539.2 299L1539.8 361.5L1540.3 353.2L1541.9 353L1542.2 299.1L1542.8 361.3L1543.3 353.3L1544.8 353.7L1545.1 301.2L1545.7 361.2L1546.2 354L1547.8 353.1L1548.1 300.9L1548.7 361.7L1549.2 352.8L1554 348.7L1554.3 333.8L1554.9 357.4L1555.4 348.6L1557 345.5L1558.6 345.7L1560.2 345L1561.8 344.9L1563.4 344.6L1565 346.1L1566.6 344.2L1568.2 343.8L1569.8 344L1571.4 344L1573 344.1L1574.6 343.9L1576.2 343.5L1577.8 344L1579.4 343.9L1581 344.5L1582.6 343.5L1584.2 343.2L1585.8 343.5L1587.4 344.3L1589 343.9L1590.6 344.7L1592.2 344.8L1593.8 343.8L1594.3 344L1595 360L1596 372L1597.5 376L1598.5 376L1599.7 377.6L1600.9 379.1L1602.1 380.6L1603.3 381.9L1604.5 383.3L1605.7 384.5L1606.9 385.7L1608.1 386.8L1609.3 387.9L1610.5 389L1611.7 389.9L1612.9 390.9L1614.1 391.8L1615.3 392.6L1616.5 393.5L1617.7 394.2L1618.9 395L1620.1 395.7L1621.3 396.3L1622.5 397L1623.7 397.6" fill="none" stroke="#1cc21c" stroke-width="1.2" stroke-linejoin="round"/>
<path d="M1095.5 459.7L1099.1 460.9L1102.8 461.2L1106.4 461.3L1110 461.4L1113.6 461.4L1117.3 461.5L1120.9 461.6L1124.5 461.6L1128.1 461.7L1131.8 461.8L1135.4 461.8L1139 461.9L1142.6 462L1146.3 462L1149.9 462.1L1153.5 462.2L1157.2 462.4L1160.8 462.6L1164.4 462.7L1168 462.9L1171.7 463L1175.3 463.2L1178.9 463.3L1182.5 463.5L1186.2 463.6L1189.8 463.8L1193.4 463.9L1197 464.1L1200.7 464.2L1204.3 464.4L1207.9 464.5L1211.6 464.7L1215.2 464.8L1218.8 465L1222.4 465.1L1226.1 465.3L1229.7 465.4L1233.3 465.6L1236.9 465.8L1240.6 465.9L1244.2 466.1L1247.8 466.2L1251.4 466.4L1255.1 466.5L1258.7 466.6L1262.3 466.8L1266 466.9L1269.6 467.1L1273.2 467.2L1276.8 467.3L1280.5 467.5L1284.1 467.6L1287.7 467.8L1291.3 467.9L1295 468L1298.6 468.2L1302.2 468.3L1305.8 468.5L1309.5 468.6L1313.1 468.7L1313.1 524.7L1309.5 524.8L1305.8 524.9L1302.2 525L1298.6 525.1L1295 525.1L1291.3 525.2L1287.7 525.3L1284.1 525.4L1280.5 525.5L1276.8 525.6L1273.2 525.7L1269.6 525.8L1266 525.9L1262.3 525.9L1258.7 526.1L1255.1 526.2L1251.4 526.4L1247.8 526.6L1244.2 526.8L1240.6 527L1236.9 527.2L1233.3 527.3L1229.7 527.5L1226.1 527.7L1222.4 527.9L1218.8 528.1L1215.2 528.2L1211.6 528.4L1207.9 528.6L1204.3 528.8L1200.7 529L1197 529.3L1193.4 529.6L1189.8 529.9L1186.2 530.2L1182.5 530.5L1178.9 530.8L1175.3 531.1L1171.7 531.4L1168 531.7L1164.4 532.1L1160.8 532.4L1157.2 532.7L1153.5 533L1149.9 533.3L1146.3 533.6L1142.6 533.9L1139 534.2L1135.4 534.5L1131.8 534.8L1128.1 535.5L1124.5 536.4L1120.9 537.3L1117.3 538.2L1113.6 539.1L1110 540L1106.4 540.9L1102.8 541.8L1099.1 544.1L1095.5 553Z" fill="#22bd22" fill-opacity="0.4"/>
<path d="M1095 520L1098.6 511.2L1102.3 510.3L1105.9 511.4L1109.6 512L1113.2 511.3L1116.8 510.6L1120.5 509.8L1124.1 509L1127.8 508.3L1131.4 507.7L1135 507.5L1138.7 507.4L1142.3 507.2L1146 507L1149.6 506.9L1153.2 506.7L1156.9 506.5L1160.5 506.3L1164.2 506.2L1167.8 506L1171.4 505.8L1175.1 505.6L1178.7 505.5L1182.4 505.3L1186 505.1L1189.6 504.9L1193.3 504.8L1196.9 504.6L1200.6 504.4L1204.2 504.3L1207.8 504.2L1211.5 504L1215.1 503.9L1218.8 503.8L1222.4 503.6L1226 503.5L1229.7 503.4L1233.3 503.2L1237 503.1L1240.6 503L1244.2 502.8L1247.9 502.7L1251.5 502.6L1255.2 502.5L1258.8 502.3L1262.4 502.2L1266.1 502.2L1269.7 502.2L1273.4 502.1L1277 502.1L1280.6 502.1L1284.3 502L1287.9 502L1291.6 501.9L1295.2 501.9L1298.8 501.9L1302.5 501.8L1306.1 501.8L1309.8 501.7L1313.4 501.7L1313.4 519.7L1309.8 519.8L1306.1 519.8L1302.5 519.9L1298.8 520L1295.2 520.1L1291.6 520.1L1287.9 520.2L1284.3 520.3L1280.6 520.3L1277 520.4L1273.4 520.5L1269.7 520.6L1266.1 520.6L1262.4 520.7L1258.8 520.8L1255.2 521L1251.5 521.1L1247.9 521.3L1244.2 521.5L1240.6 521.6L1237 521.8L1233.3 522L1229.7 522.1L1226 522.3L1222.4 522.4L1218.8 522.6L1215.1 522.8L1211.5 522.9L1207.8 523.1L1204.2 523.3L1200.6 523.4L1196.9 523.7L1193.3 524L1189.6 524.3L1186 524.6L1182.4 524.9L1178.7 525.2L1175.1 525.5L1171.4 525.8L1167.8 526.1L1164.2 526.4L1160.5 526.7L1156.9 526.9L1153.2 527.2L1149.6 527.5L1146 527.8L1142.3 528.1L1138.7 528.4L1135 528.7L1131.4 529L1127.8 529.7L1124.1 530.6L1120.5 531.5L1116.8 532.3L1113.2 533.2L1109.6 534.1L1105.9 535L1102.3 535.4L1098.6 537.8L1095 548Z" fill="#08c008" fill-opacity="0.3"/>
<path d="M1095 527L1098.6 517.9L1102.3 516.6L1105.9 517.3L1109.6 517.5L1113.2 516.8L1116.8 516L1120.5 515.2L1124.1 514.4L1127.8 513.6L1131.4 513L1135 512.8L1138.7 512.6L1142.3 512.4L1146 512.2L1149.6 512L1153.2 511.8L1156.9 511.6L1160.5 511.4L1164.2 511.2L1167.8 511L1171.4 510.8L1175.1 510.6L1178.7 510.4L1182.4 510.2L1186 510L1189.6 509.8L1193.3 509.6L1196.9 509.4L1200.6 509.2L1204.2 509L1207.8 508.9L1211.5 508.8L1215.1 508.6L1218.8 508.5L1222.4 508.3L1226 508.2L1229.7 508.1L1233.3 507.9L1237 507.8L1240.6 507.6L1244.2 507.5L1247.9 507.4L1251.5 507.2L1255.2 507.1L1258.8 506.9L1262.4 506.9L1266.1 506.8L1269.7 506.8L1273.4 506.7L1277 506.7L1280.6 506.6L1284.3 506.6L1287.9 506.5L1291.6 506.5L1295.2 506.4L1298.8 506.4L1302.5 506.3L1306.1 506.3L1309.8 506.2L1313.4 506.2L1313.4 519.7L1309.8 519.8L1306.1 519.8L1302.5 519.9L1298.8 520L1295.2 520.1L1291.6 520.1L1287.9 520.2L1284.3 520.3L1280.6 520.3L1277 520.4L1273.4 520.5L1269.7 520.6L1266.1 520.6L1262.4 520.7L1258.8 520.8L1255.2 521L1251.5 521.1L1247.9 521.3L1244.2 521.5L1240.6 521.6L1237 521.8L1233.3 522L1229.7 522.1L1226 522.3L1222.4 522.4L1218.8 522.6L1215.1 522.8L1211.5 522.9L1207.8 523.1L1204.2 523.3L1200.6 523.4L1196.9 523.7L1193.3 524L1189.6 524.3L1186 524.6L1182.4 524.9L1178.7 525.2L1175.1 525.5L1171.4 525.8L1167.8 526.1L1164.2 526.4L1160.5 526.7L1156.9 526.9L1153.2 527.2L1149.6 527.5L1146 527.8L1142.3 528.1L1138.7 528.4L1135 528.7L1131.4 529L1127.8 529.7L1124.1 530.6L1120.5 531.5L1116.8 532.3L1113.2 533.2L1109.6 534.1L1105.9 535L1102.3 535.4L1098.6 537.8L1095 548Z" fill="#08c008" fill-opacity="0.4"/>
<path d="M1095 534L1098.6 524.5L1102.3 522.8L1105.9 523.2L1109.6 523L1113.2 522.3L1116.8 521.5L1120.5 520.6L1124.1 519.8L1127.8 519L1131.4 518.4L1135 518.1L1138.7 517.9L1142.3 517.7L1146 517.4L1149.6 517.2L1153.2 517L1156.9 516.7L1160.5 516.5L1164.2 516.3L1167.8 516L1171.4 515.8L1175.1 515.6L1178.7 515.3L1182.4 515.1L1186 514.9L1189.6 514.6L1193.3 514.4L1196.9 514.2L1200.6 513.9L1204.2 513.8L1207.8 513.6L1211.5 513.5L1215.1 513.3L1218.8 513.2L1222.4 513L1226 512.9L1229.7 512.7L1233.3 512.6L1237 512.4L1240.6 512.3L1244.2 512.2L1247.9 512L1251.5 511.9L1255.2 511.7L1258.8 511.6L1262.4 511.5L1266.1 511.4L1269.7 511.4L1273.4 511.3L1277 511.3L1280.6 511.2L1284.3 511.1L1287.9 511.1L1291.6 511L1295.2 511L1298.8 510.9L1302.5 510.9L1306.1 510.8L1309.8 510.7L1313.4 510.7L1313.4 519.7L1309.8 519.8L1306.1 519.8L1302.5 519.9L1298.8 520L1295.2 520.1L1291.6 520.1L1287.9 520.2L1284.3 520.3L1280.6 520.3L1277 520.4L1273.4 520.5L1269.7 520.6L1266.1 520.6L1262.4 520.7L1258.8 520.8L1255.2 521L1251.5 521.1L1247.9 521.3L1244.2 521.5L1240.6 521.6L1237 521.8L1233.3 522L1229.7 522.1L1226 522.3L1222.4 522.4L1218.8 522.6L1215.1 522.8L1211.5 522.9L1207.8 523.1L1204.2 523.3L1200.6 523.4L1196.9 523.7L1193.3 524L1189.6 524.3L1186 524.6L1182.4 524.9L1178.7 525.2L1175.1 525.5L1171.4 525.8L1167.8 526.1L1164.2 526.4L1160.5 526.7L1156.9 526.9L1153.2 527.2L1149.6 527.5L1146 527.8L1142.3 528.1L1138.7 528.4L1135 528.7L1131.4 529L1127.8 529.7L1124.1 530.6L1120.5 531.5L1116.8 532.3L1113.2 533.2L1109.6 534.1L1105.9 535L1102.3 535.4L1098.6 537.8L1095 548Z" fill="#08c008" fill-opacity="0.6"/>
<path d="M1081.5 592.2L1088 591.3L1094.9 590L1095 548.2L1095.2 457.7L1095.5 556.3L1095.9 548.2L1096.7 541.2L1096.9 457.3L1097.2 548.7L1097.5 541.1L1098.3 538.9L1098.5 458.9L1098.9 545.7L1099.2 539L1100 535.7L1100.2 458.7L1100.5 542.6L1100.9 535.2L1101.6 535.4L1101.8 459L1102.2 542.5L1102.5 534.9L1103.3 535.5L1103.5 459.5L1103.8 541.8L1104.2 535.5L1104.9 535.5L1105.1 458.6L1105.5 541.1L1105.8 535.8L1106.6 535.2L1106.8 458.7L1107.2 541L1107.5 535.4L1108.3 535L1108.5 458.4L1108.8 540.4L1109.2 535.2L1109.9 534.3L1110.1 459.1L1110.5 539.6L1110.8 534.1L1111.6 534L1111.8 460L1112.2 539.4L1112.5 534.4L1113.3 534.1L1113.5 458.7L1113.9 539.4L1114.2 534.6L1115 533.4L1115.2 458.5L1115.5 539L1115.9 533L1116.7 532.9L1116.9 459.3L1117.2 538.3L1117.6 532.5L1118.4 532L1118.6 459.6L1118.9 537.7L1119.3 531.9L1120 531.6L1120.2 459.4L1120.6 537.2L1120.9 531.4L1121.7 531.7L1121.9 459.9L1122.3 537.4L1122.6 532L1123.4 531.5L1123.6 459.2L1124 536.3L1124.3 531.5L1125.1 530.8L1125.3 460.4L1125.7 535.9L1126 531.1L1126.8 530.3L1127 459.2L1127.4 535.4L1127.7 530.2L1128.5 530.2L1128.7 460.6L1129.1 535.8L1129.4 530.3L1130.2 529.6L1130.4 459.6L1130.8 534.5L1131.1 530.1L1131.9 529.2L1132.1 459.4L1132.5 534.9L1132.8 528.7L1133.7 529.4L1133.9 460.7L1134.2 534.3L1134.6 529.7L1135.4 529.4L1135.6 458.9L1135.9 534.4L1136.3 529.4L1137.1 529.2L1137.3 458.9L1137.6 534L1138 528.7L1138.8 528.8L1139 459.1L1139.4 533.9L1139.7 528.4L1140.5 528.9L1140.7 460.6L1141.1 534L1141.4 528.6L1142.2 528.3L1142.4 460.6L1142.8 533.5L1143.1 527.9L1144 528.3L1144.2 460.9L1144.5 533.7L1144.9 528.8L1145.7 528.1L1145.9 459.2L1146.3 533.2L1146.6 528.2L1147.4 528.1L1147.6 460.5L1148 533.3L1148.3 527.8L1149.2 527.9L1149.4 460L1149.7 533.1L1150.1 527.7L1150.9 528.2L1151.1 459.7L1151.5 533.3L1151.8 528.6L1152.7 528L1152.9 460.2L1153.2 532.8L1153.6 528L1154.4 527.7L1154.6 460.3L1155 533.1L1155.3 527.6L1156.1 527L1156.3 461.1L1156.7 532.5L1157 527.5L1157.9 527.6L1158.1 461.4L1158.4 533.1L1158.8 527.9L1159.6 526.7L1159.8 460.7L1160.2 532.2L1160.5 526.9L1161.4 527.4L1161.6 461.2L1162 532.4L1162.3 527.8L1163.2 526.8L1163.4 460L1163.7 531.9L1164.1 526.4L1164.9 527.1L1165.1 460.7L1165.5 532.2L1165.8 527.3L1166.7 526.5L1166.9 460L1167.2 531.8L1167.6 526.7L1168.5 526L1168.7 460L1169 531.4L1169.4 525.9L1170.2 526.1L1170.4 460.8L1170.8 531.4L1171.1 526.4L1172 526.1L1172.2 461.3L1172.5 531.3L1172.9 526.1L1173.8 525.6L1174 460.5L1174.3 531.7L1174.7 525.9L1175.5 525.6L1175.7 462.2L1176.1 531.1L1176.4 525.3L1177.3 525.3L1177.5 461.7L1177.9 531.2L1178.2 525.7L1179.1 525.3L1179.3 462.1L1179.7 530.6L1180 525.3L1180.9 525.2L1181.1 461L1181.4 530.5L1181.8 525.6L1182.7 525.6L1182.9 462.2L1183.2 530.7L1183.6 525.2L1184.5 525.2L1184.7 461.7L1185 530L1185.4 524.8L1186.3 525.2L1186.5 460.9L1186.8 530.4L1187.2 525.7L1188.1 525L1188.3 461.4L1188.6 530.4L1189 524.8L1189.9 524.7L1190.1 461.6L1190.4 529.4L1190.8 524.6L1191.7 524.7L1191.9 460.9L1192.2 530.1L1192.6 524.1L1193.5 524.6L1193.7 462.8L1194 529.3L1194.4 524L1195.3 524.2L1195.5 461.2L1195.8 529.6L1196.2 524.2L1197.1 523.7L1197.3 461.6L1197.6 529L1198 523.6L1198.9 524.3L1199.1 463.1L1199.5 529.5L1199.8 524.7L1200.7 523.6L1200.9 461.3L1201.3 529.2L1201.6 523.8L1202.5 524.1L1202.7 462.4L1203.1 529.2L1203.4 524.1L1204.4 523.9L1204.6 461.9L1204.9 528.7L1205.3 524.2L1206.2 523.5L1206.4 462.6L1206.7 529L1207.1 523.6L1208 523.5L1208.2 463.4L1208.6 528.9L1208.9 523.3L1209.8 523.7L1210 463.5L1210.4 528.4L1210.7 523.5L1211.7 523.2L1211.9 463.1L1212.2 528.8L1212.6 523.4L1213.5 523.3L1213.7 463.6L1214.1 528.6L1214.4 523.3L1215.4 523.5L1215.6 463.4L1215.9 528L1216.3 523.6L1217.2 522.9L1217.4 463.5L1217.7 527.9L1218.1 523.4L1219 523L1219.2 462.3L1219.6 527.7L1219.9 522.8L1220.9 523L1221.1 464L1221.4 528.5L1221.8 523.4L1222.7 522.5L1222.9 463.4L1223.3 527.5L1223.6 522.1L1224.6 523.1L1224.8 462.4L1225.1 527.7L1225.5 523.1L1226.4 522.8L1226.6 463.1L1227 528.1L1227.3 523.2L1228.3 522.8L1228.5 463.9L1228.9 527.7L1229.2 522.6L1230.2 522.4L1230.4 463.4L1230.7 527.4L1231.1 522.4L1232 522L1232.2 463.2L1232.6 527.5L1232.9 521.7L1233.9 522.6L1234.1 463.3L1234.4 526.8L1234.8 522.1L1235.8 522.1L1236 463.5L1236.3 527.5L1236.7 522.7L1237.6 522.1L1237.8 464.5L1238.2 527.2L1238.5 521.5L1239.5 522L1239.7 463.6L1240.1 526.8L1240.4 521.4L1241.4 522L1241.6 464L1241.9 526.8L1242.3 521.9L1243.3 521.7L1243.5 463.2L1243.8 527.1L1244.2 521.8L1245.2 521.5L1245.4 463.3L1245.7 526.8L1246.1 522.1L1247 521.4L1247.2 464.7L1247.6 526.2L1247.9 521.6L1248.9 521.4L1249.1 463.8L1249.5 527L1249.8 521.9L1250.8 521.7L1251 463.8L1251.4 526.5L1251.7 521.4L1252.7 521.6L1252.9 464.9L1253.3 526.5L1253.6 521.7L1254.6 521.1L1254.8 465.3L1255.2 526.3L1255.5 521.1L1256.5 521.3L1256.7 465.5L1257.1 525.7L1257.4 521.4L1258.4 521.1L1258.6 465.1L1259 526.5L1259.3 521.1L1260.3 521L1260.5 465L1260.9 526L1261.2 521.5L1262.2 520.8L1262.4 463.8L1262.8 525.8L1263.1 520.3L1264.1 520.9L1264.3 465.4L1264.7 525.4L1265 521.3L1266 521.2L1266.2 464.4L1266.6 525.7L1266.9 521.5L1268 521.1L1268.2 465.1L1268.5 525.9L1268.9 521.2L1269.9 520.6L1270.1 466L1270.4 526L1270.8 520.3L1271.8 521L1272 465.2L1272.4 525.6L1272.7 521.4L1273.7 520.7L1273.9 464.6L1274.3 525.7L1274.6 521.2L1275.7 520.8L1275.9 464.3L1276.2 525.4L1276.6 521.3L1277.6 520.9L1277.8 464.7L1278.1 525.9L1278.5 521L1279.5 520.8L1279.7 466.3L1280.1 525.1L1280.4 520.4L1281.5 520.5L1281.7 464.8L1282 525.3L1282.4 520.6L1283.4 520.7L1283.6 464.8L1283.9 525.7L1284.3 520.3L1285.3 520.9L1285.5 466.3L1285.9 525.7L1286.2 521.4L1287.3 520.9L1287.5 466.4L1287.8 525.1L1288.2 521.4L1289.2 520.3L1289.4 466.5L1289.8 524.9L1290.1 520.7L1291.2 520.1L1291.4 466.2L1291.7 525.6L1292.1 519.9L1293.1 520.7L1293.3 466.6L1293.7 525.6L1294 520.9L1295.1 520.4L1295.3 466.4L1295.6 525.5L1296 520.1L1297 520.7L1297.2 465.6L1297.6 525.1L1297.9 521.1L1299 520.2L1299.2 467L1299.5 524.8L1299.9 520.4L1301 520.1L1301.2 465.5L1301.5 525.3L1301.9 519.9L1302.9 520.1L1303.1 465.5L1303.5 524.7L1303.8 520L1304.9 520.5L1305.1 467.1L1305.4 524.6L1305.8 520.3L1306.9 520.5L1307.1 467.3L1307.4 524.5L1307.8 520.8L1308.8 520.5L1309 465.8L1309.4 525L1309.7 520.2L1310.8 520.2L1311 467L1311.4 525.1L1311.7 520.2L1313.6 520L1314.2 530L1315 541.6L1315.8 551L1316.6 558.6L1317.4 564.7L1318.2 569.7L1319 573.8L1319.8 577L1320.6 579.7L1321.4 581.8L1322.2 583.6L1323 585L1323.8 586.1L1324.6 587L1325.4 587.8L1326.2 588.4L1327 588.9L1327.8 589.3L1328.6 589.6L1329.4 589.9L1330.2 590.1L1331 590.3L1331.8 590.4L1332.6 590.5L1333.4 590.6L1334.2 590.7L1335 590.7L1335.8 590.8L1336.6 590.8L1337.4 590.9L1338.2 590.9L1339 590.9L1339.8 590.9L1340.6 590.9L1341.4 591L1342.2 591L1343 591" fill="none" stroke="#22bd22" stroke-width="0.8" stroke-linejoin="round"/>
<path d="M1081.5 592.2L1088 591.3L1094.9 590L1095 556L1095.2 457.7" fill="none" stroke="#22bd22" stroke-width="1.2" stroke-linejoin="round"/>
<path d="M1313.6 520L1314.2 530L1315 541.6L1315.8 551L1316.6 558.6L1317.4 564.7L1318.2 569.7L1319 573.8L1319.8 577L1320.6 579.7L1321.4 581.8L1322.2 583.6L1323 585L1323.8 586.1L1324.6 587L1325.4 587.8L1326.2 588.4L1327 588.9L1327.8 589.3L1328.6 589.6L1329.4 589.9L1330.2 590.1L1331 590.3L1331.8 590.4L1332.6 590.5L1333.4 590.6L1334.2 590.7L1335 590.7L1335.8 590.8L1336.6 590.8L1337.4 590.9L1338.2 590.9L1339 590.9L1339.8 590.9L1340.6 590.9L1341.4 591L1342.2 591L1343 591" fill="none" stroke="#22bd22" stroke-width="1.2" stroke-linejoin="round"/>
<path d="M1376.8 462.7L1379.8 462.7L1382.9 462.8L1385.9 462.8L1389 462.9L1392 463L1395.1 463L1398.1 463.1L1401.2 463.2L1404.2 463.2L1407.3 463.3L1410.3 463.3L1413.4 463.4L1416.4 463.5L1419.5 463.5L1422.5 463.6L1425.6 463.7L1428.6 463.7L1431.7 463.8L1434.7 463.9L1437.8 463.9L1440.8 464L1443.9 464.1L1446.9 464.1L1450 464.2L1453 464.3L1456.1 464.4L1459.1 464.5L1462.2 464.6L1465.2 464.7L1468.2 464.7L1471.3 464.8L1474.3 464.9L1477.4 465L1480.4 465.1L1483.5 465.2L1486.5 465.3L1489.6 465.4L1492.6 465.5L1495.7 465.6L1498.7 465.7L1501.8 465.7L1504.8 465.8L1507.9 465.9L1510.9 466L1514 466L1517 466.1L1520.1 466.2L1523.1 466.3L1526.2 466.4L1529.2 466.4L1532.3 466.5L1535.3 466.6L1538.4 466.7L1541.4 466.7L1544.5 466.8L1547.5 466.9L1550.6 467L1553.6 467L1556.7 467.1L1559.7 467.2L1559.7 522.6L1556.7 528.6L1553.6 528.5L1550.6 528.4L1547.5 528.4L1544.5 528.3L1541.4 528.3L1538.4 528.2L1535.3 528.2L1532.3 528.1L1529.2 528.1L1526.2 528L1523.1 527.9L1520.1 527.9L1517 527.8L1514 527.8L1510.9 527.7L1507.9 527.8L1504.8 528L1501.8 528.1L1498.7 528.3L1495.7 528.4L1492.6 528.6L1489.6 528.7L1486.5 528.9L1483.5 529L1480.4 529.2L1477.4 529.3L1474.3 529.5L1471.3 529.6L1468.2 529.8L1465.2 529.9L1462.2 530.1L1459.1 530.2L1456.1 530.4L1453 530.5L1450 530.7L1446.9 531L1443.9 531.4L1440.8 531.7L1437.8 532L1434.7 532.3L1431.7 532.7L1428.6 533L1425.6 533.3L1422.5 533.7L1419.5 534L1416.4 534.3L1413.4 534.6L1410.3 535L1407.3 535.7L1404.2 536.4L1401.2 537.1L1398.1 537.8L1395.1 538.6L1392 539.3L1389 540L1385.9 540.8L1382.9 543.4L1379.8 546.8L1376.8 551.5Z" fill="#22bd22" fill-opacity="0.4"/>
<path d="M1376.3 519.3L1379.4 513.1L1382.4 511.5L1385.5 510.2L1388.5 511.3L1391.6 511.5L1394.7 510.9L1397.7 510.4L1400.8 509.8L1403.9 509.2L1406.9 508.7L1410 508.1L1413 508L1416.1 507.8L1419.2 507.6L1422.2 507.5L1425.3 507.3L1428.3 507.2L1431.4 507L1434.5 506.9L1437.5 506.7L1440.6 506.5L1443.7 506.4L1446.7 506.2L1449.8 506.1L1452.8 506L1455.9 505.8L1459 505.7L1462 505.6L1465.1 505.5L1468.2 505.4L1471.2 505.3L1474.3 505.2L1477.3 505.1L1480.4 505L1483.5 504.9L1486.5 504.8L1489.6 504.7L1492.6 504.6L1495.7 504.5L1498.8 504.4L1501.8 504.2L1504.9 504.1L1508 504L1511 504L1514.1 504.1L1517.1 504.2L1520.2 504.3L1523.3 504.4L1526.3 504.5L1529.4 504.6L1532.4 504.7L1535.5 504.8L1538.6 504.9L1541.6 505L1544.7 505.1L1547.8 505.2L1550.8 505.3L1553.9 505.4L1556.9 505.5L1560 497L1560 515L1556.9 523.5L1553.9 523.5L1550.8 523.4L1547.8 523.3L1544.7 523.3L1541.6 523.2L1538.6 523.1L1535.5 523L1532.4 523L1529.4 522.9L1526.3 522.8L1523.3 522.7L1520.2 522.7L1517.1 522.6L1514.1 522.5L1511 522.4L1508 522.5L1504.9 522.6L1501.8 522.8L1498.8 522.9L1495.7 523L1492.6 523.2L1489.6 523.3L1486.5 523.4L1483.5 523.6L1480.4 523.7L1477.3 523.9L1474.3 524L1471.2 524.1L1468.2 524.3L1465.1 524.4L1462 524.5L1459 524.7L1455.9 524.8L1452.8 524.9L1449.8 525.1L1446.7 525.4L1443.7 525.7L1440.6 526L1437.5 526.3L1434.5 526.6L1431.4 526.9L1428.3 527.3L1425.3 527.6L1422.2 527.9L1419.2 528.2L1416.1 528.5L1413 528.8L1410 529.1L1406.9 529.8L1403.9 530.6L1400.8 531.3L1397.7 532L1394.7 532.7L1391.6 533.4L1388.5 533.9L1385.5 534.2L1382.4 536.8L1379.4 539.8L1376.3 547.3Z" fill="#08c008" fill-opacity="0.3"/>
<path d="M1376.3 526.3L1379.4 519.8L1382.4 517.8L1385.5 516.2L1388.5 517L1391.6 517L1394.7 516.4L1397.7 515.8L1400.8 515.2L1403.9 514.6L1406.9 514L1410 513.4L1413 513.2L1416.1 513L1419.2 512.8L1422.2 512.6L1425.3 512.4L1428.3 512.2L1431.4 512L1434.5 511.8L1437.5 511.6L1440.6 511.4L1443.7 511.2L1446.7 511L1449.8 510.8L1452.8 510.7L1455.9 510.6L1459 510.5L1462 510.4L1465.1 510.2L1468.2 510.1L1471.2 510L1474.3 509.9L1477.3 509.8L1480.4 509.7L1483.5 509.6L1486.5 509.4L1489.6 509.3L1492.6 509.2L1495.7 509.1L1498.8 509L1501.8 508.9L1504.9 508.8L1508 508.6L1511 508.6L1514.1 508.7L1517.1 508.8L1520.2 508.9L1523.3 509L1526.3 509.1L1529.4 509.2L1532.4 509.3L1535.5 509.4L1538.6 509.5L1541.6 509.6L1544.7 509.7L1547.8 509.7L1550.8 509.8L1553.9 509.9L1556.9 510L1560 501.5L1560 515L1556.9 523.5L1553.9 523.5L1550.8 523.4L1547.8 523.3L1544.7 523.3L1541.6 523.2L1538.6 523.1L1535.5 523L1532.4 523L1529.4 522.9L1526.3 522.8L1523.3 522.7L1520.2 522.7L1517.1 522.6L1514.1 522.5L1511 522.4L1508 522.5L1504.9 522.6L1501.8 522.8L1498.8 522.9L1495.7 523L1492.6 523.2L1489.6 523.3L1486.5 523.4L1483.5 523.6L1480.4 523.7L1477.3 523.9L1474.3 524L1471.2 524.1L1468.2 524.3L1465.1 524.4L1462 524.5L1459 524.7L1455.9 524.8L1452.8 524.9L1449.8 525.1L1446.7 525.4L1443.7 525.7L1440.6 526L1437.5 526.3L1434.5 526.6L1431.4 526.9L1428.3 527.3L1425.3 527.6L1422.2 527.9L1419.2 528.2L1416.1 528.5L1413 528.8L1410 529.1L1406.9 529.8L1403.9 530.6L1400.8 531.3L1397.7 532L1394.7 532.7L1391.6 533.4L1388.5 533.9L1385.5 534.2L1382.4 536.8L1379.4 539.8L1376.3 547.3Z" fill="#08c008" fill-opacity="0.4"/>
<path d="M1376.3 533.3L1379.4 526.5L1382.4 524.1L1385.5 522.2L1388.5 522.6L1391.6 522.5L1394.7 521.8L1397.7 521.2L1400.8 520.5L1403.9 519.9L1406.9 519.3L1410 518.6L1413 518.4L1416.1 518.2L1419.2 517.9L1422.2 517.7L1425.3 517.4L1428.3 517.2L1431.4 517L1434.5 516.7L1437.5 516.5L1440.6 516.3L1443.7 516L1446.7 515.8L1449.8 515.6L1452.8 515.4L1455.9 515.3L1459 515.2L1462 515.1L1465.1 515L1468.2 514.8L1471.2 514.7L1474.3 514.6L1477.3 514.5L1480.4 514.4L1483.5 514.2L1486.5 514.1L1489.6 514L1492.6 513.9L1495.7 513.7L1498.8 513.6L1501.8 513.5L1504.9 513.4L1508 513.3L1511 513.2L1514.1 513.3L1517.1 513.4L1520.2 513.5L1523.3 513.6L1526.3 513.7L1529.4 513.7L1532.4 513.8L1535.5 513.9L1538.6 514L1541.6 514.1L1544.7 514.2L1547.8 514.3L1550.8 514.4L1553.9 514.5L1556.9 514.5L1560 506L1560 515L1556.9 523.5L1553.9 523.5L1550.8 523.4L1547.8 523.3L1544.7 523.3L1541.6 523.2L1538.6 523.1L1535.5 523L1532.4 523L1529.4 522.9L1526.3 522.8L1523.3 522.7L1520.2 522.7L1517.1 522.6L1514.1 522.5L1511 522.4L1508 522.5L1504.9 522.6L1501.8 522.8L1498.8 522.9L1495.7 523L1492.6 523.2L1489.6 523.3L1486.5 523.4L1483.5 523.6L1480.4 523.7L1477.3 523.9L1474.3 524L1471.2 524.1L1468.2 524.3L1465.1 524.4L1462 524.5L1459 524.7L1455.9 524.8L1452.8 524.9L1449.8 525.1L1446.7 525.4L1443.7 525.7L1440.6 526L1437.5 526.3L1434.5 526.6L1431.4 526.9L1428.3 527.3L1425.3 527.6L1422.2 527.9L1419.2 528.2L1416.1 528.5L1413 528.8L1410 529.1L1406.9 529.8L1403.9 530.6L1400.8 531.3L1397.7 532L1394.7 532.7L1391.6 533.4L1388.5 533.9L1385.5 534.2L1382.4 536.8L1379.4 539.8L1376.3 547.3Z" fill="#08c008" fill-opacity="0.6"/>
<path d="M1362.7 594L1370 593L1376.1 592.3L1376.3 548.1L1376.5 459.2L1376.8 555.1L1377.2 548.5L1378 541.7L1378.2 461.1L1378.5 549.2L1378.9 542L1379.6 540.3L1379.8 460L1380.2 546.9L1380.5 540L1381.3 538.6L1381.5 461.2L1381.9 544.9L1382.2 538.3L1383 536.8L1383.2 461.5L1383.5 543.4L1383.9 536.7L1384.7 535.2L1384.9 461.6L1385.2 541.8L1385.6 535.3L1386.3 534.8L1386.5 461.6L1386.9 540.4L1387.2 534.4L1388 534.8L1388.2 460.9L1388.6 540.5L1388.9 534.7L1389.7 534.4L1389.9 461.9L1390.3 539.8L1390.6 534.8L1391.4 534.2L1391.6 461.7L1392 539.3L1392.3 534.4L1393.1 533.4L1393.3 461.5L1393.7 539.5L1394 533.2L1394.8 533.2L1395 461L1395.4 538.4L1395.7 533.1L1396.5 532.3L1396.7 461.9L1397.1 538.6L1397.4 532.3L1398.2 531.9L1398.4 462L1398.8 537.5L1399.1 532.1L1399.9 531.5L1400.1 461.9L1400.5 537.3L1400.8 530.9L1401.6 531.7L1401.8 461.9L1402.2 537.3L1402.5 532.1L1403.4 531.2L1403.6 460.6L1403.9 536.8L1404.3 531.1L1405.1 530.5L1405.3 460.6L1405.6 536.5L1406 530L1406.8 530.4L1407 462.2L1407.3 535.5L1407.7 530.3L1408.5 529.5L1408.7 461.5L1409.1 535.7L1409.4 529.7L1410.2 529.9L1410.4 461.1L1410.8 534.6L1411.1 529.9L1412 528.9L1412.2 461.6L1412.5 534.7L1412.9 528.8L1413.7 529.5L1413.9 461.1L1414.3 534.5L1414.6 530L1415.5 529.1L1415.7 461.6L1416 534.5L1416.4 528.8L1417.2 528.9L1417.4 461.1L1417.7 534.2L1418.1 529.4L1418.9 529L1419.1 461.7L1419.5 533.7L1419.8 528.6L1420.7 528.1L1420.9 461.3L1421.2 534.1L1421.6 527.8L1422.4 528.3L1422.6 462.2L1423 533.6L1423.3 528.3L1424.2 527.9L1424.4 460.7L1424.8 533L1425.1 528.2L1426 527.7L1426.2 461.4L1426.5 533.7L1426.9 527.4L1427.7 527.6L1427.9 460.9L1428.3 533.1L1428.6 527.3L1429.5 528L1429.7 460.8L1430 532.9L1430.4 528.3L1431.3 527.4L1431.5 462L1431.8 532.5L1432.2 527.1L1433 526.9L1433.2 461.2L1433.6 532.2L1433.9 526.9L1434.8 526.8L1435 462.3L1435.4 532.2L1435.7 526.9L1436.6 526.8L1436.8 462.2L1437.1 532L1437.5 526.4L1438.4 526.6L1438.6 462.9L1438.9 532.1L1439.3 526.8L1440.2 526.7L1440.4 461.2L1440.7 531.6L1441.1 527.1L1442 526L1442.2 461.1L1442.5 531.5L1442.9 526.3L1443.7 526.3L1443.9 462.5L1444.3 531.2L1444.6 526.6L1445.5 526.1L1445.7 461.7L1446.1 531.4L1446.4 526.4L1447.3 525.3L1447.5 462.3L1447.9 531.3L1448.2 525.2L1449.1 525.2L1449.3 463.2L1449.7 530.3L1450 524.7L1451 525.2L1451.2 462.3L1451.5 530.5L1451.9 525L1452.8 525.3L1453 461.7L1453.3 530.8L1453.7 525.6L1454.6 525L1454.8 462.3L1455.1 530L1455.5 524.7L1456.4 525.3L1456.6 462.3L1456.9 529.9L1457.3 525.5L1458.2 525.2L1458.4 463L1458.8 530.4L1459.1 525.5L1460 525L1460.2 462.8L1460.6 529.9L1460.9 525.1L1461.9 525.1L1462.1 463L1462.4 529.8L1462.8 524.9L1463.7 524.7L1463.9 461.8L1464.2 529.9L1464.6 524.8L1465.5 525.1L1465.7 462L1466.1 530.2L1466.4 525.4L1467.4 524.9L1467.6 462L1467.9 529.4L1468.3 524.9L1469.2 524.3L1469.4 462.3L1469.8 530.1L1470.1 524L1471 524.5L1471.2 463.3L1471.6 529.8L1471.9 524.2L1472.9 524.9L1473.1 463.8L1473.4 530L1473.8 524.7L1474.7 524.4L1474.9 462.6L1475.3 529.2L1475.6 524.9L1476.6 524.5L1476.8 462L1477.2 529.7L1477.5 523.9L1478.5 524.4L1478.7 463.9L1479 529L1479.4 524L1480.3 524.3L1480.5 462.8L1480.9 528.8L1481.2 524L1482.2 524.2L1482.4 463.3L1482.7 529L1483.1 524.2L1484 524.1L1484.2 463.8L1484.6 529.2L1484.9 524.6L1485.9 523.9L1486.1 463.9L1486.5 529L1486.8 523.7L1487.8 523.7L1488 462.6L1488.3 529.2L1488.7 523.2L1489.7 524.1L1489.9 464.2L1490.2 529.1L1490.6 524.4L1491.6 523.4L1491.8 462.9L1492.1 528.7L1492.5 523.2L1493.4 523.8L1493.6 463.5L1494 528.7L1494.3 524L1495.3 523.8L1495.5 463.4L1495.9 528.9L1496.2 524L1497.2 523.7L1497.4 462.7L1497.8 528.1L1498.1 523.2L1499.1 523L1499.3 463.7L1499.7 527.9L1500 522.6L1501 523.6L1501.2 464L1501.6 528.5L1501.9 523.2L1502.9 522.8L1503.1 464.3L1503.5 528L1503.8 522.6L1504.8 523.2L1505 463.6L1505.4 528.4L1505.7 523.8L1506.7 522.9L1506.9 464.7L1507.3 527.6L1507.6 523.4L1508.6 522.7L1508.8 463.2L1509.2 528.1L1509.5 523L1510.5 522.5L1510.7 464.2L1511.1 527.3L1511.4 522L1512.5 523L1512.7 464.6L1513 528L1513.4 523.3L1514.4 523.3L1514.6 463.9L1514.9 528L1515.3 523.8L1516.3 523L1516.5 463.9L1516.9 528.1L1517.2 523.4L1518.2 523.4L1518.4 463.8L1518.8 527.9L1519.1 523.4L1520.2 522.9L1520.4 463.4L1520.7 528.2L1521.1 522.8L1522.1 522.7L1522.3 465.2L1522.7 528.4L1523 522.2L1524 523.1L1524.2 464.7L1524.6 528.2L1524.9 522.5L1526 523.1L1526.2 465.2L1526.5 527.9L1526.9 523.5L1527.9 522.9L1528.1 463.9L1528.5 527.6L1528.8 522.6L1529.9 522.9L1530.1 463.5L1530.4 527.7L1530.8 523.2L1531.8 523L1532 463.9L1532.4 527.7L1532.7 523.2L1533.8 523.4L1534 464.7L1534.3 527.8L1534.7 523.9L1535.7 523.8L1535.9 463.6L1536.3 528.1L1536.6 524.3L1537.7 523.2L1537.9 463.9L1538.3 528.7L1538.6 523.5L1539.7 523.5L1539.9 463.8L1540.2 528.4L1540.6 523.5L1541.6 523.3L1541.8 464L1542.2 528.3L1542.5 522.9L1543.6 523.8L1543.8 465.5L1544.2 528.2L1544.5 523.5L1545.6 523.6L1545.8 464.8L1546.1 528.5L1546.5 524.1L1547.6 523.3L1547.8 464.9L1548.1 528.4L1548.5 523L1549.5 523.9L1549.7 464L1550.1 528.3L1550.4 523.4L1551.5 523.5L1551.7 464.8L1552.1 528L1552.4 523.5L1553.5 523.7L1553.7 465.8L1554.1 528.7L1554.4 524L1555.5 524.1L1555.7 464.7L1556.1 528.8L1556.4 524.2L1557.5 524.2L1557.7 465.3L1558.1 528.8L1558.4 524L1560 517.8L1561.4 517.8L1562.8 517.8L1564.2 516.8L1565.6 517.4L1567 517.2L1568.4 517.3L1569.8 516.9L1571.2 516.9L1572.6 517.2L1574 517L1575.4 517.2L1576.8 516.7L1578.2 516.8L1579.6 517.6L1581 517.2L1582.4 517.3L1583.8 517.6L1585.2 517.1L1586.6 516.8L1588 517.6L1589.4 517.4L1590.8 517.5L1592.2 517.4L1593.6 517.9L1595 517.1L1596.4 517.6L1597.8 517.1L1599.2 517.4L1600.6 517.5L1602 517.1L1603.4 516.8L1604.8 517.3L1606.2 517.6L1607.6 517.4L1608.3 517.3L1608.6 540L1609.2 575L1609.8 589.3L1624.6 591.7" fill="none" stroke="#22bd22" stroke-width="0.8" stroke-linejoin="round"/>
<path d="M1362.7 594L1370 593L1376.1 592.3L1376.3 555.3L1376.5 459.2" fill="none" stroke="#22bd22" stroke-width="1.2" stroke-linejoin="round"/>
<path d="M1560 517.8L1561.4 517.8L1562.8 517.8L1564.2 516.8L1565.6 517.4L1567 517.2L1568.4 517.3L1569.8 516.9L1571.2 516.9L1572.6 517.2L1574 517L1575.4 517.2L1576.8 516.7L1578.2 516.8L1579.6 517.6L1581 517.2L1582.4 517.3L1583.8 517.6L1585.2 517.1L1586.6 516.8L1588 517.6L1589.4 517.4L1590.8 517.5L1592.2 517.4L1593.6 517.9L1595 517.1L1596.4 517.6L1597.8 517.1L1599.2 517.4L1600.6 517.5L1602 517.1L1603.4 516.8L1604.8 517.3L1606.2 517.6L1607.6 517.4L1608.3 517.3L1608.6 540L1609.2 575L1609.8 589.3L1624.6 591.7" fill="none" stroke="#22bd22" stroke-width="1.2" stroke-linejoin="round"/>
<circle cx="1766.1" cy="112" r="2.1" fill="#b4b4b4"/>
<circle cx="1749.7" cy="119.7" r="2.1" fill="#b4b4b4"/>
<circle cx="1757.9" cy="128.7" r="2.1" fill="#b4b4b4"/>
<circle cx="1757.9" cy="149.8" r="2.1" fill="#b4b4b4"/>
<circle cx="1731.2" cy="154.2" r="2.1" fill="#b4b4b4"/>
<circle cx="1737.1" cy="158.7" r="2.1" fill="#b4b4b4"/>
<circle cx="1743" cy="160.9" r="2.1" fill="#b4b4b4"/>
<circle cx="1766.8" cy="160.9" r="2.1" fill="#b4b4b4"/>
<circle cx="1761.3" cy="164.3" r="2.1" fill="#b4b4b4"/>
<circle cx="1731.2" cy="178.6" r="2.1" fill="#b4b4b4"/>
<circle cx="1752.4" cy="177.4" r="2.1" fill="#b4b4b4"/>
<circle cx="1763.1" cy="176.7" r="2.1" fill="#b4b4b4"/>
<circle cx="1784.7" cy="177.4" r="2.1" fill="#b4b4b4"/>
<circle cx="1743" cy="183.1" r="2.1" fill="#b4b4b4"/>
<circle cx="1731.2" cy="194.1" r="2.1" fill="#b4b4b4"/>
<circle cx="1764.6" cy="200.8" r="2.1" fill="#b4b4b4"/>
<circle cx="1861.8" cy="64.2" r="2.1" fill="#b4b4b4"/>
<circle cx="1853.7" cy="76.6" r="2.1" fill="#b4b4b4"/>
<circle cx="1862.3" cy="83" r="2.1" fill="#b4b4b4"/>
<circle cx="1880" cy="82.1" r="2.1" fill="#b4b4b4"/>
<circle cx="1844.7" cy="90" r="2.1" fill="#b4b4b4"/>
<circle cx="1827.2" cy="94.4" r="2.1" fill="#b4b4b4"/>
<circle cx="1880" cy="94.4" r="2.1" fill="#b4b4b4"/>
<circle cx="1838.8" cy="99.6" r="2.1" fill="#b4b4b4"/>
<circle cx="1844.7" cy="102.1" r="2.1" fill="#b4b4b4"/>
<circle cx="1862.3" cy="101.1" r="2.1" fill="#b4b4b4"/>
<circle cx="1868.2" cy="99.6" r="2.1" fill="#b4b4b4"/>
<circle cx="1827.2" cy="113" r="2.1" fill="#b4b4b4"/>
<circle cx="1827.2" cy="123.1" r="2.1" fill="#b4b4b4"/>
<circle cx="1880" cy="123.1" r="2.1" fill="#b4b4b4"/>
<circle cx="1850.7" cy="135.3" r="2.1" fill="#b4b4b4"/>
<circle cx="1880" cy="136.5" r="2.1" fill="#b4b4b4"/>
<circle cx="1872.2" cy="141" r="2.1" fill="#b4b4b4"/>
<circle cx="1842.1" cy="146.5" r="2.1" fill="#b4b4b4"/>
<circle cx="1958.3" cy="67.9" r="2.1" fill="#b4b4b4"/>
<circle cx="1976.2" cy="95.4" r="2.1" fill="#b4b4b4"/>
<circle cx="1935" cy="101.1" r="2.1" fill="#b4b4b4"/>
<circle cx="1924.9" cy="114.2" r="2.1" fill="#b4b4b4"/>
<circle cx="1935" cy="115.2" r="2.1" fill="#b4b4b4"/>
<circle cx="1935" cy="124.6" r="2.1" fill="#b4b4b4"/>
<circle cx="1935" cy="148.7" r="2.1" fill="#b4b4b4"/>
<circle cx="1945.2" cy="150.6" r="2.1" fill="#b4b4b4"/>
<circle cx="1955.8" cy="148.7" r="2.1" fill="#b4b4b4"/>
<circle cx="1963.2" cy="161" r="2.1" fill="#b4b4b4"/>
<path d="M1757.9 95.3L1760.1 99.3L1755.7 99.3Z" fill="#acd7e1"/>
<path d="M1741.6 138.9L1743.8 142.9L1739.4 142.9Z" fill="#acd7e1"/>
<path d="M1774.3 146.3L1776.5 150.3L1772.1 150.3Z" fill="#acd7e1"/>
<path d="M1778.7 153L1780.9 157L1776.5 157Z" fill="#acd7e1"/>
<path d="M1772.3 157.5L1774.5 161.5L1770.1 161.5Z" fill="#acd7e1"/>
<path d="M1784.2 167.5L1786.4 171.5L1782 171.5Z" fill="#acd7e1"/>
<path d="M1731.2 171.8L1733.4 175.8L1729 175.8Z" fill="#acd7e1"/>
<path d="M1737.1 176.5L1739.3 180.5L1734.9 180.5Z" fill="#acd7e1"/>
<path d="M1773.8 173.3L1776 177.3L1771.6 177.3Z" fill="#acd7e1"/>
<path d="M1766.8 181.7L1769 185.7L1764.6 185.7Z" fill="#acd7e1"/>
<path d="M1772.3 179.5L1774.5 183.5L1770.1 183.5Z" fill="#acd7e1"/>
<path d="M1751.2 198.5L1753.4 202.5L1749 202.5Z" fill="#acd7e1"/>
<path d="M1757.9 203L1760.1 207L1755.7 207Z" fill="#acd7e1"/>
<path d="M1778 195.1L1780.2 199.1L1775.8 199.1Z" fill="#acd7e1"/>
<path d="M1775.8 217.4L1778 221.4L1773.6 221.4Z" fill="#acd7e1"/>
<path d="M1784.7 213L1786.9 217L1782.5 217Z" fill="#acd7e1"/>
<path d="M1845.5 63.3L1847.7 67.3L1843.3 67.3Z" fill="#acd7e1"/>
<path d="M1874 92L1876.2 96L1871.8 96Z" fill="#acd7e1"/>
<path d="M1832.8 97.5L1835 101.5L1830.6 101.5Z" fill="#acd7e1"/>
<path d="M1850.7 100.9L1852.9 104.9L1848.5 104.9Z" fill="#acd7e1"/>
<path d="M1856.6 100.5L1858.8 104.5L1854.4 104.5Z" fill="#acd7e1"/>
<path d="M1869.3 110.6L1871.5 114.6L1867.1 114.6Z" fill="#acd7e1"/>
<path d="M1837.6 115.3L1839.8 119.3L1835.4 119.3Z" fill="#acd7e1"/>
<path d="M1848 118.8L1850.2 122.8L1845.8 122.8Z" fill="#acd7e1"/>
<path d="M1832.8 124.7L1835 128.7L1830.6 128.7Z" fill="#acd7e1"/>
<path d="M1838.8 126.2L1841 130.2L1836.6 130.2Z" fill="#acd7e1"/>
<path d="M1874 123.2L1876.2 127.2L1871.8 127.2Z" fill="#acd7e1"/>
<path d="M1827.2 135.1L1829.4 139.1L1825 139.1Z" fill="#acd7e1"/>
<path d="M1858.1 146.7L1860.3 150.7L1855.9 150.7Z" fill="#acd7e1"/>
<path d="M1862.3 160.6L1864.5 164.6L1860.1 164.6Z" fill="#acd7e1"/>
<path d="M1880 157.6L1882.2 161.6L1877.8 161.6Z" fill="#acd7e1"/>
<path d="M1880 164.1L1882.2 168.1L1877.8 168.1Z" fill="#acd7e1"/>
<path d="M1837.6 173L1839.8 177L1835.4 177Z" fill="#acd7e1"/>
<path d="M1827.2 195.4L1829.4 199.4L1825 199.4Z" fill="#acd7e1"/>
<path d="M1853.7 203.2L1855.9 207.2L1851.5 207.2Z" fill="#acd7e1"/>
<path d="M1942.7 70.1L1944.9 74.1L1940.5 74.1Z" fill="#acd7e1"/>
<path d="M1959.1 87.8L1961.3 91.8L1956.9 91.8Z" fill="#acd7e1"/>
<path d="M1955.7 102L1957.9 106L1953.5 106Z" fill="#acd7e1"/>
<path d="M1976.2 109.8L1978.4 113.8L1974 113.8Z" fill="#acd7e1"/>
<path d="M1966.2 127.7L1968.4 131.7L1964 131.7Z" fill="#acd7e1"/>
<path d="M1976.2 137.4L1978.4 141.4L1974 141.4Z" fill="#acd7e1"/>
<path d="M1924.9 153.4L1927.1 157.4L1922.7 157.4Z" fill="#acd7e1"/>
<path d="M1976.2 155.6L1978.4 159.6L1974 159.6Z" fill="#acd7e1"/>
<path d="M1950.4 163.4L1952.6 167.4L1948.2 167.4Z" fill="#acd7e1"/>
<path d="M1950.4 179.9L1952.6 183.9L1948.2 183.9Z" fill="#acd7e1"/>
<path d="M1950.4 196.5L1952.6 200.5L1948.2 200.5Z" fill="#acd7e1"/>
<rect x="1755.8" y="104.5" width="4.3" height="4.3" fill="#b6eab6"/>
<rect x="1782.5" y="150" width="4.3" height="4.3" fill="#b6eab6"/>
<rect x="1746.8" y="161" width="4.3" height="4.3" fill="#b6eab6"/>
<rect x="1739.8" y="173.3" width="4.3" height="4.3" fill="#b6eab6"/>
<rect x="1776.5" y="176.4" width="4.3" height="4.3" fill="#b6eab6"/>
<rect x="1746.8" y="186.4" width="4.3" height="4.3" fill="#b6eab6"/>
<rect x="1735.6" y="194.3" width="4.3" height="4.3" fill="#b6eab6"/>
<rect x="1742.3" y="195.3" width="4.3" height="4.3" fill="#b6eab6"/>
<rect x="1769.1" y="197.5" width="4.3" height="4.3" fill="#b6eab6"/>
<rect x="1782.5" y="191.9" width="4.3" height="4.3" fill="#b6eab6"/>
<rect x="1729" y="212" width="4.3" height="4.3" fill="#b6eab6"/>
<rect x="1737.9" y="215.4" width="4.3" height="4.3" fill="#b6eab6"/>
<rect x="1746.8" y="217.3" width="4.3" height="4.3" fill="#b6eab6"/>
<rect x="1755.8" y="223.2" width="4.3" height="4.3" fill="#b6eab6"/>
<rect x="1764.6" y="218.4" width="4.3" height="4.3" fill="#b6eab6"/>
<rect x="1825" y="79.9" width="4.3" height="4.3" fill="#b6eab6"/>
<rect x="1877.8" y="108.6" width="4.3" height="4.3" fill="#b6eab6"/>
<rect x="1857" y="117.5" width="4.3" height="4.3" fill="#b6eab6"/>
<rect x="1866" y="125.4" width="4.3" height="4.3" fill="#b6eab6"/>
<rect x="1860.1" y="127.4" width="4.3" height="4.3" fill="#b6eab6"/>
<rect x="1842.5" y="129.8" width="4.3" height="4.3" fill="#b6eab6"/>
<rect x="1862.6" y="143.2" width="4.3" height="4.3" fill="#b6eab6"/>
<rect x="1847.3" y="146.5" width="4.3" height="4.3" fill="#b6eab6"/>
<rect x="1825" y="159.9" width="4.3" height="4.3" fill="#b6eab6"/>
<rect x="1825" y="164" width="4.3" height="4.3" fill="#b6eab6"/>
<rect x="1842.5" y="162.2" width="4.3" height="4.3" fill="#b6eab6"/>
<rect x="1845.8" y="175.2" width="4.3" height="4.3" fill="#b6eab6"/>
<rect x="1856.8" y="174.2" width="4.3" height="4.3" fill="#b6eab6"/>
<rect x="1867.1" y="171.9" width="4.3" height="4.3" fill="#b6eab6"/>
<rect x="1851.5" y="189.7" width="4.3" height="4.3" fill="#b6eab6"/>
<rect x="1864.5" y="200.8" width="4.3" height="4.3" fill="#b6eab6"/>
<rect x="1877.8" y="196.4" width="4.3" height="4.3" fill="#b6eab6"/>
<rect x="1851.5" y="219.5" width="4.3" height="4.3" fill="#b6eab6"/>
<rect x="1922.8" y="87.8" width="4.3" height="4.3" fill="#b6eab6"/>
<rect x="1939.8" y="88.8" width="4.3" height="4.3" fill="#b6eab6"/>
<rect x="1974" y="85.2" width="4.3" height="4.3" fill="#b6eab6"/>
<rect x="1922.8" y="94.4" width="4.3" height="4.3" fill="#b6eab6"/>
<rect x="1963.6" y="96.8" width="4.3" height="4.3" fill="#b6eab6"/>
<rect x="1943" y="101.9" width="4.3" height="4.3" fill="#b6eab6"/>
<rect x="1953.9" y="115.6" width="4.3" height="4.3" fill="#b6eab6"/>
<rect x="1963.6" y="112" width="4.3" height="4.3" fill="#b6eab6"/>
<rect x="1922.8" y="140.5" width="4.3" height="4.3" fill="#b6eab6"/>
<rect x="1963.6" y="145.4" width="4.3" height="4.3" fill="#b6eab6"/>
<rect x="1935.3" y="155.4" width="4.3" height="4.3" fill="#b6eab6"/>
<rect x="1932.8" y="185.2" width="4.3" height="4.3" fill="#b6eab6"/>
<rect x="1964" y="193" width="4.3" height="4.3" fill="#b6eab6"/>
<g stroke="#000" stroke-width="1.5" fill="none">
<path d="M1709.5 38.1V261.4H2000.3"/>
<path d="M1703.8 261.4H1709.5"/>
<path d="M1703.8 205.7H1709.5"/>
<path d="M1703.8 150.1H1709.5"/>
<path d="M1703.8 94.4H1709.5"/>
<path d="M1703.8 38.8H1709.5"/>
<path d="M1706.8 233.6H1709.5"/>
<path d="M1706.8 177.9H1709.5"/>
<path d="M1706.8 122.3H1709.5"/>
<path d="M1706.8 66.6H1709.5"/>
<path d="M1758 261.4V267.4"/>
<path d="M1854.4 261.4V267.4"/>
<path d="M1951.3 261.4V267.4"/>
</g>
<text x="1701" y="266" font-size="13.2" font-weight="bold" font-style="normal" text-anchor="end" fill="#000" textLength="6.8" lengthAdjust="spacingAndGlyphs">0</text>
<text x="1701" y="210.3" font-size="13.2" font-weight="bold" font-style="normal" text-anchor="end" fill="#000" textLength="21" lengthAdjust="spacingAndGlyphs">100</text>
<text x="1701" y="154.7" font-size="13.2" font-weight="bold" font-style="normal" text-anchor="end" fill="#000" textLength="21" lengthAdjust="spacingAndGlyphs">200</text>
<text x="1701" y="99" font-size="13.2" font-weight="bold" font-style="normal" text-anchor="end" fill="#000" textLength="21" lengthAdjust="spacingAndGlyphs">300</text>
<text x="1701" y="43.4" font-size="13.2" font-weight="bold" font-style="normal" text-anchor="end" fill="#000" textLength="21" lengthAdjust="spacingAndGlyphs">400</text>
<text x="0" y="0" font-size="18.6" font-weight="bold" font-style="normal" text-anchor="start" fill="#000" textLength="193.1" lengthAdjust="spacingAndGlyphs" transform="translate(1665.9 248.3) rotate(-90)">Maximum AP Firing (Hz)</text>
<text x="1735" y="283.7" font-size="14" font-weight="bold" font-style="normal" text-anchor="start" fill="#000" textLength="49.3" lengthAdjust="spacingAndGlyphs">Juvenile</text>
<text x="1814.5" y="283.7" font-size="14" font-weight="bold" font-style="normal" text-anchor="start" fill="#000" textLength="86.5" lengthAdjust="spacingAndGlyphs">Preadolescent</text>
<text x="1935" y="283.7" font-size="14" font-weight="bold" font-style="normal" text-anchor="start" fill="#000" textLength="33.5" lengthAdjust="spacingAndGlyphs">Adult</text>
<text x="1734.4" y="302.4" font-size="14" font-weight="bold" font-style="normal" text-anchor="start" fill="#000" textLength="50.9" lengthAdjust="spacingAndGlyphs">(P13-15)</text>
<text x="1830.7" y="302.4" font-size="14" font-weight="bold" font-style="normal" text-anchor="start" fill="#000" textLength="50.8" lengthAdjust="spacingAndGlyphs">(P21-26)</text>
<text x="1932.7" y="302.4" font-size="14" font-weight="bold" font-style="normal" text-anchor="start" fill="#000" textLength="38.4" lengthAdjust="spacingAndGlyphs">(P70+)</text>
<text x="1726" y="26.9" font-size="10.6" font-weight="bold" font-style="normal" text-anchor="start" fill="#111" textLength="57.8" lengthAdjust="spacingAndGlyphs">Main Effect</text>
<text x="1726" y="41.8" font-size="10.6" font-weight="normal" font-style="normal" text-anchor="start" fill="#222" textLength="103.9" lengthAdjust="spacingAndGlyphs">**** Age (p&lt;0.0001)</text>
<text x="1726" y="56.6" font-size="10.6" font-weight="normal" font-style="normal" text-anchor="start" fill="#222" textLength="122.1" lengthAdjust="spacingAndGlyphs">** Genotype (p=0.0017)</text>
<path d="M1758 190.1L1854.4 157.6L1951.3 126" fill="none" stroke="#00bf00" stroke-width="1.6"/>
<path d="M1758 177.4L1854.4 136L1951.3 136.5" fill="none" stroke="#1b7b98" stroke-width="1.6"/>
<path d="M1758 162.9L1854.4 112.2L1951.3 124.2" fill="none" stroke="#000" stroke-width="1.6"/>
<path d="M1758 183.1V197.8M1754.4 183.1H1761.6M1754.4 197.8H1761.6" fill="none" stroke="#00bf00" stroke-width="1.5"/>
<rect x="1754.4" y="186.5" width="7.2" height="7.2" fill="#00bf00"/>
<path d="M1854.4 149.6V166.2M1850.8 149.6H1858M1850.8 166.2H1858" fill="none" stroke="#00bf00" stroke-width="1.5"/>
<rect x="1850.8" y="154" width="7.2" height="7.2" fill="#00bf00"/>
<path d="M1951.3 123.5V128.5M1947.7 123.5H1954.9M1947.7 128.5H1954.9" fill="none" stroke="#00bf00" stroke-width="1.5"/>
<rect x="1947.7" y="122.4" width="7.2" height="7.2" fill="#00bf00"/>
<path d="M1758 172.3V182.6M1754.4 172.3H1761.6M1754.4 182.6H1761.6" fill="none" stroke="#1b7b98" stroke-width="1.5"/>
<path d="M1758 173.5L1761.8 180.5L1754.2 180.5Z" fill="#1b7b98"/>
<path d="M1854.4 127.1V142.5M1850.8 127.1H1858M1850.8 142.5H1858" fill="none" stroke="#1b7b98" stroke-width="1.5"/>
<path d="M1854.4 132.1L1858.2 139.1L1850.6 139.1Z" fill="#1b7b98"/>
<path d="M1951.3 126.5V147.2M1947.7 126.5H1954.9M1947.7 147.2H1954.9" fill="none" stroke="#1b7b98" stroke-width="1.5"/>
<path d="M1951.3 132.6L1955.1 139.6L1947.5 139.6Z" fill="#1b7b98"/>
<path d="M1758 156.9V168.8M1754.4 156.9H1761.6M1754.4 168.8H1761.6" fill="none" stroke="#000" stroke-width="1.5"/>
<ellipse cx="1758" cy="162.9" rx="3.8" ry="4.0" fill="#000"/>
<path d="M1854.4 105.6V119.2M1850.8 105.6H1858M1850.8 119.2H1858" fill="none" stroke="#000" stroke-width="1.5"/>
<ellipse cx="1854.4" cy="112.2" rx="3.8" ry="4.0" fill="#000"/>
<path d="M1951.3 115.6V133M1947.7 115.6H1954.9M1947.7 133H1954.9" fill="none" stroke="#000" stroke-width="1.5"/>
<ellipse cx="1951.3" cy="124.2" rx="3.8" ry="4.0" fill="#000"/>
<path d="M1967.4 28.9H1981.8" stroke="#000" stroke-width="1.6"/>
<ellipse cx="1974.7" cy="28.9" rx="4.3" ry="4.4" fill="#000"/>
<text x="1986" y="33.3" font-size="14.2" font-weight="bold" font-style="italic" fill="#000" textLength="61.2" lengthAdjust="spacingAndGlyphs">Grin2a<tspan font-size="9" dy="-5.5">+/+</tspan></text>
<path d="M1967.4 47.7H1981.8" stroke="#1b7b98" stroke-width="1.6"/>
<path d="M1974.7 43.3L1978.7 51.3L1970.7 51.3Z" fill="#1b7b98"/>
<text x="1986" y="52.1" font-size="14.2" font-weight="bold" font-style="italic" fill="#000" textLength="58.5" lengthAdjust="spacingAndGlyphs">Grin2a<tspan font-size="9" dy="-5.5">+/-</tspan></text>
<path d="M1967.4 67H1981.8" stroke="#00bf00" stroke-width="1.6"/>
<rect x="1970.5" y="62.8" width="8.4" height="8.4" fill="#00bf00"/>
<text x="1986" y="71.4" font-size="14.2" font-weight="bold" font-style="italic" fill="#000" textLength="56.5" lengthAdjust="spacingAndGlyphs">Grin2a<tspan font-size="9" dy="-5.5">-/-</tspan></text>
<circle cx="1758.2" cy="413.8" r="2.1" fill="#b4b4b4"/>
<circle cx="1731.6" cy="445.1" r="2.1" fill="#b4b4b4"/>
<circle cx="1767" cy="445.1" r="2.1" fill="#b4b4b4"/>
<circle cx="1749.3" cy="452.3" r="2.1" fill="#b4b4b4"/>
<circle cx="1771.4" cy="465" r="2.1" fill="#b4b4b4"/>
<circle cx="1784.7" cy="463.6" r="2.1" fill="#b4b4b4"/>
<circle cx="1739" cy="475.1" r="2.1" fill="#b4b4b4"/>
<circle cx="1777.2" cy="472.9" r="2.1" fill="#b4b4b4"/>
<circle cx="1762.4" cy="480.6" r="2.1" fill="#b4b4b4"/>
<circle cx="1779.9" cy="486.2" r="2.1" fill="#b4b4b4"/>
<circle cx="1784.7" cy="485.1" r="2.1" fill="#b4b4b4"/>
<circle cx="1746" cy="492.3" r="2.1" fill="#b4b4b4"/>
<circle cx="1761.4" cy="496.5" r="2.1" fill="#b4b4b4"/>
<circle cx="1731.6" cy="503.8" r="2.1" fill="#b4b4b4"/>
<circle cx="1746.8" cy="508" r="2.1" fill="#b4b4b4"/>
<circle cx="1777.1" cy="505.1" r="2.1" fill="#b4b4b4"/>
<circle cx="1853.9" cy="356" r="2.1" fill="#b4b4b4"/>
<circle cx="1845.7" cy="416.6" r="2.1" fill="#b4b4b4"/>
<circle cx="1845.7" cy="427.4" r="2.1" fill="#b4b4b4"/>
<circle cx="1861.9" cy="427.4" r="2.1" fill="#b4b4b4"/>
<circle cx="1827.3" cy="434.6" r="2.1" fill="#b4b4b4"/>
<circle cx="1853.7" cy="441.6" r="2.1" fill="#b4b4b4"/>
<circle cx="1867" cy="441.6" r="2.1" fill="#b4b4b4"/>
<circle cx="1880.2" cy="445.3" r="2.1" fill="#b4b4b4"/>
<circle cx="1832.9" cy="448.8" r="2.1" fill="#b4b4b4"/>
<circle cx="1843.2" cy="448.8" r="2.1" fill="#b4b4b4"/>
<circle cx="1864.3" cy="463" r="2.1" fill="#b4b4b4"/>
<circle cx="1869.6" cy="463" r="2.1" fill="#b4b4b4"/>
<circle cx="1874.9" cy="463" r="2.1" fill="#b4b4b4"/>
<circle cx="1827.3" cy="477.2" r="2.1" fill="#b4b4b4"/>
<circle cx="1836.2" cy="476.9" r="2.1" fill="#b4b4b4"/>
<circle cx="1853.7" cy="473.2" r="2.1" fill="#b4b4b4"/>
<circle cx="1871.6" cy="480.9" r="2.1" fill="#b4b4b4"/>
<circle cx="1880.2" cy="477.2" r="2.1" fill="#b4b4b4"/>
<circle cx="1845.1" cy="484.5" r="2.1" fill="#b4b4b4"/>
<circle cx="1853.7" cy="487.8" r="2.1" fill="#b4b4b4"/>
<circle cx="1849.8" cy="502.3" r="2.1" fill="#b4b4b4"/>
<circle cx="1958.3" cy="388.2" r="2.1" fill="#b4b4b4"/>
<circle cx="1950.6" cy="434.5" r="2.1" fill="#b4b4b4"/>
<circle cx="1966.5" cy="434.5" r="2.1" fill="#b4b4b4"/>
<circle cx="1924.9" cy="452.5" r="2.1" fill="#b4b4b4"/>
<circle cx="1976.1" cy="484.6" r="2.1" fill="#b4b4b4"/>
<circle cx="1937.8" cy="491.7" r="2.1" fill="#b4b4b4"/>
<circle cx="1950.6" cy="495.2" r="2.1" fill="#b4b4b4"/>
<circle cx="1976.1" cy="498.7" r="2.1" fill="#b4b4b4"/>
<circle cx="1935.1" cy="505.9" r="2.1" fill="#b4b4b4"/>
<circle cx="1945.3" cy="509.5" r="2.1" fill="#b4b4b4"/>
<circle cx="1949.7" cy="477.8" r="2.1" fill="#b4b4b4"/>
<path d="M1784.7 440.4L1786.9 444.4L1782.5 444.4Z" fill="#acd7e1"/>
<path d="M1745 463L1747.2 467L1742.8 467Z" fill="#acd7e1"/>
<path d="M1731.6 470.2L1733.8 474.2L1729.4 474.2Z" fill="#acd7e1"/>
<path d="M1784.7 469L1786.9 473L1782.5 473Z" fill="#acd7e1"/>
<path d="M1769.5 478.6L1771.7 482.6L1767.3 482.6Z" fill="#acd7e1"/>
<path d="M1754.5 480.1L1756.7 484.1L1752.3 484.1Z" fill="#acd7e1"/>
<path d="M1731.6 482.9L1733.8 486.9L1729.4 486.9Z" fill="#acd7e1"/>
<path d="M1736.4 485.5L1738.6 489.5L1734.2 489.5Z" fill="#acd7e1"/>
<path d="M1775 485.3L1777.2 489.3L1772.8 489.3Z" fill="#acd7e1"/>
<path d="M1750.7 493.2L1752.9 497.2L1748.5 497.2Z" fill="#acd7e1"/>
<path d="M1765.6 490.6L1767.8 494.6L1763.4 494.6Z" fill="#acd7e1"/>
<path d="M1769.6 503L1771.8 507L1767.4 507Z" fill="#acd7e1"/>
<path d="M1754.1 511.7L1756.3 515.7L1751.9 515.7Z" fill="#acd7e1"/>
<path d="M1731.6 514.4L1733.8 518.4L1729.4 518.4Z" fill="#acd7e1"/>
<path d="M1784.8 515.9L1787 519.9L1782.6 519.9Z" fill="#acd7e1"/>
<path d="M1758.1 525.9L1760.3 529.9L1755.9 529.9Z" fill="#acd7e1"/>
<path d="M1731.6 533.1L1733.8 537.1L1729.4 537.1Z" fill="#acd7e1"/>
<path d="M1861.9 411.1L1864.1 415.1L1859.7 415.1Z" fill="#acd7e1"/>
<path d="M1827.3 439.4L1829.5 443.4L1825.1 443.4Z" fill="#acd7e1"/>
<path d="M1880.2 439.2L1882.4 443.2L1878 443.2Z" fill="#acd7e1"/>
<path d="M1838.1 446.8L1840.3 450.8L1835.9 450.8Z" fill="#acd7e1"/>
<path d="M1869.6 446.8L1871.8 450.8L1867.4 450.8Z" fill="#acd7e1"/>
<path d="M1874.9 446.8L1877.1 450.8L1872.7 450.8Z" fill="#acd7e1"/>
<path d="M1848.7 454.4L1850.9 458.4L1846.5 458.4Z" fill="#acd7e1"/>
<path d="M1859.3 454.4L1861.5 458.4L1857.1 458.4Z" fill="#acd7e1"/>
<path d="M1832.9 461L1835.1 465L1830.7 465Z" fill="#acd7e1"/>
<path d="M1843.2 461L1845.4 465L1841 465Z" fill="#acd7e1"/>
<path d="M1848.3 467.9L1850.5 471.9L1846.1 471.9Z" fill="#acd7e1"/>
<path d="M1834.8 493L1837 497L1832.6 497Z" fill="#acd7e1"/>
<path d="M1842.5 496.6L1844.7 500.6L1840.3 500.6Z" fill="#acd7e1"/>
<path d="M1865 496.6L1867.2 500.6L1862.8 500.6Z" fill="#acd7e1"/>
<path d="M1880.2 489.7L1882.4 493.7L1878 493.7Z" fill="#acd7e1"/>
<path d="M1840.5 518.2L1842.7 522.2L1838.3 522.2Z" fill="#acd7e1"/>
<path d="M1880.2 518.2L1882.4 522.2L1878 522.2Z" fill="#acd7e1"/>
<path d="M1836.2 532.3L1838.4 536.3L1834 536.3Z" fill="#acd7e1"/>
<path d="M1845.1 532.3L1847.3 536.3L1842.9 536.3Z" fill="#acd7e1"/>
<path d="M1942.8 411.3L1945 415.3L1940.6 415.3Z" fill="#acd7e1"/>
<path d="M1976.1 435.8L1978.3 439.8L1973.9 439.8Z" fill="#acd7e1"/>
<path d="M1963.3 442.8L1965.5 446.8L1961.1 446.8Z" fill="#acd7e1"/>
<path d="M1950.6 446.4L1952.8 450.4L1948.4 450.4Z" fill="#acd7e1"/>
<path d="M1959.2 457.1L1961.4 461.1L1957 461.1Z" fill="#acd7e1"/>
<path d="M1963.3 471.4L1965.5 475.4L1961.1 475.4Z" fill="#acd7e1"/>
<path d="M1924.9 482.2L1927.1 486.2L1922.7 486.2Z" fill="#acd7e1"/>
<path d="M1963.3 489.6L1965.5 493.6L1961.1 493.6Z" fill="#acd7e1"/>
<path d="M1924.9 496.8L1927.1 500.8L1922.7 500.8Z" fill="#acd7e1"/>
<path d="M1965.9 503.8L1968.1 507.8L1963.7 507.8Z" fill="#acd7e1"/>
<path d="M1924.9 514.8L1927.1 518.8L1922.7 518.8Z" fill="#acd7e1"/>
<rect x="1756" y="437.2" width="4.3" height="4.3" fill="#b6eab6"/>
<rect x="1729.4" y="458.9" width="4.3" height="4.3" fill="#b6eab6"/>
<rect x="1744.6" y="478.9" width="4.3" height="4.3" fill="#b6eab6"/>
<rect x="1739.1" y="485.7" width="4.3" height="4.3" fill="#b6eab6"/>
<rect x="1768.1" y="486.8" width="4.3" height="4.3" fill="#b6eab6"/>
<rect x="1737" y="503" width="4.3" height="4.3" fill="#b6eab6"/>
<rect x="1782.6" y="500.6" width="4.3" height="4.3" fill="#b6eab6"/>
<rect x="1759.8" y="510.2" width="4.3" height="4.3" fill="#b6eab6"/>
<rect x="1742.8" y="517.2" width="4.3" height="4.3" fill="#b6eab6"/>
<rect x="1769.4" y="520.1" width="4.3" height="4.3" fill="#b6eab6"/>
<rect x="1782.6" y="531.5" width="4.3" height="4.3" fill="#b6eab6"/>
<rect x="1764.8" y="537.4" width="4.3" height="4.3" fill="#b6eab6"/>
<rect x="1747.2" y="541.8" width="4.3" height="4.3" fill="#b6eab6"/>
<rect x="1838.6" y="439.5" width="4.3" height="4.3" fill="#b6eab6"/>
<rect x="1862.1" y="450" width="4.3" height="4.3" fill="#b6eab6"/>
<rect x="1825.1" y="460.9" width="4.3" height="4.3" fill="#b6eab6"/>
<rect x="1835.9" y="460.9" width="4.3" height="4.3" fill="#b6eab6"/>
<rect x="1878" y="460.9" width="4.3" height="4.3" fill="#b6eab6"/>
<rect x="1857.1" y="471.1" width="4.3" height="4.3" fill="#b6eab6"/>
<rect x="1860.4" y="482.4" width="4.3" height="4.3" fill="#b6eab6"/>
<rect x="1825.1" y="492.9" width="4.3" height="4.3" fill="#b6eab6"/>
<rect x="1855.8" y="500.9" width="4.3" height="4.3" fill="#b6eab6"/>
<rect x="1870.3" y="493.2" width="4.3" height="4.3" fill="#b6eab6"/>
<rect x="1825.1" y="514.5" width="4.3" height="4.3" fill="#b6eab6"/>
<rect x="1851.5" y="521.8" width="4.3" height="4.3" fill="#b6eab6"/>
<rect x="1864.8" y="521.8" width="4.3" height="4.3" fill="#b6eab6"/>
<rect x="1825.1" y="525.2" width="4.3" height="4.3" fill="#b6eab6"/>
<rect x="1860.4" y="532.2" width="4.3" height="4.3" fill="#b6eab6"/>
<rect x="1869.4" y="532.2" width="4.3" height="4.3" fill="#b6eab6"/>
<rect x="1878" y="528.6" width="4.3" height="4.3" fill="#b6eab6"/>
<rect x="1851.5" y="535.6" width="4.3" height="4.3" fill="#b6eab6"/>
<rect x="1940.6" y="393.4" width="4.3" height="4.3" fill="#b6eab6"/>
<rect x="1956.3" y="403.9" width="4.3" height="4.3" fill="#b6eab6"/>
<rect x="1932.8" y="428.8" width="4.3" height="4.3" fill="#b6eab6"/>
<rect x="1922.8" y="435.8" width="4.3" height="4.3" fill="#b6eab6"/>
<rect x="1935.6" y="439.4" width="4.3" height="4.3" fill="#b6eab6"/>
<rect x="1973.9" y="450.4" width="4.3" height="4.3" fill="#b6eab6"/>
<rect x="1939.9" y="460.9" width="4.3" height="4.3" fill="#b6eab6"/>
<rect x="1922.8" y="464.8" width="4.3" height="4.3" fill="#b6eab6"/>
<rect x="1973.9" y="468.1" width="4.3" height="4.3" fill="#b6eab6"/>
<rect x="1953.4" y="507.4" width="4.3" height="4.3" fill="#b6eab6"/>
<rect x="1935.6" y="521.6" width="4.3" height="4.3" fill="#b6eab6"/>
<rect x="1948.4" y="525.2" width="4.3" height="4.3" fill="#b6eab6"/>
<rect x="1961.1" y="525.2" width="4.3" height="4.3" fill="#b6eab6"/>
<g stroke="#000" stroke-width="1.5" fill="none">
<path d="M1709.5 337.1V552.3H2000.3"/>
<path d="M1703.8 552.3H1709.5"/>
<path d="M1703.8 480.8H1709.5"/>
<path d="M1703.8 409.3H1709.5"/>
<path d="M1703.8 337.8H1709.5"/>
<path d="M1706.8 516.5H1709.5"/>
<path d="M1706.8 445H1709.5"/>
<path d="M1706.8 373.5H1709.5"/>
<path d="M1758 552.3V558.3"/>
<path d="M1854.4 552.3V558.3"/>
<path d="M1951.3 552.3V558.3"/>
</g>
<text x="1701" y="556.9" font-size="13.2" font-weight="bold" font-style="normal" text-anchor="end" fill="#000" textLength="6.8" lengthAdjust="spacingAndGlyphs">0</text>
<text x="1701" y="485.4" font-size="13.2" font-weight="bold" font-style="normal" text-anchor="end" fill="#000" textLength="29" lengthAdjust="spacingAndGlyphs">1000</text>
<text x="1701" y="413.9" font-size="13.2" font-weight="bold" font-style="normal" text-anchor="end" fill="#000" textLength="29" lengthAdjust="spacingAndGlyphs">2000</text>
<text x="1701" y="342.4" font-size="13.2" font-weight="bold" font-style="normal" text-anchor="end" fill="#000" textLength="29" lengthAdjust="spacingAndGlyphs">3000</text>
<text x="0" y="0" font-size="18.6" font-weight="bold" font-style="normal" text-anchor="start" fill="#000" textLength="206.4" lengthAdjust="spacingAndGlyphs" transform="translate(1661.6 550.2) rotate(-90)">Depolarization Block (pA)</text>
<text x="1735" y="574.6" font-size="14" font-weight="bold" font-style="normal" text-anchor="start" fill="#000" textLength="49.3" lengthAdjust="spacingAndGlyphs">Juvenile</text>
<text x="1814.5" y="574.6" font-size="14" font-weight="bold" font-style="normal" text-anchor="start" fill="#000" textLength="86.5" lengthAdjust="spacingAndGlyphs">Preadolescent</text>
<text x="1935" y="574.6" font-size="14" font-weight="bold" font-style="normal" text-anchor="start" fill="#000" textLength="33.5" lengthAdjust="spacingAndGlyphs">Adult</text>
<text x="1734.4" y="593.3" font-size="14" font-weight="bold" font-style="normal" text-anchor="start" fill="#000" textLength="50.9" lengthAdjust="spacingAndGlyphs">(P13-15)</text>
<text x="1830.7" y="593.3" font-size="14" font-weight="bold" font-style="normal" text-anchor="start" fill="#000" textLength="50.8" lengthAdjust="spacingAndGlyphs">(P21-26)</text>
<text x="1932.7" y="593.3" font-size="14" font-weight="bold" font-style="normal" text-anchor="start" fill="#000" textLength="38.4" lengthAdjust="spacingAndGlyphs">(P70+)</text>
<text x="1726" y="349.7" font-size="10.6" font-weight="bold" font-style="normal" text-anchor="start" fill="#111" textLength="57.8" lengthAdjust="spacingAndGlyphs">Main Effect</text>
<text x="1726" y="364.6" font-size="10.6" font-weight="normal" font-style="normal" text-anchor="start" fill="#222" textLength="79.1" lengthAdjust="spacingAndGlyphs">* Age (p=0.017)</text>
<text x="1726" y="379.4" font-size="10.6" font-weight="normal" font-style="normal" text-anchor="start" fill="#222" textLength="122.1" lengthAdjust="spacingAndGlyphs">** Genotype (p=0.0055)</text>
<path d="M1758 501.2L1854.4 497.7L1951.3 469.6" fill="none" stroke="#00bf00" stroke-width="1.6"/>
<path d="M1758 494.2L1854.4 475.9L1951.3 470.3" fill="none" stroke="#1b7b98" stroke-width="1.6"/>
<path d="M1758 475.8L1854.4 454.1L1951.3 470.5" fill="none" stroke="#000" stroke-width="1.6"/>
<path d="M1758 492.6V508.7M1754.4 492.6H1761.6M1754.4 508.7H1761.6" fill="none" stroke="#00bf00" stroke-width="1.5"/>
<rect x="1754.4" y="497.6" width="7.2" height="7.2" fill="#00bf00"/>
<path d="M1854.4 490.7V505.6M1850.8 490.7H1858M1850.8 505.6H1858" fill="none" stroke="#00bf00" stroke-width="1.5"/>
<rect x="1850.8" y="494.1" width="7.2" height="7.2" fill="#00bf00"/>
<path d="M1951.3 457.7V482.5M1947.7 457.7H1954.9M1947.7 482.5H1954.9" fill="none" stroke="#00bf00" stroke-width="1.5"/>
<rect x="1947.7" y="466" width="7.2" height="7.2" fill="#00bf00"/>
<path d="M1758 486.9V502M1754.4 486.9H1761.6M1754.4 502H1761.6" fill="none" stroke="#1b7b98" stroke-width="1.5"/>
<path d="M1758 490.3L1761.8 497.3L1754.2 497.3Z" fill="#1b7b98"/>
<path d="M1854.4 467.3V482.7M1850.8 467.3H1858M1850.8 482.7H1858" fill="none" stroke="#1b7b98" stroke-width="1.5"/>
<path d="M1854.4 472L1858.2 479L1850.6 479Z" fill="#1b7b98"/>
<path d="M1951.3 461.9V479.4M1947.7 461.9H1954.9M1947.7 479.4H1954.9" fill="none" stroke="#1b7b98" stroke-width="1.5"/>
<path d="M1951.3 466.4L1955.1 473.4L1947.5 473.4Z" fill="#1b7b98"/>
<path d="M1758 469.4V481.8M1754.4 469.4H1761.6M1754.4 481.8H1761.6" fill="none" stroke="#000" stroke-width="1.5"/>
<ellipse cx="1758" cy="475.8" rx="3.8" ry="4.0" fill="#000"/>
<path d="M1854.4 447.5V461.4M1850.8 447.5H1858M1850.8 461.4H1858" fill="none" stroke="#000" stroke-width="1.5"/>
<ellipse cx="1854.4" cy="454.1" rx="3.8" ry="4.0" fill="#000"/>
<path d="M1951.3 458.2V481.7M1947.7 458.2H1954.9M1947.7 481.7H1954.9" fill="none" stroke="#000" stroke-width="1.5"/>
<ellipse cx="1951.3" cy="470.5" rx="3.8" ry="4.0" fill="#000"/>
<path d="M1967.4 353.5H1981.8" stroke="#000" stroke-width="1.6"/>
<ellipse cx="1974.7" cy="353.5" rx="4.3" ry="4.4" fill="#000"/>
<text x="1986" y="357.9" font-size="14.2" font-weight="bold" font-style="italic" fill="#000" textLength="61.2" lengthAdjust="spacingAndGlyphs">Grin2a<tspan font-size="9" dy="-5.5">+/+</tspan></text>
<path d="M1967.4 373.4H1981.8" stroke="#1b7b98" stroke-width="1.6"/>
<path d="M1974.7 369L1978.7 377L1970.7 377Z" fill="#1b7b98"/>
<text x="1986" y="377.8" font-size="14.2" font-weight="bold" font-style="italic" fill="#000" textLength="58.5" lengthAdjust="spacingAndGlyphs">Grin2a<tspan font-size="9" dy="-5.5">+/-</tspan></text>
<path d="M1967.4 392.2H1981.8" stroke="#00bf00" stroke-width="1.6"/>
<rect x="1970.5" y="388" width="8.4" height="8.4" fill="#00bf00"/>
<text x="1986" y="396.6" font-size="14.2" font-weight="bold" font-style="italic" fill="#000" textLength="56.5" lengthAdjust="spacingAndGlyphs">Grin2a<tspan font-size="9" dy="-5.5">-/-</tspan></text></svg></body></html>
